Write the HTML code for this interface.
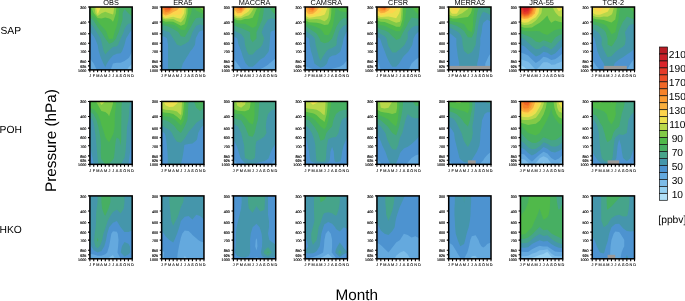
<!DOCTYPE html>
<html><head><meta charset="utf-8"><title>Ozone seasonal cycle</title>
<style>html,body{margin:0;padding:0;background:#fff;overflow:hidden}svg{display:block;will-change:transform;text-rendering:geometricPrecision}</style></head>
<body>
<svg width="685" height="301" viewBox="0 0 685 301" font-family="Liberation Sans, sans-serif">
<rect width="685" height="301" fill="#fff"/>
<g>
<rect x="89.9" y="7" width="42.3" height="62.9" fill="#7cbce8"/>
<path fill="#64a9de" d="M93.75,7 97.59,7 101.44,7 105.28,7 109.13,7 112.97,7 116.82,7 120.66,7 124.51,7 128.35,7 132.2,7 132.2,13.29 132.2,19.58 132.2,25.87 132.2,32.16 132.2,38.45 132.2,44.74 132.2,51.03 132.2,57.32 132.2,63.61 132.2,63.61 128.35,67.8 126.82,69.9 124.51,69.9 120.66,69.9 116.82,69.9 112.97,69.9 109.13,69.9 105.28,69.9 101.44,69.9 97.59,69.9 93.75,69.9 89.9,69.9 89.9,63.61 89.9,57.32 89.9,51.03 89.9,44.74 89.9,38.45 89.9,32.16 89.9,25.87 89.9,19.58 89.9,13.29 89.9,7Z"/>
<path fill="#4d93d0" d="M93.75,7 97.59,7 101.44,7 105.28,7 109.13,7 112.97,7 116.82,7 120.66,7 124.51,7 128.35,7 132.2,7 132.2,13.29 132.2,19.58 132.2,25.87 132.2,32.16 132.2,38.45 132.2,44.74 132.2,51.03 132.2,51.03 129.32,57.32 128.35,58.22 124.51,60.91 120.66,62.71 116.82,62.71 112.97,63.61 112.97,63.61 110.67,69.9 109.13,69.9 105.28,69.9 101.44,69.9 97.59,69.9 96.82,69.9 93.75,63.61 93.75,63.61 89.9,58.58 89.9,57.32 89.9,51.03 89.9,44.74 89.9,38.45 89.9,32.16 89.9,25.87 89.9,19.58 89.9,13.29 89.9,7Z"/>
<path fill="#4596ab" d="M93.75,7 97.59,7 101.44,7 105.28,7 109.13,7 112.97,7 116.82,7 120.66,7 124.51,7 128.35,7 132.2,7 132.2,13.29 132.2,19.58 132.2,25.87 132.2,29.46 129.89,32.16 128.35,34.68 126.05,38.45 124.51,44.74 124.51,44.74 122.2,51.03 120.66,53.13 116.82,53.73 112.97,55.38 111.43,57.32 109.13,60.02 106.93,63.61 105.28,67.04 103.36,63.61 101.44,58.89 100.67,57.32 98.69,51.03 97.59,44.74 97.59,44.74 95.03,38.45 93.75,36.35 90.67,32.16 89.9,31.26 89.9,25.87 89.9,19.58 89.9,13.29 89.9,7Z"/>
<path fill="#46a48a" d="M93.75,7 97.59,7 101.44,7 105.28,7 109.13,7 112.97,7 116.82,7 120.66,7 124.51,7 128.35,7 132.2,7 132.2,13.29 132.2,19.58 132.2,23.17 128.35,23.77 126.43,25.87 124.51,29.01 123.55,32.16 120.66,38.45 120.66,38.45 118.1,44.74 116.82,46.14 112.97,46.96 109.13,50.33 108.36,51.03 105.28,54.62 103.57,51.03 102.14,44.74 101.44,41.59 100.47,38.45 97.59,33.73 96.63,32.16 93.75,27.44 92.46,25.87 89.9,23.07 89.9,19.58 89.9,13.29 89.9,7Z"/>
<path fill="#47af62" d="M93.75,7 97.59,7 101.44,7 105.28,7 109.13,7 112.97,7 116.82,7 120.66,7 124.51,7 128.35,7 132.2,7 132.2,13.29 132.2,16.43 128.35,13.29 128.35,13.29 124.51,9.1 122.59,13.29 122.59,19.58 120.66,25.87 120.66,25.87 118.74,32.16 116.82,36.35 116.18,38.45 112.97,42.15 109.13,43.77 105.28,38.45 105.28,38.45 101.44,32.16 101.44,32.16 97.59,27.13 96.82,25.87 93.75,20.84 92.65,19.58 89.9,17.73 89.9,13.29 89.9,7Z"/>
<path fill="#50b94a" d="M93.75,7 97.59,7 101.44,7 105.28,7 109.13,7 112.97,7 116.82,7 119.38,7 118.74,13.29 118.36,19.58 116.82,25.87 116.82,25.87 114.51,32.16 112.97,38.45 112.97,38.45 109.13,38.93 108.78,38.45 106.56,32.16 105.28,30.06 101.44,25.87 101.44,25.87 97.59,21.3 96.54,19.58 93.75,16.78 89.9,14.03 89.9,13.29 89.9,7Z"/>
<path fill="#82ca47" d="M93.75,7 97.59,7 101.44,7 105.28,7 109.13,7 112.97,7 116.39,7 115.86,13.29 113.93,19.58 112.97,21.68 111.05,19.58 109.13,18.53 105.28,17.48 101.44,18.53 97.59,18.06 93.75,13.29 93.75,13.29 91,7Z"/>
<path fill="#b9d84a" d="M97.59,7 101.44,7 105.28,7 109.13,7 112.97,7 114.25,7 113.45,13.29 112.97,14.55 109.13,13.29 109.13,13.29 105.28,11.72 101.44,13.29 101.44,13.29 97.59,15.89 95.49,13.29 94.46,7Z"/>
<path fill="#ebe04e" d="M97.59,7 100.89,7 98.23,13.29 97.59,13.72 97.24,13.29 95.88,7Z"/>
<path fill="#fdd44c" d="M97.59,7 98.14,7 97.59,8.26 97.31,7Z"/>
<path d="M89.9,7h-1.9M89.9,22.03h-1.9M89.9,33.69h-1.9M89.9,43.21h-1.9M89.9,51.27h-1.9M89.9,61.41h-1.9M89.9,65.83h-1.9M89.9,69.9h-1.9M89.9,69.9v2.4M93.75,69.9v2.4M97.59,69.9v2.4M101.44,69.9v2.4M105.28,69.9v2.4M109.13,69.9v2.4M112.97,69.9v2.4M116.82,69.9v2.4M120.66,69.9v2.4M124.51,69.9v2.4M128.35,69.9v2.4M132.2,69.9v2.4" stroke="#000" stroke-width="1.1" fill="none"/>
<rect x="89.9" y="7" width="42.3" height="62.9" fill="none" stroke="#000" stroke-width="1.5"/>
<text x="86.3" y="8.8" font-size="3.7" text-anchor="end" fill="#000" stroke="#000" stroke-width="0.15">300</text>
<text x="86.3" y="23.83" font-size="3.7" text-anchor="end" fill="#000" stroke="#000" stroke-width="0.15">400</text>
<text x="86.3" y="35.49" font-size="3.7" text-anchor="end" fill="#000" stroke="#000" stroke-width="0.15">500</text>
<text x="86.3" y="45.01" font-size="3.7" text-anchor="end" fill="#000" stroke="#000" stroke-width="0.15">600</text>
<text x="86.3" y="53.07" font-size="3.7" text-anchor="end" fill="#000" stroke="#000" stroke-width="0.15">700</text>
<text x="86.3" y="63.21" font-size="3.7" text-anchor="end" fill="#000" stroke="#000" stroke-width="0.15">850</text>
<text x="86.3" y="67.63" font-size="3.7" text-anchor="end" fill="#000" stroke="#000" stroke-width="0.15">925</text>
<text x="86.3" y="71.7" font-size="3.7" text-anchor="end" fill="#000" stroke="#000" stroke-width="0.15">1000</text>
<text x="90.1" y="77.1" font-size="3.8" text-anchor="middle" fill="#000" stroke="#000" stroke-width="0.08">J</text>
<text x="93.95" y="77.1" font-size="3.8" text-anchor="middle" fill="#000" stroke="#000" stroke-width="0.08">F</text>
<text x="97.79" y="77.1" font-size="3.8" text-anchor="middle" fill="#000" stroke="#000" stroke-width="0.08">M</text>
<text x="101.64" y="77.1" font-size="3.8" text-anchor="middle" fill="#000" stroke="#000" stroke-width="0.08">A</text>
<text x="105.48" y="77.1" font-size="3.8" text-anchor="middle" fill="#000" stroke="#000" stroke-width="0.08">M</text>
<text x="109.33" y="77.1" font-size="3.8" text-anchor="middle" fill="#000" stroke="#000" stroke-width="0.08">J</text>
<text x="113.17" y="77.1" font-size="3.8" text-anchor="middle" fill="#000" stroke="#000" stroke-width="0.08">J</text>
<text x="117.02" y="77.1" font-size="3.8" text-anchor="middle" fill="#000" stroke="#000" stroke-width="0.08">A</text>
<text x="120.86" y="77.1" font-size="3.8" text-anchor="middle" fill="#000" stroke="#000" stroke-width="0.08">S</text>
<text x="124.71" y="77.1" font-size="3.8" text-anchor="middle" fill="#000" stroke="#000" stroke-width="0.08">O</text>
<text x="128.55" y="77.1" font-size="3.8" text-anchor="middle" fill="#000" stroke="#000" stroke-width="0.08">N</text>
<text x="132.4" y="77.1" font-size="3.8" text-anchor="middle" fill="#000" stroke="#000" stroke-width="0.08">D</text>
<text x="111.05" y="5.1" font-size="7.35" text-anchor="middle">OBS</text>
</g>
<g>
<rect x="161.66" y="7" width="42.3" height="62.9" fill="#4d93d0"/>
<path fill="#4596ab" d="M165.51,7 169.35,7 173.2,7 177.04,7 180.89,7 184.73,7 188.58,7 192.42,7 196.27,7 200.11,7 203.96,7 203.96,13.29 203.96,19.58 203.96,25.87 203.96,30.36 200.11,30.9 198.83,32.16 196.27,37.19 195.72,38.45 194.99,44.74 192.42,48.93 190.5,51.03 188.58,54.17 186.66,57.32 184.73,60.47 182.81,63.61 180.89,69.9 180.89,69.9 177.04,69.9 173.2,69.9 169.35,69.9 168.07,69.9 168.07,63.61 168.07,57.32 168.07,51.03 168.07,44.74 167.04,38.45 165.51,37.19 161.66,35.65 161.66,32.16 161.66,25.87 161.66,19.58 161.66,13.29 161.66,7Z"/>
<path fill="#46a48a" d="M165.51,7 169.35,7 173.2,7 177.04,7 180.89,7 184.73,7 188.58,7 192.42,7 196.27,7 200.11,7 203.96,7 203.96,13.29 203.96,19.58 203.96,25.87 200.11,24.3 196.27,25.87 196.27,25.87 192.42,32.16 192.42,32.16 190.23,38.45 188.58,41.59 184.73,44.04 182.81,44.74 180.89,46 177.04,44.74 177.04,44.74 173.2,38.45 173.2,38.45 169.35,32.16 169.35,32.16 165.51,31.11 161.66,29.3 161.66,25.87 161.66,19.58 161.66,13.29 161.66,7Z"/>
<path fill="#47af62" d="M165.51,7 169.35,7 173.2,7 177.04,7 180.89,7 184.73,7 188.58,7 192.42,7 196.27,7 200.11,7 203.96,7 203.96,13.29 203.96,18.68 200.11,17.48 196.27,18.01 194.99,19.58 192.42,23.77 191.46,25.87 188.58,30.59 187.62,32.16 184.73,36.88 180.89,36.35 178.32,32.16 177.04,31.26 173.2,29.01 169.35,26.92 165.51,25.87 165.51,25.87 161.66,24.9 161.66,19.58 161.66,13.29 161.66,7Z"/>
<path fill="#50b94a" d="M165.51,7 169.35,7 173.2,7 177.04,7 180.89,7 184.73,7 188.58,7 192.42,7 191.14,13.29 188.58,19.58 188.58,19.58 187.3,25.87 184.73,30.06 180.89,29.8 177.04,26.77 175.76,25.87 173.2,24.73 169.35,23.93 165.51,23.77 161.66,22.48 161.66,19.58 161.66,13.29 161.66,7ZM196.27,7 200.11,7 203.96,7 203.96,13.29 203.96,14.19 202.04,13.29 200.11,12.39 196.27,10.49 192.42,7Z"/>
<path fill="#82ca47" d="M165.51,7 169.35,7 173.2,7 177.04,7 180.89,7 184.73,7 187.81,7 187.62,13.29 186.17,19.58 184.73,24.3 180.89,25.87 177.04,23.68 173.2,21.87 169.35,21.52 165.51,21.68 161.66,20.06 161.66,19.58 161.66,13.29 161.66,7ZM200.11,7 203.96,7 203.96,11.1 200.11,7.9 199.02,7Z"/>
<path fill="#b9d84a" d="M165.51,7 169.35,7 173.2,7 177.04,7 180.89,7 184.73,7 186.27,7 186.01,13.29 184.73,17.48 183.45,19.58 180.89,22.38 177.04,20.95 174.3,19.58 173.2,19.11 169.35,19.24 165.51,19.58 161.66,18.26 161.66,13.29 161.66,7ZM203.96,7 203.96,8.37 202.48,7Z"/>
<path fill="#ebe04e" d="M165.51,7 169.35,7 173.2,7 177.04,7 180.89,7 184.73,7 184.18,13.29 180.89,18.68 177.04,18.01 173.2,16.78 169.35,17.54 165.51,18.18 161.66,16.6 161.66,13.29 161.66,7Z"/>
<path fill="#fdd44c" d="M165.51,7 169.35,7 173.2,7 177.04,7 180.89,7 182.6,7 181.44,13.29 180.89,14.19 177.04,14.86 173.2,14.45 169.35,15.84 165.51,16.78 161.66,14.95 161.66,13.29 161.66,7Z"/>
<path fill="#f8ae3e" d="M165.51,7 169.35,7 173.2,7 177.04,7 179.79,7 177.04,10.14 173.2,12.03 171.27,13.29 169.35,14.14 165.51,15.39 161.66,13.29 161.66,13.29 161.66,7Z"/>
<path fill="#fa9b32" d="M165.51,7 169.35,7 173.2,7 175.76,7 173.2,9.52 169.35,12.66 167.43,13.29 165.51,13.99 164.22,13.29 161.66,10.14 161.66,7Z"/>
<path fill="#f68229" d="M165.51,7 169.35,7 173.2,7 169.35,11.4 165.51,12.24 161.66,7Z"/>
<path fill="#f16726" d="M165.51,7 169.35,7 172.1,7 169.35,10.14 165.51,10.14 163.2,7Z"/>
<path fill="#ec4d27" d="M165.51,7 169.35,7 171,7 169.35,8.89 165.51,8.05 164.74,7Z"/>
<path fill="#e43a28" d="M169.35,7 169.9,7 169.35,7.63 167.43,7Z"/>
<path d="M161.66,7h-1.9M161.66,22.03h-1.9M161.66,33.69h-1.9M161.66,43.21h-1.9M161.66,51.27h-1.9M161.66,61.41h-1.9M161.66,65.83h-1.9M161.66,69.9h-1.9M161.66,69.9v2.4M165.51,69.9v2.4M169.35,69.9v2.4M173.2,69.9v2.4M177.04,69.9v2.4M180.89,69.9v2.4M184.73,69.9v2.4M188.58,69.9v2.4M192.42,69.9v2.4M196.27,69.9v2.4M200.11,69.9v2.4M203.96,69.9v2.4" stroke="#000" stroke-width="1.1" fill="none"/>
<rect x="161.66" y="7" width="42.3" height="62.9" fill="none" stroke="#000" stroke-width="1.5"/>
<text x="158.06" y="8.8" font-size="3.7" text-anchor="end" fill="#000" stroke="#000" stroke-width="0.15">300</text>
<text x="158.06" y="23.83" font-size="3.7" text-anchor="end" fill="#000" stroke="#000" stroke-width="0.15">400</text>
<text x="158.06" y="35.49" font-size="3.7" text-anchor="end" fill="#000" stroke="#000" stroke-width="0.15">500</text>
<text x="158.06" y="45.01" font-size="3.7" text-anchor="end" fill="#000" stroke="#000" stroke-width="0.15">600</text>
<text x="158.06" y="53.07" font-size="3.7" text-anchor="end" fill="#000" stroke="#000" stroke-width="0.15">700</text>
<text x="158.06" y="63.21" font-size="3.7" text-anchor="end" fill="#000" stroke="#000" stroke-width="0.15">850</text>
<text x="158.06" y="67.63" font-size="3.7" text-anchor="end" fill="#000" stroke="#000" stroke-width="0.15">925</text>
<text x="158.06" y="71.7" font-size="3.7" text-anchor="end" fill="#000" stroke="#000" stroke-width="0.15">1000</text>
<text x="161.86" y="77.1" font-size="3.8" text-anchor="middle" fill="#000" stroke="#000" stroke-width="0.08">J</text>
<text x="165.71" y="77.1" font-size="3.8" text-anchor="middle" fill="#000" stroke="#000" stroke-width="0.08">F</text>
<text x="169.55" y="77.1" font-size="3.8" text-anchor="middle" fill="#000" stroke="#000" stroke-width="0.08">M</text>
<text x="173.4" y="77.1" font-size="3.8" text-anchor="middle" fill="#000" stroke="#000" stroke-width="0.08">A</text>
<text x="177.24" y="77.1" font-size="3.8" text-anchor="middle" fill="#000" stroke="#000" stroke-width="0.08">M</text>
<text x="181.09" y="77.1" font-size="3.8" text-anchor="middle" fill="#000" stroke="#000" stroke-width="0.08">J</text>
<text x="184.93" y="77.1" font-size="3.8" text-anchor="middle" fill="#000" stroke="#000" stroke-width="0.08">J</text>
<text x="188.78" y="77.1" font-size="3.8" text-anchor="middle" fill="#000" stroke="#000" stroke-width="0.08">A</text>
<text x="192.62" y="77.1" font-size="3.8" text-anchor="middle" fill="#000" stroke="#000" stroke-width="0.08">S</text>
<text x="196.47" y="77.1" font-size="3.8" text-anchor="middle" fill="#000" stroke="#000" stroke-width="0.08">O</text>
<text x="200.31" y="77.1" font-size="3.8" text-anchor="middle" fill="#000" stroke="#000" stroke-width="0.08">N</text>
<text x="204.16" y="77.1" font-size="3.8" text-anchor="middle" fill="#000" stroke="#000" stroke-width="0.08">D</text>
<text x="182.81" y="5.1" font-size="7.35" text-anchor="middle">ERA5</text>
</g>
<g>
<rect x="233.42" y="7" width="42.3" height="62.9" fill="#64a9de"/>
<path fill="#4d93d0" d="M237.27,7 241.11,7 244.96,7 248.8,7 252.65,7 256.49,7 260.34,7 264.18,7 268.03,7 271.87,7 275.72,7 275.72,13.29 275.72,19.58 275.72,25.87 275.72,32.16 275.72,38.45 275.72,44.74 275.72,51.03 275.72,57.32 275.72,58.37 271.87,61.51 269.31,63.61 268.03,64.87 264.18,67.2 260.34,69 259.06,69.9 256.49,69.9 252.65,69.9 248.8,69.9 244.96,69.9 242.39,69.9 241.11,68.85 237.27,63.61 237.27,63.61 233.42,58.37 233.42,57.32 233.42,51.03 233.42,44.74 233.42,38.45 233.42,32.16 233.42,25.87 233.42,19.58 233.42,13.29 233.42,7Z"/>
<path fill="#4596ab" d="M237.27,7 241.11,7 244.96,7 248.8,7 252.65,7 256.49,7 260.34,7 264.18,7 268.03,7 271.87,7 275.72,7 275.72,13.29 275.72,19.58 275.72,25.87 275.72,30.06 271.87,30.9 270.59,32.16 269.95,38.45 269.57,44.74 268.8,51.03 268.03,52.6 264.18,57.32 264.18,57.32 260.34,59.42 256.49,63.61 256.49,63.61 252.65,66.75 248.8,66.75 245.73,63.61 244.96,62.04 243.03,57.32 241.11,51.03 241.11,51.03 238.55,44.74 237.27,38.45 237.27,38.45 233.42,35.93 233.42,32.16 233.42,25.87 233.42,19.58 233.42,13.29 233.42,7Z"/>
<path fill="#46a48a" d="M237.27,7 241.11,7 244.96,7 248.8,7 252.65,7 256.49,7 260.34,7 264.18,7 268.03,7 271.87,7 275.72,7 275.72,13.29 275.72,19.58 271.87,18.32 268.03,19.58 268.03,19.58 264.18,25.87 264.18,25.87 261.62,32.16 264.18,38.45 262.26,44.74 260.34,47.44 256.49,50.13 255.72,51.03 252.65,54.62 248.8,54.8 246.88,51.03 244.96,44.74 244.96,44.74 244.32,38.45 241.11,33.96 237.27,32.16 237.27,32.16 233.42,30.06 233.42,25.87 233.42,19.58 233.42,13.29 233.42,7Z"/>
<path fill="#47af62" d="M237.27,7 241.11,7 244.96,7 248.8,7 252.65,7 256.49,7 260.34,7 264.18,7 263.41,13.29 262.26,19.58 260.34,23.77 259.7,25.87 256.49,32.16 256.49,32.16 256.49,38.45 252.65,42.22 250.34,38.45 250.08,32.16 248.8,31.59 244.96,29.64 241.11,27.97 237.27,26.92 235.34,25.87 233.42,25.17 233.42,19.58 233.42,13.29 233.42,7ZM271.87,7 275.72,7 275.72,13.29 275.72,14.34 273.8,13.29 271.87,11.19 269.31,7Z"/>
<path fill="#50b94a" d="M237.27,7 241.11,7 244.96,7 248.8,7 252.65,7 256.49,7 260.34,7 260.98,7 260.34,10.14 259.38,13.29 258.03,19.58 256.49,25.87 256.49,25.87 252.65,27.97 248.8,25.87 248.8,25.87 244.96,23.77 241.11,23.77 237.27,23.35 233.42,21.68 233.42,19.58 233.42,13.29 233.42,7ZM275.72,7 275.72,8.26 274.76,7Z"/>
<path fill="#82ca47" d="M237.27,7 241.11,7 244.96,7 248.8,7 252.65,7 256.49,7 257.26,7 256.49,9.1 254.78,13.29 252.65,17.78 248.8,18.84 244.96,19.06 243.03,19.58 241.11,20.28 237.27,20.21 235.98,19.58 233.42,18.79 233.42,13.29 233.42,7Z"/>
<path fill="#b9d84a" d="M237.27,7 241.11,7 244.96,7 248.8,7 252.65,7 254.13,7 252.65,10.14 250.72,13.29 248.8,15.14 244.96,16.43 241.11,18.18 237.27,18.26 233.42,16.83 233.42,13.29 233.42,7Z"/>
<path fill="#ebe04e" d="M237.27,7 241.11,7 244.96,7 248.8,7 251.37,7 248.8,11.19 246.06,13.29 244.96,13.81 241.11,16.43 237.27,16.6 233.42,14.86 233.42,13.29 233.42,7Z"/>
<path fill="#fdd44c" d="M237.27,7 241.11,7 244.96,7 248.8,7 244.96,11.35 243.03,13.29 241.11,14.69 237.27,14.95 234.06,13.29 233.42,12.5 233.42,7Z"/>
<path fill="#f8ae3e" d="M237.27,7 241.11,7 244.96,7 246.67,7 244.96,8.94 241.11,13.03 237.27,13.29 233.42,8.57 233.42,7Z"/>
<path fill="#fa9b32" d="M237.27,7 241.11,7 244.75,7 241.11,11.72 237.27,10.87 234.47,7Z"/>
<path fill="#f68229" d="M237.27,7 241.11,7 243.74,7 241.11,10.41 237.27,8.45 236.22,7Z"/>
<path fill="#f16726" d="M241.11,7 242.73,7 241.11,9.1 238.03,7Z"/>
<path fill="#ec4d27" d="M241.11,7 241.72,7 241.11,7.79 239.96,7Z"/>
<path d="M233.42,7h-1.9M233.42,22.03h-1.9M233.42,33.69h-1.9M233.42,43.21h-1.9M233.42,51.27h-1.9M233.42,61.41h-1.9M233.42,65.83h-1.9M233.42,69.9h-1.9M233.42,69.9v2.4M237.27,69.9v2.4M241.11,69.9v2.4M244.96,69.9v2.4M248.8,69.9v2.4M252.65,69.9v2.4M256.49,69.9v2.4M260.34,69.9v2.4M264.18,69.9v2.4M268.03,69.9v2.4M271.87,69.9v2.4M275.72,69.9v2.4" stroke="#000" stroke-width="1.1" fill="none"/>
<rect x="233.42" y="7" width="42.3" height="62.9" fill="none" stroke="#000" stroke-width="1.5"/>
<text x="229.82" y="8.8" font-size="3.7" text-anchor="end" fill="#000" stroke="#000" stroke-width="0.15">300</text>
<text x="229.82" y="23.83" font-size="3.7" text-anchor="end" fill="#000" stroke="#000" stroke-width="0.15">400</text>
<text x="229.82" y="35.49" font-size="3.7" text-anchor="end" fill="#000" stroke="#000" stroke-width="0.15">500</text>
<text x="229.82" y="45.01" font-size="3.7" text-anchor="end" fill="#000" stroke="#000" stroke-width="0.15">600</text>
<text x="229.82" y="53.07" font-size="3.7" text-anchor="end" fill="#000" stroke="#000" stroke-width="0.15">700</text>
<text x="229.82" y="63.21" font-size="3.7" text-anchor="end" fill="#000" stroke="#000" stroke-width="0.15">850</text>
<text x="229.82" y="67.63" font-size="3.7" text-anchor="end" fill="#000" stroke="#000" stroke-width="0.15">925</text>
<text x="229.82" y="71.7" font-size="3.7" text-anchor="end" fill="#000" stroke="#000" stroke-width="0.15">1000</text>
<text x="233.62" y="77.1" font-size="3.8" text-anchor="middle" fill="#000" stroke="#000" stroke-width="0.08">J</text>
<text x="237.47" y="77.1" font-size="3.8" text-anchor="middle" fill="#000" stroke="#000" stroke-width="0.08">F</text>
<text x="241.31" y="77.1" font-size="3.8" text-anchor="middle" fill="#000" stroke="#000" stroke-width="0.08">M</text>
<text x="245.16" y="77.1" font-size="3.8" text-anchor="middle" fill="#000" stroke="#000" stroke-width="0.08">A</text>
<text x="249" y="77.1" font-size="3.8" text-anchor="middle" fill="#000" stroke="#000" stroke-width="0.08">M</text>
<text x="252.85" y="77.1" font-size="3.8" text-anchor="middle" fill="#000" stroke="#000" stroke-width="0.08">J</text>
<text x="256.69" y="77.1" font-size="3.8" text-anchor="middle" fill="#000" stroke="#000" stroke-width="0.08">J</text>
<text x="260.54" y="77.1" font-size="3.8" text-anchor="middle" fill="#000" stroke="#000" stroke-width="0.08">A</text>
<text x="264.38" y="77.1" font-size="3.8" text-anchor="middle" fill="#000" stroke="#000" stroke-width="0.08">S</text>
<text x="268.23" y="77.1" font-size="3.8" text-anchor="middle" fill="#000" stroke="#000" stroke-width="0.08">O</text>
<text x="272.07" y="77.1" font-size="3.8" text-anchor="middle" fill="#000" stroke="#000" stroke-width="0.08">N</text>
<text x="275.92" y="77.1" font-size="3.8" text-anchor="middle" fill="#000" stroke="#000" stroke-width="0.08">D</text>
<text x="254.57" y="5.1" font-size="7.35" text-anchor="middle">MACCRA</text>
</g>
<g>
<rect x="305.18" y="7" width="42.3" height="62.9" fill="#64a9de"/>
<path fill="#4d93d0" d="M309.03,7 312.87,7 316.72,7 320.56,7 324.41,7 328.25,7 332.1,7 335.94,7 339.79,7 343.63,7 347.48,7 347.48,13.29 347.48,19.58 347.48,25.87 347.48,32.16 347.48,38.45 347.48,44.74 347.48,51.03 347.48,57.32 347.48,59.42 344.4,63.61 343.63,64.51 339.79,66.75 335.94,67.8 332.1,68.85 328.25,69.9 328.25,69.9 324.41,69.9 320.56,69.9 316.72,69.9 314.15,69.9 312.87,69.2 309.03,67.8 305.18,66.13 305.18,63.61 305.18,57.32 305.18,51.03 305.18,44.74 305.18,38.45 305.18,32.16 305.18,25.87 305.18,19.58 305.18,13.29 305.18,7Z"/>
<path fill="#4596ab" d="M309.03,7 312.87,7 316.72,7 320.56,7 324.41,7 328.25,7 332.1,7 335.94,7 339.79,7 343.63,7 347.48,7 347.48,13.29 347.48,19.58 347.48,25.87 347.48,30.9 346.2,32.16 343.63,38.45 343.63,38.45 342.35,44.74 340.56,51.03 339.79,52.29 335.94,54.96 332.1,55.75 329.53,57.32 328.25,59.42 326.97,63.61 324.41,66.13 320.56,67.8 316.72,65.33 314.41,63.61 312.87,57.32 312.87,57.32 310.95,51.03 309.67,44.74 309.03,38.45 309.03,38.45 305.18,36.35 305.18,32.16 305.18,25.87 305.18,19.58 305.18,13.29 305.18,7Z"/>
<path fill="#46a48a" d="M309.03,7 312.87,7 316.72,7 320.56,7 324.41,7 328.25,7 332.1,7 335.94,7 339.79,7 343.63,7 347.48,7 347.48,13.29 347.48,19.58 347.48,24.61 343.63,25.87 343.63,25.87 339.79,30.06 338.83,32.16 337.04,38.45 336.49,44.74 335.94,45.79 332.1,47.88 328.25,49.46 326.71,51.03 324.41,54.17 322.48,57.32 320.56,61.09 318.91,57.32 317.27,51.03 316.72,48.93 315.62,44.74 314.79,38.45 312.87,36.35 309.03,33.21 307.74,32.16 305.18,30.36 305.18,25.87 305.18,19.58 305.18,13.29 305.18,7Z"/>
<path fill="#47af62" d="M309.03,7 312.87,7 316.72,7 320.56,7 324.41,7 328.25,7 332.1,7 335.94,7 339.79,7 343.63,7 347.48,7 347.48,13.29 347.48,18.32 343.63,18.32 341.71,19.58 339.79,21.15 336.91,25.87 335.94,27.97 334.41,32.16 332.1,38.45 332.1,38.45 328.25,42.22 324.41,43.34 320.56,41.59 319.6,38.45 316.72,33.73 314.79,32.16 312.87,31.11 309.03,28.57 305.18,25.87 305.18,25.87 305.18,19.58 305.18,13.29 305.18,7Z"/>
<path fill="#50b94a" d="M309.03,7 312.87,7 316.72,7 320.56,7 324.41,7 328.25,7 332.1,7 335.94,7 334.98,13.29 334.02,19.58 332.87,25.87 332.1,27.97 330.18,32.16 328.25,35.3 324.41,34.68 323.13,32.16 320.56,29.01 316.72,27.13 312.87,25.87 312.87,25.87 309.03,24.82 305.18,23.01 305.18,19.58 305.18,13.29 305.18,7ZM339.79,7 343.63,7 347.48,7 347.48,12.24 343.63,11.72 339.79,11.19 335.94,7Z"/>
<path fill="#82ca47" d="M309.03,7 312.87,7 316.72,7 320.56,7 324.41,7 328.25,7 331.4,7 331.24,13.29 330.45,19.58 328.25,24.61 324.41,25.08 320.56,23.51 316.72,22.72 312.87,22.38 309.03,22.2 305.18,20.15 305.18,19.58 305.18,13.29 305.18,7Z"/>
<path fill="#b9d84a" d="M309.03,7 312.87,7 316.72,7 320.56,7 324.41,7 328.25,7 329.65,7 329.11,13.29 328.25,17.48 326.97,19.58 324.41,21.15 320.56,19.58 320.56,19.58 316.72,19.06 312.87,19.21 309.03,19.58 305.18,17.9 305.18,13.29 305.18,7Z"/>
<path fill="#ebe04e" d="M309.03,7 312.87,7 316.72,7 320.56,7 324.41,7 327.61,7 325.37,13.29 324.41,14.86 320.56,16.09 316.72,16.43 312.87,17.36 309.03,17.78 305.18,15.81 305.18,13.29 305.18,7Z"/>
<path fill="#fdd44c" d="M309.03,7 312.87,7 316.72,7 320.56,7 324.41,7 320.56,11.49 318.64,13.29 316.72,13.81 312.87,15.51 309.03,15.99 305.18,13.71 305.18,13.29 305.18,7Z"/>
<path fill="#f8ae3e" d="M309.03,7 312.87,7 316.72,7 319.43,7 316.72,10.77 313.64,13.29 312.87,13.66 309.03,14.19 307.55,13.29 305.18,9.7 305.18,7Z"/>
<path fill="#fa9b32" d="M309.03,7 312.87,7 316.72,7 317.17,7 316.72,7.63 312.87,12.17 309.03,11.92 305.88,7Z"/>
<path fill="#f68229" d="M309.03,7 312.87,7 315.84,7 312.87,10.77 309.03,9.19 307.63,7Z"/>
<path fill="#f16726" d="M312.87,7 314.74,7 312.87,9.38 309.43,7Z"/>
<path fill="#ec4d27" d="M312.87,7 313.64,7 312.87,7.98 311.45,7Z"/>
<path d="M305.18,7h-1.9M305.18,22.03h-1.9M305.18,33.69h-1.9M305.18,43.21h-1.9M305.18,51.27h-1.9M305.18,61.41h-1.9M305.18,65.83h-1.9M305.18,69.9h-1.9M305.18,69.9v2.4M309.03,69.9v2.4M312.87,69.9v2.4M316.72,69.9v2.4M320.56,69.9v2.4M324.41,69.9v2.4M328.25,69.9v2.4M332.1,69.9v2.4M335.94,69.9v2.4M339.79,69.9v2.4M343.63,69.9v2.4M347.48,69.9v2.4" stroke="#000" stroke-width="1.1" fill="none"/>
<rect x="305.18" y="7" width="42.3" height="62.9" fill="none" stroke="#000" stroke-width="1.5"/>
<text x="301.58" y="8.8" font-size="3.7" text-anchor="end" fill="#000" stroke="#000" stroke-width="0.15">300</text>
<text x="301.58" y="23.83" font-size="3.7" text-anchor="end" fill="#000" stroke="#000" stroke-width="0.15">400</text>
<text x="301.58" y="35.49" font-size="3.7" text-anchor="end" fill="#000" stroke="#000" stroke-width="0.15">500</text>
<text x="301.58" y="45.01" font-size="3.7" text-anchor="end" fill="#000" stroke="#000" stroke-width="0.15">600</text>
<text x="301.58" y="53.07" font-size="3.7" text-anchor="end" fill="#000" stroke="#000" stroke-width="0.15">700</text>
<text x="301.58" y="63.21" font-size="3.7" text-anchor="end" fill="#000" stroke="#000" stroke-width="0.15">850</text>
<text x="301.58" y="67.63" font-size="3.7" text-anchor="end" fill="#000" stroke="#000" stroke-width="0.15">925</text>
<text x="301.58" y="71.7" font-size="3.7" text-anchor="end" fill="#000" stroke="#000" stroke-width="0.15">1000</text>
<text x="305.38" y="77.1" font-size="3.8" text-anchor="middle" fill="#000" stroke="#000" stroke-width="0.08">J</text>
<text x="309.23" y="77.1" font-size="3.8" text-anchor="middle" fill="#000" stroke="#000" stroke-width="0.08">F</text>
<text x="313.07" y="77.1" font-size="3.8" text-anchor="middle" fill="#000" stroke="#000" stroke-width="0.08">M</text>
<text x="316.92" y="77.1" font-size="3.8" text-anchor="middle" fill="#000" stroke="#000" stroke-width="0.08">A</text>
<text x="320.76" y="77.1" font-size="3.8" text-anchor="middle" fill="#000" stroke="#000" stroke-width="0.08">M</text>
<text x="324.61" y="77.1" font-size="3.8" text-anchor="middle" fill="#000" stroke="#000" stroke-width="0.08">J</text>
<text x="328.45" y="77.1" font-size="3.8" text-anchor="middle" fill="#000" stroke="#000" stroke-width="0.08">J</text>
<text x="332.3" y="77.1" font-size="3.8" text-anchor="middle" fill="#000" stroke="#000" stroke-width="0.08">A</text>
<text x="336.14" y="77.1" font-size="3.8" text-anchor="middle" fill="#000" stroke="#000" stroke-width="0.08">S</text>
<text x="339.99" y="77.1" font-size="3.8" text-anchor="middle" fill="#000" stroke="#000" stroke-width="0.08">O</text>
<text x="343.83" y="77.1" font-size="3.8" text-anchor="middle" fill="#000" stroke="#000" stroke-width="0.08">N</text>
<text x="347.68" y="77.1" font-size="3.8" text-anchor="middle" fill="#000" stroke="#000" stroke-width="0.08">D</text>
<text x="326.33" y="5.1" font-size="7.35" text-anchor="middle">CAMSRA</text>
</g>
<g>
<rect x="376.94" y="7" width="42.3" height="62.9" fill="#64a9de"/>
<path fill="#4d93d0" d="M380.79,7 384.63,7 388.48,7 392.32,7 396.17,7 400.01,7 403.86,7 407.7,7 411.55,7 415.39,7 419.24,7 419.24,13.29 419.24,19.58 419.24,25.87 419.24,32.16 419.24,38.45 419.24,44.74 419.24,51.03 419.24,57.32 419.24,57.32 415.39,59.84 411.55,63.61 411.55,63.61 408.67,69.9 407.7,69.9 403.86,69.9 400.01,69.9 396.17,69.9 392.32,69.9 388.48,69.9 384.63,69.9 380.79,69.9 380.79,69.9 378.86,63.61 376.94,60.47 376.94,57.32 376.94,51.03 376.94,44.74 376.94,38.45 376.94,32.16 376.94,25.87 376.94,19.58 376.94,13.29 376.94,7Z"/>
<path fill="#4596ab" d="M380.79,7 384.63,7 388.48,7 392.32,7 396.17,7 400.01,7 403.86,7 407.7,7 411.55,7 415.39,7 419.24,7 419.24,13.29 419.24,19.58 419.24,25.87 419.24,31.59 417.96,32.16 415.39,34.68 413.47,38.45 412.32,44.74 411.55,46.31 408.67,51.03 407.7,52.29 403.86,56.06 402.9,57.32 400.01,62.04 399.05,63.61 396.17,66.75 392.32,66.75 390.01,63.61 388.48,60.47 386.94,57.32 384.63,51.03 384.63,51.03 382.07,44.74 380.79,40.55 379.82,38.45 376.94,36.73 376.94,32.16 376.94,25.87 376.94,19.58 376.94,13.29 376.94,7Z"/>
<path fill="#46a48a" d="M380.79,7 384.63,7 388.48,7 392.32,7 396.17,7 400.01,7 403.86,7 407.7,7 411.55,7 415.39,7 419.24,7 419.24,13.29 419.24,19.58 419.24,25.87 415.39,25.87 415.39,25.87 411.55,27.67 407.7,32.16 407.7,32.16 407.7,38.45 404.63,44.74 403.86,45.64 400.01,49.23 397.45,51.03 396.17,52.6 392.32,52.6 391.36,51.03 388.48,46.31 387.93,44.74 386.55,38.45 384.63,36.35 380.79,34.1 378.22,32.16 376.94,31.26 376.94,25.87 376.94,19.58 376.94,13.29 376.94,7Z"/>
<path fill="#47af62" d="M380.79,7 384.63,7 388.48,7 392.32,7 396.17,7 400.01,7 403.86,7 407.7,7 411.55,7 415.39,7 419.24,7 419.24,13.29 419.24,18.68 415.39,18.32 411.55,17.48 410.27,19.58 407.7,23.77 406.93,25.87 403.86,30.9 403.09,32.16 400.01,38.45 400.01,38.45 396.17,40.02 394.89,38.45 392.32,36.35 388.48,32.16 388.48,32.16 384.63,30.36 380.79,29.46 376.94,26.77 376.94,25.87 376.94,19.58 376.94,13.29 376.94,7Z"/>
<path fill="#50b94a" d="M380.79,7 384.63,7 388.48,7 392.32,7 396.17,7 400.01,7 403.86,7 406.42,7 405.78,13.29 404.82,19.58 403.86,22.72 403.31,25.87 400.01,31.26 396.17,31.26 392.32,29.46 388.48,27.67 384.63,25.87 384.63,25.87 380.79,25.17 376.94,23.35 376.94,19.58 376.94,13.29 376.94,7ZM415.39,7 419.24,7 419.24,13.29 419.24,14.19 417.32,13.29 415.39,11.72 411.55,7Z"/>
<path fill="#82ca47" d="M380.79,7 384.63,7 388.48,7 392.32,7 396.17,7 400.01,7 403.03,7 402.9,13.29 402.46,19.58 400.56,25.87 400.01,26.77 396.17,26.77 394.24,25.87 392.32,25.08 388.48,23.51 384.63,21.94 380.79,21.68 376.94,20.21 376.94,19.58 376.94,13.29 376.94,7ZM419.24,7 419.24,10.49 416.49,7Z"/>
<path fill="#b9d84a" d="M380.79,7 384.63,7 388.48,7 392.32,7 396.17,7 400.01,7 401.66,7 401.29,13.29 400.71,19.58 400.01,21.68 396.17,22.72 392.32,21.15 388.48,19.58 388.48,19.58 384.63,18.74 380.79,18.84 376.94,17.78 376.94,13.29 376.94,7Z"/>
<path fill="#ebe04e" d="M380.79,7 384.63,7 388.48,7 392.32,7 396.17,7 400.01,7 400.29,7 400.01,10.14 399.24,13.29 396.17,18.32 392.32,17.22 388.48,16.43 384.63,16.64 380.79,16.99 376.94,15.54 376.94,13.29 376.94,7Z"/>
<path fill="#fdd44c" d="M380.79,7 384.63,7 388.48,7 392.32,7 396.17,7 396.94,7 396.17,10.14 392.32,13.29 388.48,13.29 388.48,13.29 384.63,14.55 380.79,15.14 376.94,13.29 376.94,13.29 376.94,7Z"/>
<path fill="#f8ae3e" d="M380.79,7 384.63,7 388.48,7 391.19,7 388.48,10.43 384.63,12.78 380.79,13.29 376.94,9.8 376.94,7Z"/>
<path fill="#fa9b32" d="M380.79,7 384.63,7 388.48,7 388.93,7 388.48,7.57 384.63,11.49 380.79,11.19 377.29,7Z"/>
<path fill="#f68229" d="M380.79,7 384.63,7 387.54,7 384.63,10.21 380.79,9.1 379.04,7Z"/>
<path fill="#f16726" d="M384.63,7 386.38,7 384.63,8.93 380.79,7Z"/>
<path fill="#ec4d27" d="M384.63,7 385.21,7 384.63,7.64 383.35,7Z"/>
<path d="M376.94,7h-1.9M376.94,22.03h-1.9M376.94,33.69h-1.9M376.94,43.21h-1.9M376.94,51.27h-1.9M376.94,61.41h-1.9M376.94,65.83h-1.9M376.94,69.9h-1.9M376.94,69.9v2.4M380.79,69.9v2.4M384.63,69.9v2.4M388.48,69.9v2.4M392.32,69.9v2.4M396.17,69.9v2.4M400.01,69.9v2.4M403.86,69.9v2.4M407.7,69.9v2.4M411.55,69.9v2.4M415.39,69.9v2.4M419.24,69.9v2.4" stroke="#000" stroke-width="1.1" fill="none"/>
<rect x="376.94" y="7" width="42.3" height="62.9" fill="none" stroke="#000" stroke-width="1.5"/>
<text x="373.34" y="8.8" font-size="3.7" text-anchor="end" fill="#000" stroke="#000" stroke-width="0.15">300</text>
<text x="373.34" y="23.83" font-size="3.7" text-anchor="end" fill="#000" stroke="#000" stroke-width="0.15">400</text>
<text x="373.34" y="35.49" font-size="3.7" text-anchor="end" fill="#000" stroke="#000" stroke-width="0.15">500</text>
<text x="373.34" y="45.01" font-size="3.7" text-anchor="end" fill="#000" stroke="#000" stroke-width="0.15">600</text>
<text x="373.34" y="53.07" font-size="3.7" text-anchor="end" fill="#000" stroke="#000" stroke-width="0.15">700</text>
<text x="373.34" y="63.21" font-size="3.7" text-anchor="end" fill="#000" stroke="#000" stroke-width="0.15">850</text>
<text x="373.34" y="67.63" font-size="3.7" text-anchor="end" fill="#000" stroke="#000" stroke-width="0.15">925</text>
<text x="373.34" y="71.7" font-size="3.7" text-anchor="end" fill="#000" stroke="#000" stroke-width="0.15">1000</text>
<text x="377.14" y="77.1" font-size="3.8" text-anchor="middle" fill="#000" stroke="#000" stroke-width="0.08">J</text>
<text x="380.99" y="77.1" font-size="3.8" text-anchor="middle" fill="#000" stroke="#000" stroke-width="0.08">F</text>
<text x="384.83" y="77.1" font-size="3.8" text-anchor="middle" fill="#000" stroke="#000" stroke-width="0.08">M</text>
<text x="388.68" y="77.1" font-size="3.8" text-anchor="middle" fill="#000" stroke="#000" stroke-width="0.08">A</text>
<text x="392.52" y="77.1" font-size="3.8" text-anchor="middle" fill="#000" stroke="#000" stroke-width="0.08">M</text>
<text x="396.37" y="77.1" font-size="3.8" text-anchor="middle" fill="#000" stroke="#000" stroke-width="0.08">J</text>
<text x="400.21" y="77.1" font-size="3.8" text-anchor="middle" fill="#000" stroke="#000" stroke-width="0.08">J</text>
<text x="404.06" y="77.1" font-size="3.8" text-anchor="middle" fill="#000" stroke="#000" stroke-width="0.08">A</text>
<text x="407.9" y="77.1" font-size="3.8" text-anchor="middle" fill="#000" stroke="#000" stroke-width="0.08">S</text>
<text x="411.75" y="77.1" font-size="3.8" text-anchor="middle" fill="#000" stroke="#000" stroke-width="0.08">O</text>
<text x="415.59" y="77.1" font-size="3.8" text-anchor="middle" fill="#000" stroke="#000" stroke-width="0.08">N</text>
<text x="419.44" y="77.1" font-size="3.8" text-anchor="middle" fill="#000" stroke="#000" stroke-width="0.08">D</text>
<text x="398.09" y="5.1" font-size="7.35" text-anchor="middle">CFSR</text>
</g>
<g>
<rect x="448.7" y="7" width="42.3" height="62.9" fill="#64a9de"/>
<path fill="#4d93d0" d="M452.55,7 456.39,7 460.24,7 464.08,7 467.93,7 471.77,7 475.62,7 479.46,7 483.31,7 487.15,7 491,7 491,13.29 491,19.58 491,25.87 491,32.16 491,38.45 491,44.74 491,51.03 491,52.6 488.12,57.32 487.15,59.42 485.23,63.61 485.23,69.9 483.31,69.9 479.46,69.9 475.62,69.9 471.77,69.9 467.93,69.9 464.08,69.9 460.24,69.9 456.39,69.9 452.55,69.9 448.7,69.9 448.7,63.61 448.7,57.32 448.7,51.03 448.7,44.74 448.7,38.45 448.7,32.16 448.7,25.87 448.7,19.58 448.7,13.29 448.7,7Z"/>
<path fill="#4596ab" d="M452.55,7 456.39,7 460.24,7 464.08,7 467.93,7 471.77,7 475.62,7 479.46,7 483.31,7 487.15,7 491,7 491,13.29 491,19.58 491,21.68 487.15,19.58 487.15,19.58 487.15,19.58 483.31,22.72 482.35,25.87 481.66,32.16 480.23,38.45 480.23,44.74 479.46,51.03 479.46,51.03 478.69,57.32 477.16,63.61 477.16,69.9 475.62,69.9 471.77,69.9 467.93,69.9 464.08,69.9 460.24,69.9 459.28,69.9 459.28,63.61 457.93,57.32 457.16,51.03 456.39,44.74 456.39,38.45 456.39,38.45 452.55,35.3 448.7,32.16 448.7,32.16 448.7,25.87 448.7,19.58 448.7,13.29 448.7,7Z"/>
<path fill="#46a48a" d="M452.55,7 456.39,7 460.24,7 464.08,7 467.93,7 471.77,7 475.62,7 479.46,7 483.31,7 487.15,7 491,7 491,13.29 491,15.39 487.15,13.29 487.15,13.29 483.31,11.72 482.03,13.29 479.46,19.58 479.46,19.58 478.18,25.87 477.16,32.16 476.32,38.45 475.62,44.74 475.62,44.74 472.54,51.03 471.77,52.29 467.93,54.17 464.08,51.03 464.08,51.03 462.64,44.74 462.16,38.45 460.24,34.26 458.31,32.16 456.39,31.11 452.55,29.01 448.7,26.92 448.7,25.87 448.7,19.58 448.7,13.29 448.7,7Z"/>
<path fill="#47af62" d="M452.55,7 456.39,7 460.24,7 464.08,7 467.93,7 471.77,7 475.62,7 478.69,7 477.16,13.29 476.26,19.58 475.62,22.72 475.19,25.87 474.18,32.16 471.77,37.4 467.93,37.19 464.85,32.16 464.08,30.9 460.24,27.97 456.39,25.87 456.39,25.87 452.55,24.61 448.7,23.35 448.7,19.58 448.7,13.29 448.7,7ZM491,7 491,10.14 487.15,7Z"/>
<path fill="#50b94a" d="M452.55,7 456.39,7 460.24,7 464.08,7 467.93,7 471.77,7 475.07,7 473.97,13.29 473.05,19.58 473.05,25.87 471.77,32.16 467.93,30.36 465.18,25.87 464.08,24.3 460.24,22.72 456.39,21.94 452.55,21.47 448.7,20.21 448.7,19.58 448.7,13.29 448.7,7Z"/>
<path fill="#82ca47" d="M452.55,7 456.39,7 460.24,7 464.08,7 467.93,7 471.77,7 472.32,7 471.77,10.14 470.81,13.29 467.93,17.06 464.08,17.48 460.24,18.01 456.39,18.61 452.55,18.61 448.7,17.29 448.7,13.29 448.7,7Z"/>
<path fill="#b9d84a" d="M452.55,7 456.39,7 460.24,7 464.08,7 467.93,7 468.7,7 467.93,9.1 464.08,11.72 462.16,13.29 460.24,14.08 456.39,16.19 452.55,16.19 448.7,14.43 448.7,13.29 448.7,7Z"/>
<path fill="#ebe04e" d="M452.55,7 456.39,7 460.24,7 461.52,7 460.24,8.26 457.16,13.29 456.39,13.77 452.55,13.77 451.58,13.29 448.7,8.57 448.7,7Z"/>
<path fill="#fdd44c" d="M452.55,7 456.39,7 458.7,7 456.39,10.77 452.55,9.42 451.07,7Z"/>
<path fill="#f8ae3e" d="M456.39,7 456.78,7 456.39,7.63 455.29,7Z"/>
<rect x="448.7" y="65.9" width="42.3" height="4" fill="#999"/>
<path d="M448.7,7h-1.9M448.7,22.03h-1.9M448.7,33.69h-1.9M448.7,43.21h-1.9M448.7,51.27h-1.9M448.7,61.41h-1.9M448.7,65.83h-1.9M448.7,69.9h-1.9M448.7,69.9v2.4M452.55,69.9v2.4M456.39,69.9v2.4M460.24,69.9v2.4M464.08,69.9v2.4M467.93,69.9v2.4M471.77,69.9v2.4M475.62,69.9v2.4M479.46,69.9v2.4M483.31,69.9v2.4M487.15,69.9v2.4M491,69.9v2.4" stroke="#000" stroke-width="1.1" fill="none"/>
<rect x="448.7" y="7" width="42.3" height="62.9" fill="none" stroke="#000" stroke-width="1.5"/>
<text x="445.1" y="8.8" font-size="3.7" text-anchor="end" fill="#000" stroke="#000" stroke-width="0.15">300</text>
<text x="445.1" y="23.83" font-size="3.7" text-anchor="end" fill="#000" stroke="#000" stroke-width="0.15">400</text>
<text x="445.1" y="35.49" font-size="3.7" text-anchor="end" fill="#000" stroke="#000" stroke-width="0.15">500</text>
<text x="445.1" y="45.01" font-size="3.7" text-anchor="end" fill="#000" stroke="#000" stroke-width="0.15">600</text>
<text x="445.1" y="53.07" font-size="3.7" text-anchor="end" fill="#000" stroke="#000" stroke-width="0.15">700</text>
<text x="445.1" y="63.21" font-size="3.7" text-anchor="end" fill="#000" stroke="#000" stroke-width="0.15">850</text>
<text x="445.1" y="67.63" font-size="3.7" text-anchor="end" fill="#000" stroke="#000" stroke-width="0.15">925</text>
<text x="445.1" y="71.7" font-size="3.7" text-anchor="end" fill="#000" stroke="#000" stroke-width="0.15">1000</text>
<text x="448.9" y="77.1" font-size="3.8" text-anchor="middle" fill="#000" stroke="#000" stroke-width="0.08">J</text>
<text x="452.75" y="77.1" font-size="3.8" text-anchor="middle" fill="#000" stroke="#000" stroke-width="0.08">F</text>
<text x="456.59" y="77.1" font-size="3.8" text-anchor="middle" fill="#000" stroke="#000" stroke-width="0.08">M</text>
<text x="460.44" y="77.1" font-size="3.8" text-anchor="middle" fill="#000" stroke="#000" stroke-width="0.08">A</text>
<text x="464.28" y="77.1" font-size="3.8" text-anchor="middle" fill="#000" stroke="#000" stroke-width="0.08">M</text>
<text x="468.13" y="77.1" font-size="3.8" text-anchor="middle" fill="#000" stroke="#000" stroke-width="0.08">J</text>
<text x="471.97" y="77.1" font-size="3.8" text-anchor="middle" fill="#000" stroke="#000" stroke-width="0.08">J</text>
<text x="475.82" y="77.1" font-size="3.8" text-anchor="middle" fill="#000" stroke="#000" stroke-width="0.08">A</text>
<text x="479.66" y="77.1" font-size="3.8" text-anchor="middle" fill="#000" stroke="#000" stroke-width="0.08">S</text>
<text x="483.51" y="77.1" font-size="3.8" text-anchor="middle" fill="#000" stroke="#000" stroke-width="0.08">O</text>
<text x="487.35" y="77.1" font-size="3.8" text-anchor="middle" fill="#000" stroke="#000" stroke-width="0.08">N</text>
<text x="491.2" y="77.1" font-size="3.8" text-anchor="middle" fill="#000" stroke="#000" stroke-width="0.08">D</text>
<text x="469.85" y="5.1" font-size="7.35" text-anchor="middle">MERRA2</text>
</g>
<g>
<rect x="520.46" y="7" width="42.3" height="62.9" fill="#96d1f2"/>
<path fill="#7cbce8" d="M524.31,7 528.15,7 532,7 535.84,7 539.69,7 543.53,7 547.38,7 551.22,7 555.07,7 558.91,7 562.76,7 562.76,13.29 562.76,19.58 562.76,25.87 562.76,32.16 562.76,38.45 562.76,44.74 562.76,51.03 562.76,57.32 562.76,63.61 562.76,69.9 558.91,69.9 555.07,69.9 551.22,69.9 547.38,69.9 543.53,69.9 539.69,69.9 535.84,69.9 532,69.9 528.15,69.9 527.38,69.9 524.31,67.1 520.46,65.01 520.46,63.61 520.46,57.32 520.46,51.03 520.46,44.74 520.46,38.45 520.46,32.16 520.46,25.87 520.46,19.58 520.46,13.29 520.46,7Z"/>
<path fill="#64a9de" d="M524.31,7 528.15,7 532,7 535.84,7 539.69,7 543.53,7 547.38,7 551.22,7 555.07,7 558.91,7 562.76,7 562.76,13.29 562.76,19.58 562.76,25.87 562.76,32.16 562.76,38.45 562.76,44.74 562.76,51.03 562.76,57.32 562.76,61.09 558.91,62.69 556.78,63.61 555.07,64.53 551.22,64.66 550,63.61 547.38,62.26 543.53,62.21 542.05,63.61 539.69,66.41 535.84,69.9 532,65.71 530.07,63.61 528.15,61.72 524.31,60.47 520.46,59.04 520.46,57.32 520.46,51.03 520.46,44.74 520.46,38.45 520.46,32.16 520.46,25.87 520.46,19.58 520.46,13.29 520.46,7Z"/>
<path fill="#4d93d0" d="M524.31,7 528.15,7 532,7 535.84,7 539.69,7 543.53,7 547.38,7 551.22,7 555.07,7 558.91,7 562.76,7 562.76,13.29 562.76,19.58 562.76,25.87 562.76,32.16 562.76,38.45 562.76,44.74 562.76,51.03 562.76,53.15 558.91,56.5 558.06,57.32 555.07,59.35 551.22,59.9 547.38,57.77 545.71,57.32 543.53,56.68 542.85,57.32 539.69,60.47 535.84,62.98 532,59.61 529.8,57.32 528.15,55.6 524.31,53.83 520.46,52.43 520.46,51.03 520.46,44.74 520.46,38.45 520.46,32.16 520.46,25.87 520.46,19.58 520.46,13.29 520.46,7Z"/>
<path fill="#4596ab" d="M524.31,7 528.15,7 532,7 535.84,7 539.69,7 543.53,7 547.38,7 551.22,7 555.07,7 558.91,7 562.76,7 562.76,13.29 562.76,19.58 562.76,25.87 562.76,32.16 562.76,38.45 562.76,44.74 562.76,45.51 558.91,49.46 557.63,51.03 555.07,53.6 551.22,55.15 547.38,52.83 543.53,51.77 539.69,54.88 535.84,56.57 532,53.35 529.55,51.03 528.15,49.63 524.31,46.31 520.46,44.74 520.46,44.74 520.46,38.45 520.46,32.16 520.46,25.87 520.46,19.58 520.46,13.29 520.46,7Z"/>
<path fill="#46a48a" d="M524.31,7 528.15,7 532,7 535.84,7 539.69,7 543.53,7 547.38,7 551.22,7 555.07,7 558.91,7 562.76,7 562.76,13.29 562.76,19.58 562.76,25.87 562.76,32.16 562.76,38.45 562.76,38.45 558.91,41.47 556.17,44.74 555.07,46.06 551.22,49.52 547.38,47.3 543.53,45.68 539.69,48.73 535.84,49.13 532,46.22 530.46,44.74 528.15,42.64 524.31,39.15 523.02,38.45 520.46,37.55 520.46,32.16 520.46,25.87 520.46,19.58 520.46,13.29 520.46,7Z"/>
<path fill="#47af62" d="M524.31,7 528.15,7 532,7 535.84,7 539.69,7 543.53,7 547.38,7 551.22,7 555.07,7 558.91,7 562.76,7 562.76,13.29 562.76,19.58 562.76,25.87 562.76,32.16 562.76,33.96 558.91,35.23 555.07,37.75 554.59,38.45 551.22,43.13 547.38,41.42 543.53,40.28 539.69,42.6 535.84,41.59 532.42,38.45 532,38.08 528.15,36.16 524.31,34.68 520.46,33.06 520.46,32.16 520.46,25.87 520.46,19.58 520.46,13.29 520.46,7Z"/>
<path fill="#50b94a" d="M524.31,7 528.15,7 532,7 535.84,7 539.69,7 543.53,7 547.38,7 551.22,7 555.07,7 558.91,7 562.76,7 562.76,13.29 562.76,19.58 562.76,25.87 562.76,28.39 558.91,29.01 555.07,30.06 551.22,32.16 551.22,32.16 547.38,34.96 543.53,33.64 540.97,32.16 539.69,31.26 535.84,30.9 532,31.37 528.15,31.17 524.31,30.9 520.46,29.64 520.46,25.87 520.46,19.58 520.46,13.29 520.46,7Z"/>
<path fill="#82ca47" d="M524.31,7 528.15,7 532,7 535.84,7 539.69,7 543.53,7 547.38,7 551.22,7 555.07,7 558.91,7 562.76,7 562.76,13.29 562.76,19.58 562.76,22.44 558.91,21.68 555.07,20.48 551.22,22.72 548.92,19.58 547.38,15.39 543.53,19.58 543.53,19.58 539.69,22.72 535.84,24.97 534.56,25.87 532,27.44 528.15,27.86 524.31,27.76 520.46,26.5 520.46,25.87 520.46,19.58 520.46,13.29 520.46,7Z"/>
<path fill="#b9d84a" d="M524.31,7 528.15,7 532,7 535.84,7 539.69,7 542.43,7 541.4,13.29 539.69,15.81 536.8,19.58 535.84,20.48 532,23.51 528.15,24.82 524.31,25 520.46,24.07 520.46,19.58 520.46,13.29 520.46,7ZM555.07,7 558.91,7 562.76,7 562.76,13.29 562.76,16.72 558.91,16.19 556.03,13.29 555.07,12.03 552.51,7Z"/>
<path fill="#ebe04e" d="M524.31,7 528.15,7 532,7 535.84,7 539.69,7 538.53,13.29 535.84,17.29 532,19.58 532,19.58 528.15,22.2 524.31,22.83 520.46,21.83 520.46,19.58 520.46,13.29 520.46,7ZM558.91,7 562.76,7 562.76,9.1 558.91,11.19 555.84,7Z"/>
<path fill="#fdd44c" d="M524.31,7 528.15,7 532,7 535.84,7 538.15,7 536.61,13.29 535.84,14.43 532,17.92 528.15,19.58 528.15,19.58 524.31,20.66 520.46,19.58 520.46,19.58 520.46,13.29 520.46,7Z"/>
<path fill="#f8ae3e" d="M524.31,7 528.15,7 532,7 535.84,7 536.61,7 535.84,9.86 534.88,13.29 532,16.27 528.15,18.5 524.31,19.06 520.46,18.01 520.46,13.29 520.46,7Z"/>
<path fill="#fa9b32" d="M524.31,7 528.15,7 532,7 535.36,7 533.28,13.29 532,14.61 528.15,17.41 524.31,18.01 520.46,16.43 520.46,13.29 520.46,7Z"/>
<path fill="#f68229" d="M524.31,7 528.15,7 532,7 534.4,7 532,12.82 531.74,13.29 528.15,16.33 524.31,16.96 520.46,14.86 520.46,13.29 520.46,7Z"/>
<path fill="#f16726" d="M524.31,7 528.15,7 532,7 533.44,7 532,10.49 530.46,13.29 528.15,15.24 524.31,15.91 520.46,13.29 520.46,13.29 520.46,7Z"/>
<path fill="#ec4d27" d="M524.31,7 528.15,7 532,7 532.48,7 532,8.16 529.18,13.29 528.15,14.16 524.31,14.86 522,13.29 520.46,10.14 520.46,7Z"/>
<path fill="#e43a28" d="M524.31,7 528.15,7 531.45,7 528.15,12.9 527.05,13.29 524.31,13.81 523.54,13.29 520.46,7Z"/>
<path fill="#da242b" d="M524.31,7 528.15,7 530.35,7 528.15,10.93 524.31,12.03 521.74,7Z"/>
<path fill="#ca2028" d="M524.31,7 528.15,7 529.25,7 528.15,8.97 524.31,9.52 523.02,7Z"/>
<path d="M520.46,7h-1.9M520.46,22.03h-1.9M520.46,33.69h-1.9M520.46,43.21h-1.9M520.46,51.27h-1.9M520.46,61.41h-1.9M520.46,65.83h-1.9M520.46,69.9h-1.9M520.46,69.9v2.4M524.31,69.9v2.4M528.15,69.9v2.4M532,69.9v2.4M535.84,69.9v2.4M539.69,69.9v2.4M543.53,69.9v2.4M547.38,69.9v2.4M551.22,69.9v2.4M555.07,69.9v2.4M558.91,69.9v2.4M562.76,69.9v2.4" stroke="#000" stroke-width="1.1" fill="none"/>
<rect x="520.46" y="7" width="42.3" height="62.9" fill="none" stroke="#000" stroke-width="1.5"/>
<text x="516.86" y="8.8" font-size="3.7" text-anchor="end" fill="#000" stroke="#000" stroke-width="0.15">300</text>
<text x="516.86" y="23.83" font-size="3.7" text-anchor="end" fill="#000" stroke="#000" stroke-width="0.15">400</text>
<text x="516.86" y="35.49" font-size="3.7" text-anchor="end" fill="#000" stroke="#000" stroke-width="0.15">500</text>
<text x="516.86" y="45.01" font-size="3.7" text-anchor="end" fill="#000" stroke="#000" stroke-width="0.15">600</text>
<text x="516.86" y="53.07" font-size="3.7" text-anchor="end" fill="#000" stroke="#000" stroke-width="0.15">700</text>
<text x="516.86" y="63.21" font-size="3.7" text-anchor="end" fill="#000" stroke="#000" stroke-width="0.15">850</text>
<text x="516.86" y="67.63" font-size="3.7" text-anchor="end" fill="#000" stroke="#000" stroke-width="0.15">925</text>
<text x="516.86" y="71.7" font-size="3.7" text-anchor="end" fill="#000" stroke="#000" stroke-width="0.15">1000</text>
<text x="520.66" y="77.1" font-size="3.8" text-anchor="middle" fill="#000" stroke="#000" stroke-width="0.08">J</text>
<text x="524.51" y="77.1" font-size="3.8" text-anchor="middle" fill="#000" stroke="#000" stroke-width="0.08">F</text>
<text x="528.35" y="77.1" font-size="3.8" text-anchor="middle" fill="#000" stroke="#000" stroke-width="0.08">M</text>
<text x="532.2" y="77.1" font-size="3.8" text-anchor="middle" fill="#000" stroke="#000" stroke-width="0.08">A</text>
<text x="536.04" y="77.1" font-size="3.8" text-anchor="middle" fill="#000" stroke="#000" stroke-width="0.08">M</text>
<text x="539.89" y="77.1" font-size="3.8" text-anchor="middle" fill="#000" stroke="#000" stroke-width="0.08">J</text>
<text x="543.73" y="77.1" font-size="3.8" text-anchor="middle" fill="#000" stroke="#000" stroke-width="0.08">J</text>
<text x="547.58" y="77.1" font-size="3.8" text-anchor="middle" fill="#000" stroke="#000" stroke-width="0.08">A</text>
<text x="551.42" y="77.1" font-size="3.8" text-anchor="middle" fill="#000" stroke="#000" stroke-width="0.08">S</text>
<text x="555.27" y="77.1" font-size="3.8" text-anchor="middle" fill="#000" stroke="#000" stroke-width="0.08">O</text>
<text x="559.11" y="77.1" font-size="3.8" text-anchor="middle" fill="#000" stroke="#000" stroke-width="0.08">N</text>
<text x="562.96" y="77.1" font-size="3.8" text-anchor="middle" fill="#000" stroke="#000" stroke-width="0.08">D</text>
<text x="541.61" y="5.1" font-size="7.35" text-anchor="middle">JRA-55</text>
</g>
<g>
<rect x="592.22" y="7" width="42.3" height="62.9" fill="#64a9de"/>
<path fill="#4d93d0" d="M596.07,7 599.91,7 603.76,7 607.6,7 611.45,7 615.29,7 619.14,7 622.98,7 626.83,7 630.67,7 634.52,7 634.52,13.29 634.52,19.58 634.52,25.87 634.52,32.16 634.52,38.45 634.52,44.74 634.52,51.03 634.52,57.32 634.52,58.37 630.67,63.61 630.67,63.61 626.83,69.9 626.83,69.9 622.98,69.9 619.14,69.9 615.29,69.9 611.45,69.9 607.6,69.9 603.76,69.9 599.91,69.9 599.91,69.9 596.07,65.71 594.78,63.61 592.22,59.42 592.22,57.32 592.22,51.03 592.22,44.74 592.22,38.45 592.22,32.16 592.22,25.87 592.22,19.58 592.22,13.29 592.22,7Z"/>
<path fill="#4596ab" d="M596.07,7 599.91,7 603.76,7 607.6,7 611.45,7 615.29,7 619.14,7 622.98,7 626.83,7 630.67,7 634.52,7 634.52,13.29 634.52,19.58 634.52,25.87 634.52,32.16 634.52,32.16 634.52,32.16 634.52,38.45 634.52,44.74 634.52,48.51 631.96,51.03 630.67,51.93 626.83,54.62 622.98,57.32 622.98,57.32 619.14,59.42 615.29,62.56 614.52,63.61 612.41,69.9 611.45,69.9 607.6,69.9 606.06,69.9 603.76,63.61 603.76,63.61 599.91,57.32 599.91,57.32 597.35,51.03 596.07,44.74 596.07,44.74 594.53,38.45 592.22,34.68 592.22,32.16 592.22,25.87 592.22,19.58 592.22,13.29 592.22,7Z"/>
<path fill="#46a48a" d="M596.07,7 599.91,7 603.76,7 607.6,7 611.45,7 615.29,7 619.14,7 622.98,7 626.83,7 630.67,7 634.52,7 634.52,13.29 634.52,19.58 634.52,24.07 630.67,24.61 628.75,25.87 626.83,29.01 624.91,32.16 625.87,38.45 624.91,44.74 622.98,46.84 619.14,48.93 616.57,51.03 615.29,52.08 611.45,56.27 607.6,57.32 604.4,51.03 603.76,49.77 601.56,44.74 601.83,38.45 599.91,34.68 597.99,32.16 596.07,30.9 592.22,27.97 592.22,25.87 592.22,19.58 592.22,13.29 592.22,7Z"/>
<path fill="#47af62" d="M596.07,7 599.91,7 603.76,7 607.6,7 611.45,7 615.29,7 619.14,7 622.98,7 626.83,7 630.67,7 634.52,7 634.52,13.29 634.52,19.58 630.67,18.01 626.83,16.43 624.91,19.58 622.98,21.68 621.06,25.87 619.14,30.06 618.5,32.16 616.83,38.45 615.29,40.97 612.99,44.74 611.45,46.54 607.6,44.74 607.6,38.45 607.6,38.45 605.68,32.16 603.76,29.64 599.91,27.13 597.99,25.87 596.07,25.24 592.22,23.98 592.22,19.58 592.22,13.29 592.22,7Z"/>
<path fill="#50b94a" d="M596.07,7 599.91,7 603.76,7 607.6,7 611.45,7 615.29,7 619.14,7 620.42,7 619.14,13.29 619.14,13.29 618.5,19.58 616.83,25.87 615.29,32.16 615.29,32.16 611.45,34.26 610.49,32.16 607.6,27.44 606.32,25.87 603.76,24.19 599.91,23.07 596.07,22.1 592.22,20.84 592.22,19.58 592.22,13.29 592.22,7ZM630.67,7 634.52,7 634.52,13.29 630.67,9.1 628.75,7Z"/>
<path fill="#82ca47" d="M596.07,7 599.91,7 603.76,7 607.6,7 611.45,7 615.29,7 616.94,7 616.39,13.29 615.29,19.58 615.29,19.58 611.45,22.38 607.6,21.3 603.76,20 599.91,19.58 599.91,19.58 596.07,19.13 592.22,18.01 592.22,13.29 592.22,7Z"/>
<path fill="#b9d84a" d="M596.07,7 599.91,7 603.76,7 607.6,7 611.45,7 614.01,7 612.41,13.29 611.45,14.86 607.6,16.64 603.76,16.6 599.91,17.16 596.07,16.88 592.22,15.39 592.22,13.29 592.22,7Z"/>
<path fill="#ebe04e" d="M596.07,7 599.91,7 603.76,7 607.6,7 610.49,7 607.6,11.72 603.76,13.29 603.76,13.29 599.91,14.74 596.07,14.64 593.18,13.29 592.22,12.03 592.22,7Z"/>
<path fill="#fdd44c" d="M596.07,7 599.91,7 603.76,7 605.04,7 603.76,8.05 599.91,11.72 596.07,10.77 593.18,7Z"/>
<path fill="#f8ae3e" d="M599.91,7 600.68,7 599.91,7.79 598.63,7Z"/>
<rect x="603.76" y="65.9" width="23.06" height="4" fill="#999"/>
<path d="M592.22,7h-1.9M592.22,22.03h-1.9M592.22,33.69h-1.9M592.22,43.21h-1.9M592.22,51.27h-1.9M592.22,61.41h-1.9M592.22,65.83h-1.9M592.22,69.9h-1.9M592.22,69.9v2.4M596.07,69.9v2.4M599.91,69.9v2.4M603.76,69.9v2.4M607.6,69.9v2.4M611.45,69.9v2.4M615.29,69.9v2.4M619.14,69.9v2.4M622.98,69.9v2.4M626.83,69.9v2.4M630.67,69.9v2.4M634.52,69.9v2.4" stroke="#000" stroke-width="1.1" fill="none"/>
<rect x="592.22" y="7" width="42.3" height="62.9" fill="none" stroke="#000" stroke-width="1.5"/>
<text x="588.62" y="8.8" font-size="3.7" text-anchor="end" fill="#000" stroke="#000" stroke-width="0.15">300</text>
<text x="588.62" y="23.83" font-size="3.7" text-anchor="end" fill="#000" stroke="#000" stroke-width="0.15">400</text>
<text x="588.62" y="35.49" font-size="3.7" text-anchor="end" fill="#000" stroke="#000" stroke-width="0.15">500</text>
<text x="588.62" y="45.01" font-size="3.7" text-anchor="end" fill="#000" stroke="#000" stroke-width="0.15">600</text>
<text x="588.62" y="53.07" font-size="3.7" text-anchor="end" fill="#000" stroke="#000" stroke-width="0.15">700</text>
<text x="588.62" y="63.21" font-size="3.7" text-anchor="end" fill="#000" stroke="#000" stroke-width="0.15">850</text>
<text x="588.62" y="67.63" font-size="3.7" text-anchor="end" fill="#000" stroke="#000" stroke-width="0.15">925</text>
<text x="588.62" y="71.7" font-size="3.7" text-anchor="end" fill="#000" stroke="#000" stroke-width="0.15">1000</text>
<text x="592.42" y="77.1" font-size="3.8" text-anchor="middle" fill="#000" stroke="#000" stroke-width="0.08">J</text>
<text x="596.27" y="77.1" font-size="3.8" text-anchor="middle" fill="#000" stroke="#000" stroke-width="0.08">F</text>
<text x="600.11" y="77.1" font-size="3.8" text-anchor="middle" fill="#000" stroke="#000" stroke-width="0.08">M</text>
<text x="603.96" y="77.1" font-size="3.8" text-anchor="middle" fill="#000" stroke="#000" stroke-width="0.08">A</text>
<text x="607.8" y="77.1" font-size="3.8" text-anchor="middle" fill="#000" stroke="#000" stroke-width="0.08">M</text>
<text x="611.65" y="77.1" font-size="3.8" text-anchor="middle" fill="#000" stroke="#000" stroke-width="0.08">J</text>
<text x="615.49" y="77.1" font-size="3.8" text-anchor="middle" fill="#000" stroke="#000" stroke-width="0.08">J</text>
<text x="619.34" y="77.1" font-size="3.8" text-anchor="middle" fill="#000" stroke="#000" stroke-width="0.08">A</text>
<text x="623.18" y="77.1" font-size="3.8" text-anchor="middle" fill="#000" stroke="#000" stroke-width="0.08">S</text>
<text x="627.03" y="77.1" font-size="3.8" text-anchor="middle" fill="#000" stroke="#000" stroke-width="0.08">O</text>
<text x="630.87" y="77.1" font-size="3.8" text-anchor="middle" fill="#000" stroke="#000" stroke-width="0.08">N</text>
<text x="634.72" y="77.1" font-size="3.8" text-anchor="middle" fill="#000" stroke="#000" stroke-width="0.08">D</text>
<text x="613.37" y="5.1" font-size="7.35" text-anchor="middle">TCR-2</text>
</g>
<g>
<rect x="89.9" y="101.45" width="42.3" height="62.9" fill="#64a9de"/>
<path fill="#4d93d0" d="M93.75,101.45 97.59,101.45 101.44,101.45 105.28,101.45 109.13,101.45 112.97,101.45 116.82,101.45 120.66,101.45 124.51,101.45 128.35,101.45 132.2,101.45 132.2,107.74 132.2,114.03 132.2,120.32 132.2,126.61 132.2,132.9 132.2,139.19 132.2,145.48 132.2,151.77 132.2,158.06 132.2,161.2 131.56,164.35 128.35,164.35 124.51,164.35 120.66,164.35 116.82,164.35 112.97,164.35 109.13,164.35 105.28,164.35 101.44,164.35 97.59,164.35 93.75,164.35 89.9,164.35 89.9,158.06 89.9,151.77 89.9,145.48 89.9,139.19 89.9,132.9 89.9,126.61 89.9,120.32 89.9,114.03 89.9,107.74 89.9,101.45Z"/>
<path fill="#4596ab" d="M93.75,101.45 97.59,101.45 101.44,101.45 105.28,101.45 109.13,101.45 112.97,101.45 116.82,101.45 120.66,101.45 124.51,101.45 128.35,101.45 132.2,101.45 132.2,107.74 132.2,114.03 132.2,120.32 132.2,124.09 131.43,126.61 131.05,132.9 130.66,139.19 130.49,145.48 130.06,151.77 129.4,158.06 128.35,164.35 128.35,164.35 124.51,164.35 120.66,164.35 116.82,164.35 112.97,164.35 109.13,164.35 105.28,164.35 101.44,164.35 97.59,164.35 93.75,164.35 93.75,164.35 92.46,158.06 91.18,151.77 89.9,145.48 89.9,139.19 89.9,139.19 89.9,132.9 89.9,126.61 89.9,120.32 89.9,114.03 89.9,107.74 89.9,101.45Z"/>
<path fill="#46a48a" d="M93.75,101.45 97.59,101.45 101.44,101.45 105.28,101.45 109.13,101.45 112.97,101.45 116.82,101.45 120.66,101.45 124.51,101.45 128.35,101.45 130.28,101.45 129.32,107.74 129.12,114.03 128.35,120.32 128.35,120.32 127.07,126.61 126.71,132.9 126.43,139.19 125.95,145.48 125.47,151.77 124.51,158.06 124.51,158.06 120.66,164.35 116.82,164.35 116.82,164.35 112.97,164.35 109.13,164.35 105.28,164.35 101.44,164.35 98.55,164.35 97.59,158.06 97.59,158.06 97.04,151.77 96.49,145.48 95.94,139.19 95.19,132.9 94.17,126.61 93.75,124.51 92.65,120.32 89.9,116.83 89.9,114.03 89.9,107.74 89.9,101.45Z"/>
<path fill="#47af62" d="M93.75,101.45 97.59,101.45 101.44,101.45 105.28,101.45 109.13,101.45 112.97,101.45 116.82,101.45 120.66,101.45 121.95,101.45 121.43,107.74 121.43,114.03 121.3,120.32 121.21,126.61 121.21,132.9 121.21,139.19 120.66,145.48 119.38,139.19 116.82,137.39 115.96,139.19 115.11,145.48 114.68,151.77 113.93,158.06 112.97,159.86 109.13,163.45 105.28,164.35 101.44,159.32 101.09,158.06 100.74,151.77 101.01,145.48 100.58,139.19 99.51,132.9 98.29,126.61 97.59,124.09 96.54,120.32 93.75,114.73 93.2,114.03 89.9,111.81 89.9,107.74 89.9,101.45Z"/>
<path fill="#50b94a" d="M93.75,101.45 97.59,101.45 101.44,101.45 105.28,101.45 109.13,101.45 112.97,101.45 116.23,101.45 115.77,107.74 114.9,114.03 114.68,120.32 114.62,126.61 113.61,132.9 112.97,134.47 110.67,139.19 109.13,142.34 106.56,139.19 105.28,137.09 104.18,132.9 102.08,126.61 101.44,125.04 100.28,120.32 97.59,114.03 97.59,114.03 93.75,109.31 89.9,108.11 89.9,107.74 89.9,101.45Z"/>
<path fill="#82ca47" d="M97.59,101.45 101.44,101.45 105.28,101.45 109.13,101.45 112.97,101.45 113.27,101.45 112.97,103.55 111.87,107.74 109.77,114.03 109.13,116.13 107.85,114.03 105.28,111.93 101.44,110.89 99.51,107.74 97.59,104.15 95.94,101.45Z"/>
<path fill="#b9d84a" d="M101.44,101.45 105.28,101.45 101.44,105.04 99.39,101.45Z"/>
<path d="M89.9,101.45h-1.9M89.9,116.48h-1.9M89.9,128.14h-1.9M89.9,137.66h-1.9M89.9,145.72h-1.9M89.9,155.86h-1.9M89.9,160.28h-1.9M89.9,164.35h-1.9M89.9,164.35v2.4M93.75,164.35v2.4M97.59,164.35v2.4M101.44,164.35v2.4M105.28,164.35v2.4M109.13,164.35v2.4M112.97,164.35v2.4M116.82,164.35v2.4M120.66,164.35v2.4M124.51,164.35v2.4M128.35,164.35v2.4M132.2,164.35v2.4" stroke="#000" stroke-width="1.1" fill="none"/>
<rect x="89.9" y="101.45" width="42.3" height="62.9" fill="none" stroke="#000" stroke-width="1.5"/>
<text x="86.3" y="103.25" font-size="3.7" text-anchor="end" fill="#000" stroke="#000" stroke-width="0.15">300</text>
<text x="86.3" y="118.28" font-size="3.7" text-anchor="end" fill="#000" stroke="#000" stroke-width="0.15">400</text>
<text x="86.3" y="129.94" font-size="3.7" text-anchor="end" fill="#000" stroke="#000" stroke-width="0.15">500</text>
<text x="86.3" y="139.46" font-size="3.7" text-anchor="end" fill="#000" stroke="#000" stroke-width="0.15">600</text>
<text x="86.3" y="147.52" font-size="3.7" text-anchor="end" fill="#000" stroke="#000" stroke-width="0.15">700</text>
<text x="86.3" y="157.66" font-size="3.7" text-anchor="end" fill="#000" stroke="#000" stroke-width="0.15">850</text>
<text x="86.3" y="162.08" font-size="3.7" text-anchor="end" fill="#000" stroke="#000" stroke-width="0.15">925</text>
<text x="86.3" y="166.15" font-size="3.7" text-anchor="end" fill="#000" stroke="#000" stroke-width="0.15">1000</text>
<text x="90.1" y="171.55" font-size="3.8" text-anchor="middle" fill="#000" stroke="#000" stroke-width="0.08">J</text>
<text x="93.95" y="171.55" font-size="3.8" text-anchor="middle" fill="#000" stroke="#000" stroke-width="0.08">F</text>
<text x="97.79" y="171.55" font-size="3.8" text-anchor="middle" fill="#000" stroke="#000" stroke-width="0.08">M</text>
<text x="101.64" y="171.55" font-size="3.8" text-anchor="middle" fill="#000" stroke="#000" stroke-width="0.08">A</text>
<text x="105.48" y="171.55" font-size="3.8" text-anchor="middle" fill="#000" stroke="#000" stroke-width="0.08">M</text>
<text x="109.33" y="171.55" font-size="3.8" text-anchor="middle" fill="#000" stroke="#000" stroke-width="0.08">J</text>
<text x="113.17" y="171.55" font-size="3.8" text-anchor="middle" fill="#000" stroke="#000" stroke-width="0.08">J</text>
<text x="117.02" y="171.55" font-size="3.8" text-anchor="middle" fill="#000" stroke="#000" stroke-width="0.08">A</text>
<text x="120.86" y="171.55" font-size="3.8" text-anchor="middle" fill="#000" stroke="#000" stroke-width="0.08">S</text>
<text x="124.71" y="171.55" font-size="3.8" text-anchor="middle" fill="#000" stroke="#000" stroke-width="0.08">O</text>
<text x="128.55" y="171.55" font-size="3.8" text-anchor="middle" fill="#000" stroke="#000" stroke-width="0.08">N</text>
<text x="132.4" y="171.55" font-size="3.8" text-anchor="middle" fill="#000" stroke="#000" stroke-width="0.08">D</text>
</g>
<g>
<rect x="161.66" y="101.45" width="42.3" height="62.9" fill="#4d93d0"/>
<path fill="#4596ab" d="M165.51,101.45 169.35,101.45 173.2,101.45 177.04,101.45 180.89,101.45 184.73,101.45 188.58,101.45 192.42,101.45 196.27,101.45 200.11,101.45 203.96,101.45 203.96,107.74 203.96,114.03 203.96,120.32 203.96,125.35 202.04,126.61 200.11,129.13 198.19,132.9 197.04,139.19 196.27,140.45 192.42,143.38 188.58,143.91 184.73,144.85 184.25,145.48 183.45,151.77 182.43,158.06 180.89,164.35 180.89,164.35 177.04,164.35 173.2,164.35 169.35,164.35 167.81,164.35 167.81,158.06 167.43,151.77 166.79,145.48 166.15,139.19 165.51,136.05 164.54,132.9 161.66,131.18 161.66,126.61 161.66,120.32 161.66,114.03 161.66,107.74 161.66,101.45Z"/>
<path fill="#46a48a" d="M165.51,101.45 169.35,101.45 173.2,101.45 177.04,101.45 180.89,101.45 184.73,101.45 188.58,101.45 192.42,101.45 196.27,101.45 200.11,101.45 203.96,101.45 203.96,107.74 203.96,114.03 203.96,118.22 200.11,120.32 200.11,120.32 196.27,122.84 193.38,126.61 192.42,127.87 188.58,131.64 188.03,132.9 184.73,138.29 183.96,139.19 180.89,142.78 177.04,141.71 175.12,139.19 173.2,136.05 171.91,132.9 169.35,129.75 165.51,127.75 163.58,126.61 161.66,125.35 161.66,120.32 161.66,114.03 161.66,107.74 161.66,101.45Z"/>
<path fill="#47af62" d="M165.51,101.45 169.35,101.45 173.2,101.45 177.04,101.45 180.89,101.45 184.73,101.45 188.58,101.45 188.1,107.74 187.94,114.03 187.3,120.32 184.73,126.61 184.73,126.61 180.89,132.9 177.04,129.75 174.73,126.61 173.2,125.04 169.35,121.89 165.51,120.32 165.51,120.32 161.66,119.53 161.66,114.03 161.66,107.74 161.66,101.45ZM196.27,101.45 200.11,101.45 203.96,101.45 203.96,107.74 203.96,107.74 200.11,110.89 196.27,107.74 196.27,107.74 193.96,101.45Z"/>
<path fill="#50b94a" d="M165.51,101.45 169.35,101.45 173.2,101.45 177.04,101.45 180.89,101.45 184.73,101.45 186.17,101.45 185.69,107.74 184.73,114.03 184.73,114.03 184.09,120.32 180.89,125.56 177.04,121.72 175.76,120.32 173.2,118.52 169.35,116.73 165.51,116.39 161.66,115.6 161.66,114.03 161.66,107.74 161.66,101.45ZM200.11,101.45 203.96,101.45 200.11,103.97 198.19,101.45Z"/>
<path fill="#82ca47" d="M165.51,101.45 169.35,101.45 173.2,101.45 177.04,101.45 180.89,101.45 183.96,101.45 183.58,107.74 182.98,114.03 180.89,120.32 177.04,116.73 173.2,114.03 173.2,114.03 169.35,112.89 165.51,112.77 161.66,111.93 161.66,107.74 161.66,101.45Z"/>
<path fill="#b9d84a" d="M165.51,101.45 169.35,101.45 173.2,101.45 177.04,101.45 180.89,101.45 182.04,101.45 181.66,107.74 181.24,114.03 180.89,115.08 179.61,114.03 177.04,111.51 173.2,110.54 169.35,110.03 165.51,109.63 161.66,108.44 161.66,107.74 161.66,101.45Z"/>
<path fill="#ebe04e" d="M165.51,101.45 169.35,101.45 173.2,101.45 177.04,101.45 178.32,101.45 177.04,103.55 173.2,106.84 169.35,106.95 165.51,105.22 163.58,101.45Z"/>
<path fill="#fdd44c" d="M169.35,101.45 173.2,101.45 173.97,101.45 173.2,102.35 169.35,103.02 167.43,101.45Z"/>
<path d="M161.66,101.45h-1.9M161.66,116.48h-1.9M161.66,128.14h-1.9M161.66,137.66h-1.9M161.66,145.72h-1.9M161.66,155.86h-1.9M161.66,160.28h-1.9M161.66,164.35h-1.9M161.66,164.35v2.4M165.51,164.35v2.4M169.35,164.35v2.4M173.2,164.35v2.4M177.04,164.35v2.4M180.89,164.35v2.4M184.73,164.35v2.4M188.58,164.35v2.4M192.42,164.35v2.4M196.27,164.35v2.4M200.11,164.35v2.4M203.96,164.35v2.4" stroke="#000" stroke-width="1.1" fill="none"/>
<rect x="161.66" y="101.45" width="42.3" height="62.9" fill="none" stroke="#000" stroke-width="1.5"/>
<text x="158.06" y="103.25" font-size="3.7" text-anchor="end" fill="#000" stroke="#000" stroke-width="0.15">300</text>
<text x="158.06" y="118.28" font-size="3.7" text-anchor="end" fill="#000" stroke="#000" stroke-width="0.15">400</text>
<text x="158.06" y="129.94" font-size="3.7" text-anchor="end" fill="#000" stroke="#000" stroke-width="0.15">500</text>
<text x="158.06" y="139.46" font-size="3.7" text-anchor="end" fill="#000" stroke="#000" stroke-width="0.15">600</text>
<text x="158.06" y="147.52" font-size="3.7" text-anchor="end" fill="#000" stroke="#000" stroke-width="0.15">700</text>
<text x="158.06" y="157.66" font-size="3.7" text-anchor="end" fill="#000" stroke="#000" stroke-width="0.15">850</text>
<text x="158.06" y="162.08" font-size="3.7" text-anchor="end" fill="#000" stroke="#000" stroke-width="0.15">925</text>
<text x="158.06" y="166.15" font-size="3.7" text-anchor="end" fill="#000" stroke="#000" stroke-width="0.15">1000</text>
<text x="161.86" y="171.55" font-size="3.8" text-anchor="middle" fill="#000" stroke="#000" stroke-width="0.08">J</text>
<text x="165.71" y="171.55" font-size="3.8" text-anchor="middle" fill="#000" stroke="#000" stroke-width="0.08">F</text>
<text x="169.55" y="171.55" font-size="3.8" text-anchor="middle" fill="#000" stroke="#000" stroke-width="0.08">M</text>
<text x="173.4" y="171.55" font-size="3.8" text-anchor="middle" fill="#000" stroke="#000" stroke-width="0.08">A</text>
<text x="177.24" y="171.55" font-size="3.8" text-anchor="middle" fill="#000" stroke="#000" stroke-width="0.08">M</text>
<text x="181.09" y="171.55" font-size="3.8" text-anchor="middle" fill="#000" stroke="#000" stroke-width="0.08">J</text>
<text x="184.93" y="171.55" font-size="3.8" text-anchor="middle" fill="#000" stroke="#000" stroke-width="0.08">J</text>
<text x="188.78" y="171.55" font-size="3.8" text-anchor="middle" fill="#000" stroke="#000" stroke-width="0.08">A</text>
<text x="192.62" y="171.55" font-size="3.8" text-anchor="middle" fill="#000" stroke="#000" stroke-width="0.08">S</text>
<text x="196.47" y="171.55" font-size="3.8" text-anchor="middle" fill="#000" stroke="#000" stroke-width="0.08">O</text>
<text x="200.31" y="171.55" font-size="3.8" text-anchor="middle" fill="#000" stroke="#000" stroke-width="0.08">N</text>
<text x="204.16" y="171.55" font-size="3.8" text-anchor="middle" fill="#000" stroke="#000" stroke-width="0.08">D</text>
</g>
<g>
<rect x="233.42" y="101.45" width="42.3" height="62.9" fill="#64a9de"/>
<path fill="#4d93d0" d="M237.27,101.45 241.11,101.45 244.96,101.45 248.8,101.45 252.65,101.45 256.49,101.45 260.34,101.45 264.18,101.45 268.03,101.45 271.87,101.45 275.72,101.45 275.72,107.74 275.72,114.03 275.72,120.32 275.72,126.61 275.72,132.9 275.72,139.19 275.72,145.48 275.72,151.77 275.72,158.06 275.72,158.06 271.87,163.3 271.11,164.35 268.03,164.35 264.18,164.35 260.34,164.35 256.49,164.35 252.65,164.35 248.8,164.35 244.96,164.35 241.11,164.35 237.27,164.35 237.27,164.35 233.42,158.06 233.42,158.06 233.42,151.77 233.42,145.48 233.42,139.19 233.42,132.9 233.42,126.61 233.42,120.32 233.42,114.03 233.42,107.74 233.42,101.45Z"/>
<path fill="#4596ab" d="M237.27,101.45 241.11,101.45 244.96,101.45 248.8,101.45 252.65,101.45 256.49,101.45 260.34,101.45 264.18,101.45 268.03,101.45 271.87,101.45 275.72,101.45 275.72,107.74 275.72,114.03 275.72,120.32 275.72,126.61 275.72,132.9 275.72,139.19 275.72,142.34 274.44,145.48 271.87,149.67 270.91,151.77 268.67,158.06 268.03,158.96 264.18,161.2 260.34,161.99 256.49,162.95 252.65,164.35 248.8,164.35 244.96,163.3 241.11,159.11 240.47,158.06 238.55,151.77 237.27,147.58 236.5,145.48 233.42,139.19 233.42,139.19 233.42,132.9 233.42,126.61 233.42,120.32 233.42,114.03 233.42,107.74 233.42,101.45Z"/>
<path fill="#46a48a" d="M237.27,101.45 241.11,101.45 244.96,101.45 248.8,101.45 252.65,101.45 256.49,101.45 260.34,101.45 264.18,101.45 268.03,101.45 271.87,101.45 275.72,101.45 275.72,107.74 275.72,109.54 271.87,109.84 268.03,114.03 268.03,114.03 266.49,120.32 265.72,126.61 266.49,132.9 264.18,136.67 260.34,139.19 260.34,139.19 256.49,141.29 255.53,145.48 255.39,151.77 254.84,158.06 252.65,159.86 248.8,159.86 244.96,158.06 244.96,158.06 244.41,151.77 244.19,145.48 242.65,139.19 241.11,132.9 241.11,132.9 238.03,126.61 237.27,125.91 233.42,123.47 233.42,120.32 233.42,114.03 233.42,107.74 233.42,101.45Z"/>
<path fill="#47af62" d="M237.27,101.45 241.11,101.45 244.96,101.45 248.8,101.45 252.65,101.45 256.49,101.45 259.38,101.45 258.9,107.74 258.42,114.03 257.77,120.32 256.49,124.51 256.07,126.61 254.57,132.9 252.65,136.67 248.8,136.05 247.7,132.9 244.96,126.61 244.96,126.61 241.11,120.32 241.11,120.32 237.27,119.27 233.42,117.62 233.42,114.03 233.42,107.74 233.42,101.45Z"/>
<path fill="#50b94a" d="M237.27,101.45 241.11,101.45 244.96,101.45 248.8,101.45 252.65,101.45 254.95,101.45 254.57,107.74 254.57,114.03 253.93,120.32 252.65,124.51 248.8,122.42 247.52,120.32 244.96,117.17 241.11,114.03 241.11,114.03 237.27,114.03 233.42,113.13 233.42,107.74 233.42,101.45Z"/>
<path fill="#82ca47" d="M237.27,101.45 241.11,101.45 244.96,101.45 248.8,101.45 250.72,101.45 249.9,107.74 248.8,109.84 244.96,111.33 241.11,110.89 237.27,110.54 233.42,108.64 233.42,107.74 233.42,101.45Z"/>
<path fill="#b9d84a" d="M237.27,101.45 241.11,101.45 244.96,101.45 245.92,101.45 244.96,104.59 241.11,107.74 237.27,105.64 235.98,101.45Z"/>
<path fill="#ebe04e" d="M241.11,101.45 242.39,101.45 241.11,103.25 239.57,101.45Z"/>
<path d="M233.42,101.45h-1.9M233.42,116.48h-1.9M233.42,128.14h-1.9M233.42,137.66h-1.9M233.42,145.72h-1.9M233.42,155.86h-1.9M233.42,160.28h-1.9M233.42,164.35h-1.9M233.42,164.35v2.4M237.27,164.35v2.4M241.11,164.35v2.4M244.96,164.35v2.4M248.8,164.35v2.4M252.65,164.35v2.4M256.49,164.35v2.4M260.34,164.35v2.4M264.18,164.35v2.4M268.03,164.35v2.4M271.87,164.35v2.4M275.72,164.35v2.4" stroke="#000" stroke-width="1.1" fill="none"/>
<rect x="233.42" y="101.45" width="42.3" height="62.9" fill="none" stroke="#000" stroke-width="1.5"/>
<text x="229.82" y="103.25" font-size="3.7" text-anchor="end" fill="#000" stroke="#000" stroke-width="0.15">300</text>
<text x="229.82" y="118.28" font-size="3.7" text-anchor="end" fill="#000" stroke="#000" stroke-width="0.15">400</text>
<text x="229.82" y="129.94" font-size="3.7" text-anchor="end" fill="#000" stroke="#000" stroke-width="0.15">500</text>
<text x="229.82" y="139.46" font-size="3.7" text-anchor="end" fill="#000" stroke="#000" stroke-width="0.15">600</text>
<text x="229.82" y="147.52" font-size="3.7" text-anchor="end" fill="#000" stroke="#000" stroke-width="0.15">700</text>
<text x="229.82" y="157.66" font-size="3.7" text-anchor="end" fill="#000" stroke="#000" stroke-width="0.15">850</text>
<text x="229.82" y="162.08" font-size="3.7" text-anchor="end" fill="#000" stroke="#000" stroke-width="0.15">925</text>
<text x="229.82" y="166.15" font-size="3.7" text-anchor="end" fill="#000" stroke="#000" stroke-width="0.15">1000</text>
<text x="233.62" y="171.55" font-size="3.8" text-anchor="middle" fill="#000" stroke="#000" stroke-width="0.08">J</text>
<text x="237.47" y="171.55" font-size="3.8" text-anchor="middle" fill="#000" stroke="#000" stroke-width="0.08">F</text>
<text x="241.31" y="171.55" font-size="3.8" text-anchor="middle" fill="#000" stroke="#000" stroke-width="0.08">M</text>
<text x="245.16" y="171.55" font-size="3.8" text-anchor="middle" fill="#000" stroke="#000" stroke-width="0.08">A</text>
<text x="249" y="171.55" font-size="3.8" text-anchor="middle" fill="#000" stroke="#000" stroke-width="0.08">M</text>
<text x="252.85" y="171.55" font-size="3.8" text-anchor="middle" fill="#000" stroke="#000" stroke-width="0.08">J</text>
<text x="256.69" y="171.55" font-size="3.8" text-anchor="middle" fill="#000" stroke="#000" stroke-width="0.08">J</text>
<text x="260.54" y="171.55" font-size="3.8" text-anchor="middle" fill="#000" stroke="#000" stroke-width="0.08">A</text>
<text x="264.38" y="171.55" font-size="3.8" text-anchor="middle" fill="#000" stroke="#000" stroke-width="0.08">S</text>
<text x="268.23" y="171.55" font-size="3.8" text-anchor="middle" fill="#000" stroke="#000" stroke-width="0.08">O</text>
<text x="272.07" y="171.55" font-size="3.8" text-anchor="middle" fill="#000" stroke="#000" stroke-width="0.08">N</text>
<text x="275.92" y="171.55" font-size="3.8" text-anchor="middle" fill="#000" stroke="#000" stroke-width="0.08">D</text>
</g>
<g>
<rect x="305.18" y="101.45" width="42.3" height="62.9" fill="#64a9de"/>
<path fill="#4d93d0" d="M309.03,101.45 312.87,101.45 316.72,101.45 320.56,101.45 324.41,101.45 328.25,101.45 332.1,101.45 335.94,101.45 339.79,101.45 343.63,101.45 347.48,101.45 347.48,107.74 347.48,114.03 347.48,120.32 347.48,126.61 347.48,132.9 347.48,139.19 347.48,145.48 347.48,151.77 347.48,158.06 347.48,161.05 347.48,161.88 344.6,164.35 343.63,164.35 339.79,164.35 335.94,164.35 332.1,164.35 328.25,164.35 324.41,164.35 320.56,164.35 316.72,164.35 312.87,164.35 309.03,164.35 305.18,164.35 305.18,161.05 305.18,158.06 305.18,151.77 305.18,145.48 305.18,139.19 305.18,132.9 305.18,126.61 305.18,120.32 305.18,114.03 305.18,107.74 305.18,101.45Z"/>
<path fill="#4596ab" d="M309.03,101.45 312.87,101.45 316.72,101.45 320.56,101.45 324.41,101.45 328.25,101.45 332.1,101.45 335.94,101.45 339.79,101.45 343.63,101.45 347.48,101.45 347.48,107.74 347.48,114.03 347.48,120.32 347.48,126.61 347.48,132.9 347.48,136.05 346.2,139.19 343.63,145.48 343.63,145.48 342.1,151.77 341.33,158.06 340.43,161.05 339.79,161.52 335.94,162.15 334.66,161.05 334.23,158.06 333.81,151.77 332.1,146.74 330.39,151.77 329.96,158.06 329.53,161.05 328.25,162.15 324.41,163.52 320.56,163.57 316.72,163.41 312.87,162.29 310.56,161.05 309.79,158.06 309.03,151.77 309.03,151.77 307.74,145.48 306.46,139.19 305.18,132.9 305.18,132.9 305.18,126.61 305.18,120.32 305.18,114.03 305.18,107.74 305.18,101.45Z"/>
<path fill="#46a48a" d="M309.03,101.45 312.87,101.45 316.72,101.45 320.56,101.45 324.41,101.45 328.25,101.45 332.1,101.45 335.94,101.45 339.79,101.45 343.63,101.45 347.48,101.45 347.48,107.74 347.48,114.03 347.48,116.73 343.63,118.52 341.71,120.32 339.79,126.61 339.79,126.61 338.51,132.9 335.94,137.09 332.1,137.39 328.25,139.19 328.25,139.19 326.97,145.48 326.33,151.77 325.95,158.06 325.26,161.05 324.41,161.46 320.56,161.63 316.72,161.05 316.72,161.05 316.17,158.06 315.62,151.77 315.43,145.48 314.15,139.19 312.87,136.05 311.77,132.9 309.03,128.41 307.1,126.61 305.18,125.21 305.18,120.32 305.18,114.03 305.18,107.74 305.18,101.45Z"/>
<path fill="#47af62" d="M309.03,101.45 312.87,101.45 316.72,101.45 320.56,101.45 324.41,101.45 328.25,101.45 332.1,101.45 335.94,101.45 339.79,101.45 343.63,101.45 347.48,101.45 347.48,107.74 347.48,109.14 343.63,110.1 339.79,110.89 335.94,114.03 335.94,114.03 333.38,120.32 332.1,126.61 332.1,126.61 328.25,130.38 326.33,132.9 324.41,139.19 324.41,139.19 320.56,140.76 320.01,139.19 318,132.9 316.72,130.8 314.15,126.61 312.87,125.04 309.03,120.32 309.03,120.32 305.18,119.14 305.18,114.03 305.18,107.74 305.18,101.45Z"/>
<path fill="#50b94a" d="M309.03,101.45 312.87,101.45 316.72,101.45 320.56,101.45 324.41,101.45 328.25,101.45 331.33,101.45 330.56,107.74 329.21,114.03 328.25,120.32 328.25,120.32 326.33,126.61 324.41,129.13 320.56,126.61 320.56,126.61 316.72,121.89 315.43,120.32 312.87,118.22 309.03,116.39 305.18,115.21 305.18,114.03 305.18,107.74 305.18,101.45Z"/>
<path fill="#82ca47" d="M309.03,101.45 312.87,101.45 316.72,101.45 320.56,101.45 324.41,101.45 327.8,101.45 327.4,107.74 326.71,114.03 325.05,120.32 324.41,121.89 322.48,120.32 320.56,119.06 316.72,115.29 314.79,114.03 312.87,113.19 309.03,112.55 305.18,111.44 305.18,107.74 305.18,101.45Z"/>
<path fill="#b9d84a" d="M309.03,101.45 312.87,101.45 316.72,101.45 320.56,101.45 324.41,101.45 325.54,101.45 325.26,107.74 324.79,114.03 324.41,115.29 322.48,114.03 320.56,111.93 316.72,109.84 312.87,109 309.03,108.85 305.18,107.74 305.18,107.74 305.18,101.45Z"/>
<path fill="#ebe04e" d="M312.87,101.45 316.72,101.45 318.64,101.45 316.72,103.02 312.87,104.8 309.03,101.45Z"/>
<path d="M305.18,101.45h-1.9M305.18,116.48h-1.9M305.18,128.14h-1.9M305.18,137.66h-1.9M305.18,145.72h-1.9M305.18,155.86h-1.9M305.18,160.28h-1.9M305.18,164.35h-1.9M305.18,164.35v2.4M309.03,164.35v2.4M312.87,164.35v2.4M316.72,164.35v2.4M320.56,164.35v2.4M324.41,164.35v2.4M328.25,164.35v2.4M332.1,164.35v2.4M335.94,164.35v2.4M339.79,164.35v2.4M343.63,164.35v2.4M347.48,164.35v2.4" stroke="#000" stroke-width="1.1" fill="none"/>
<rect x="305.18" y="101.45" width="42.3" height="62.9" fill="none" stroke="#000" stroke-width="1.5"/>
<text x="301.58" y="103.25" font-size="3.7" text-anchor="end" fill="#000" stroke="#000" stroke-width="0.15">300</text>
<text x="301.58" y="118.28" font-size="3.7" text-anchor="end" fill="#000" stroke="#000" stroke-width="0.15">400</text>
<text x="301.58" y="129.94" font-size="3.7" text-anchor="end" fill="#000" stroke="#000" stroke-width="0.15">500</text>
<text x="301.58" y="139.46" font-size="3.7" text-anchor="end" fill="#000" stroke="#000" stroke-width="0.15">600</text>
<text x="301.58" y="147.52" font-size="3.7" text-anchor="end" fill="#000" stroke="#000" stroke-width="0.15">700</text>
<text x="301.58" y="157.66" font-size="3.7" text-anchor="end" fill="#000" stroke="#000" stroke-width="0.15">850</text>
<text x="301.58" y="162.08" font-size="3.7" text-anchor="end" fill="#000" stroke="#000" stroke-width="0.15">925</text>
<text x="301.58" y="166.15" font-size="3.7" text-anchor="end" fill="#000" stroke="#000" stroke-width="0.15">1000</text>
<text x="305.38" y="171.55" font-size="3.8" text-anchor="middle" fill="#000" stroke="#000" stroke-width="0.08">J</text>
<text x="309.23" y="171.55" font-size="3.8" text-anchor="middle" fill="#000" stroke="#000" stroke-width="0.08">F</text>
<text x="313.07" y="171.55" font-size="3.8" text-anchor="middle" fill="#000" stroke="#000" stroke-width="0.08">M</text>
<text x="316.92" y="171.55" font-size="3.8" text-anchor="middle" fill="#000" stroke="#000" stroke-width="0.08">A</text>
<text x="320.76" y="171.55" font-size="3.8" text-anchor="middle" fill="#000" stroke="#000" stroke-width="0.08">M</text>
<text x="324.61" y="171.55" font-size="3.8" text-anchor="middle" fill="#000" stroke="#000" stroke-width="0.08">J</text>
<text x="328.45" y="171.55" font-size="3.8" text-anchor="middle" fill="#000" stroke="#000" stroke-width="0.08">J</text>
<text x="332.3" y="171.55" font-size="3.8" text-anchor="middle" fill="#000" stroke="#000" stroke-width="0.08">A</text>
<text x="336.14" y="171.55" font-size="3.8" text-anchor="middle" fill="#000" stroke="#000" stroke-width="0.08">S</text>
<text x="339.99" y="171.55" font-size="3.8" text-anchor="middle" fill="#000" stroke="#000" stroke-width="0.08">O</text>
<text x="343.83" y="171.55" font-size="3.8" text-anchor="middle" fill="#000" stroke="#000" stroke-width="0.08">N</text>
<text x="347.68" y="171.55" font-size="3.8" text-anchor="middle" fill="#000" stroke="#000" stroke-width="0.08">D</text>
</g>
<g>
<rect x="376.94" y="101.45" width="42.3" height="62.9" fill="#64a9de"/>
<path fill="#4d93d0" d="M380.79,101.45 384.63,101.45 388.48,101.45 392.32,101.45 396.17,101.45 400.01,101.45 403.86,101.45 407.7,101.45 411.55,101.45 415.39,101.45 419.24,101.45 419.24,107.74 419.24,114.03 419.24,120.32 419.24,126.61 419.24,132.9 419.24,139.19 419.24,145.48 419.24,151.77 419.24,154.29 415.39,155.54 411.55,158.06 411.55,158.06 407.7,162.78 406.42,164.35 403.86,164.35 400.01,164.35 396.17,164.35 392.32,164.35 388.48,164.35 384.63,164.35 381.55,164.35 380.79,163.09 376.94,158.06 376.94,158.06 376.94,151.77 376.94,145.48 376.94,139.19 376.94,132.9 376.94,126.61 376.94,120.32 376.94,114.03 376.94,107.74 376.94,101.45Z"/>
<path fill="#4596ab" d="M380.79,101.45 384.63,101.45 388.48,101.45 392.32,101.45 396.17,101.45 400.01,101.45 403.86,101.45 407.7,101.45 411.55,101.45 415.39,101.45 419.24,101.45 419.24,107.74 419.24,114.03 419.24,120.32 419.24,126.61 419.24,132.9 419.24,136.05 416.68,139.19 415.39,140.45 411.55,143.91 409.63,145.48 407.7,146.74 403.86,148.62 400.97,151.77 400.01,153.34 398.36,158.06 396.17,163.09 394.89,164.35 392.32,164.35 390.4,164.35 388.48,160.16 387.52,158.06 385.4,151.77 384.63,150.2 382.32,145.48 380.79,141.29 379.82,139.19 376.94,132.9 376.94,132.9 376.94,126.61 376.94,120.32 376.94,114.03 376.94,107.74 376.94,101.45Z"/>
<path fill="#46a48a" d="M380.79,101.45 384.63,101.45 388.48,101.45 392.32,101.45 396.17,101.45 400.01,101.45 403.86,101.45 407.7,101.45 411.55,101.45 415.39,101.45 419.24,101.45 419.24,107.74 419.24,114.03 419.24,118.22 415.39,118.22 411.55,117.17 407.7,114.03 407.7,114.03 407.7,114.03 405.4,120.32 403.86,126.61 403.86,126.61 402.32,132.9 400.01,137.62 399.53,139.19 398.09,145.48 396.17,149.67 392.32,149.25 390.01,145.48 388.48,142.34 387.19,139.19 385.4,132.9 384.63,132 380.79,126.61 380.79,126.61 376.94,124.09 376.94,120.32 376.94,114.03 376.94,107.74 376.94,101.45Z"/>
<path fill="#47af62" d="M380.79,101.45 384.63,101.45 388.48,101.45 392.32,101.45 396.17,101.45 400.01,101.45 403.09,101.45 402.7,107.74 401.72,114.03 400.44,120.32 400.01,121.89 399.13,126.61 397.02,132.9 396.17,135.42 392.32,132.9 392.32,132.9 388.48,127.51 387.71,126.61 384.63,123.81 380.79,120.32 380.79,120.32 376.94,118.38 376.94,114.03 376.94,107.74 376.94,101.45ZM415.39,101.45 419.24,101.45 419.24,106.17 415.39,105.64 412.83,101.45Z"/>
<path fill="#50b94a" d="M380.79,101.45 384.63,101.45 388.48,101.45 392.32,101.45 396.17,101.45 399.53,101.45 399.33,107.74 398.47,114.03 397.71,120.32 396.17,126.61 392.32,123.47 389.25,120.32 388.48,119.62 384.63,117.46 380.79,115.83 377.71,114.03 376.94,113.61 376.94,107.74 376.94,101.45Z"/>
<path fill="#82ca47" d="M380.79,101.45 384.63,101.45 388.48,101.45 392.32,101.45 396.17,101.45 397.13,101.45 397.07,107.74 396.17,112.77 392.32,114.03 388.48,112.98 384.63,112.46 380.79,111.67 376.94,109.42 376.94,107.74 376.94,101.45Z"/>
<path fill="#b9d84a" d="M380.79,101.45 384.63,101.45 388.48,101.45 392.32,101.45 388.48,107.74 388.48,107.74 384.63,108.53 380.79,107.74 380.79,107.74 379.82,101.45Z"/>
<path d="M376.94,101.45h-1.9M376.94,116.48h-1.9M376.94,128.14h-1.9M376.94,137.66h-1.9M376.94,145.72h-1.9M376.94,155.86h-1.9M376.94,160.28h-1.9M376.94,164.35h-1.9M376.94,164.35v2.4M380.79,164.35v2.4M384.63,164.35v2.4M388.48,164.35v2.4M392.32,164.35v2.4M396.17,164.35v2.4M400.01,164.35v2.4M403.86,164.35v2.4M407.7,164.35v2.4M411.55,164.35v2.4M415.39,164.35v2.4M419.24,164.35v2.4" stroke="#000" stroke-width="1.1" fill="none"/>
<rect x="376.94" y="101.45" width="42.3" height="62.9" fill="none" stroke="#000" stroke-width="1.5"/>
<text x="373.34" y="103.25" font-size="3.7" text-anchor="end" fill="#000" stroke="#000" stroke-width="0.15">300</text>
<text x="373.34" y="118.28" font-size="3.7" text-anchor="end" fill="#000" stroke="#000" stroke-width="0.15">400</text>
<text x="373.34" y="129.94" font-size="3.7" text-anchor="end" fill="#000" stroke="#000" stroke-width="0.15">500</text>
<text x="373.34" y="139.46" font-size="3.7" text-anchor="end" fill="#000" stroke="#000" stroke-width="0.15">600</text>
<text x="373.34" y="147.52" font-size="3.7" text-anchor="end" fill="#000" stroke="#000" stroke-width="0.15">700</text>
<text x="373.34" y="157.66" font-size="3.7" text-anchor="end" fill="#000" stroke="#000" stroke-width="0.15">850</text>
<text x="373.34" y="162.08" font-size="3.7" text-anchor="end" fill="#000" stroke="#000" stroke-width="0.15">925</text>
<text x="373.34" y="166.15" font-size="3.7" text-anchor="end" fill="#000" stroke="#000" stroke-width="0.15">1000</text>
<text x="377.14" y="171.55" font-size="3.8" text-anchor="middle" fill="#000" stroke="#000" stroke-width="0.08">J</text>
<text x="380.99" y="171.55" font-size="3.8" text-anchor="middle" fill="#000" stroke="#000" stroke-width="0.08">F</text>
<text x="384.83" y="171.55" font-size="3.8" text-anchor="middle" fill="#000" stroke="#000" stroke-width="0.08">M</text>
<text x="388.68" y="171.55" font-size="3.8" text-anchor="middle" fill="#000" stroke="#000" stroke-width="0.08">A</text>
<text x="392.52" y="171.55" font-size="3.8" text-anchor="middle" fill="#000" stroke="#000" stroke-width="0.08">M</text>
<text x="396.37" y="171.55" font-size="3.8" text-anchor="middle" fill="#000" stroke="#000" stroke-width="0.08">J</text>
<text x="400.21" y="171.55" font-size="3.8" text-anchor="middle" fill="#000" stroke="#000" stroke-width="0.08">J</text>
<text x="404.06" y="171.55" font-size="3.8" text-anchor="middle" fill="#000" stroke="#000" stroke-width="0.08">A</text>
<text x="407.9" y="171.55" font-size="3.8" text-anchor="middle" fill="#000" stroke="#000" stroke-width="0.08">S</text>
<text x="411.75" y="171.55" font-size="3.8" text-anchor="middle" fill="#000" stroke="#000" stroke-width="0.08">O</text>
<text x="415.59" y="171.55" font-size="3.8" text-anchor="middle" fill="#000" stroke="#000" stroke-width="0.08">N</text>
<text x="419.44" y="171.55" font-size="3.8" text-anchor="middle" fill="#000" stroke="#000" stroke-width="0.08">D</text>
</g>
<g>
<rect x="448.7" y="101.45" width="42.3" height="62.9" fill="#64a9de"/>
<path fill="#4d93d0" d="M452.55,101.45 456.39,101.45 460.24,101.45 464.08,101.45 467.93,101.45 471.77,101.45 475.62,101.45 479.46,101.45 483.31,101.45 487.15,101.45 491,101.45 491,107.74 491,114.03 491,120.32 491,126.61 491,132.9 491,139.19 491,145.48 491,151.77 491,151.77 487.15,154.92 484.59,158.06 483.31,160.16 479.46,164.35 479.46,164.35 475.62,164.35 471.77,164.35 467.93,164.35 464.08,164.35 460.24,164.35 456.39,164.35 452.55,164.35 452.55,164.35 448.7,159.32 448.7,158.06 448.7,151.77 448.7,145.48 448.7,139.19 448.7,132.9 448.7,126.61 448.7,120.32 448.7,114.03 448.7,107.74 448.7,101.45Z"/>
<path fill="#4596ab" d="M452.55,101.45 456.39,101.45 460.24,101.45 464.08,101.45 467.93,101.45 471.77,101.45 475.62,101.45 479.46,101.45 483.31,101.45 487.15,101.45 491,101.45 491,107.74 491,112.23 487.15,112.23 484.59,114.03 483.31,117.17 482.03,120.32 481.39,126.61 480.43,132.9 480.23,139.19 479.46,145.48 479.46,145.48 476.9,151.77 475.62,153.87 473.05,158.06 471.77,160.16 467.93,162.55 464.08,162.25 460.24,159.32 459.47,158.06 457.93,151.77 456.39,145.48 456.39,145.48 454.85,139.19 454.08,132.9 452.55,130.38 449.66,126.61 448.7,125.71 448.7,120.32 448.7,114.03 448.7,107.74 448.7,101.45Z"/>
<path fill="#46a48a" d="M452.55,101.45 456.39,101.45 460.24,101.45 464.08,101.45 467.93,101.45 471.77,101.45 475.07,101.45 474.85,107.74 474.22,114.03 473.48,120.32 472.32,126.61 472.87,132.9 471.77,139.19 471.77,139.19 468.89,145.48 467.93,147.05 466.65,145.48 464.08,141.29 463.31,139.19 461.52,132.9 460.24,130.38 458.31,126.61 456.39,122.84 454.85,120.32 452.55,118.22 448.7,116.73 448.7,114.03 448.7,107.74 448.7,101.45ZM487.15,101.45 491,101.45 491,103.25 487.15,103.25 485.87,101.45Z"/>
<path fill="#47af62" d="M452.55,101.45 456.39,101.45 460.24,101.45 464.08,101.45 467.93,101.45 471.77,101.45 472.32,101.45 472.29,107.74 471.77,110.26 470.81,114.03 469.85,120.32 467.93,126.61 464.08,122.84 462.54,120.32 460.24,117.62 456.39,114.03 456.39,114.03 452.55,112.23 448.7,111.09 448.7,107.74 448.7,101.45Z"/>
<path fill="#50b94a" d="M452.55,101.45 456.39,101.45 460.24,101.45 464.08,101.45 467.93,101.45 469.21,101.45 469.58,107.74 467.93,113.13 464.08,111.23 460.24,110.26 456.39,108.79 452.55,107.74 452.55,107.74 448.7,105.64 448.7,101.45Z"/>
<path fill="#82ca47" d="M456.39,101.45 460.24,101.45 461.77,101.45 460.24,103.02 456.39,102.71 454.47,101.45Z"/>
<rect x="467.9" y="160.35" width="7.75" height="4" fill="#999"/>
<path d="M448.7,101.45h-1.9M448.7,116.48h-1.9M448.7,128.14h-1.9M448.7,137.66h-1.9M448.7,145.72h-1.9M448.7,155.86h-1.9M448.7,160.28h-1.9M448.7,164.35h-1.9M448.7,164.35v2.4M452.55,164.35v2.4M456.39,164.35v2.4M460.24,164.35v2.4M464.08,164.35v2.4M467.93,164.35v2.4M471.77,164.35v2.4M475.62,164.35v2.4M479.46,164.35v2.4M483.31,164.35v2.4M487.15,164.35v2.4M491,164.35v2.4" stroke="#000" stroke-width="1.1" fill="none"/>
<rect x="448.7" y="101.45" width="42.3" height="62.9" fill="none" stroke="#000" stroke-width="1.5"/>
<text x="445.1" y="103.25" font-size="3.7" text-anchor="end" fill="#000" stroke="#000" stroke-width="0.15">300</text>
<text x="445.1" y="118.28" font-size="3.7" text-anchor="end" fill="#000" stroke="#000" stroke-width="0.15">400</text>
<text x="445.1" y="129.94" font-size="3.7" text-anchor="end" fill="#000" stroke="#000" stroke-width="0.15">500</text>
<text x="445.1" y="139.46" font-size="3.7" text-anchor="end" fill="#000" stroke="#000" stroke-width="0.15">600</text>
<text x="445.1" y="147.52" font-size="3.7" text-anchor="end" fill="#000" stroke="#000" stroke-width="0.15">700</text>
<text x="445.1" y="157.66" font-size="3.7" text-anchor="end" fill="#000" stroke="#000" stroke-width="0.15">850</text>
<text x="445.1" y="162.08" font-size="3.7" text-anchor="end" fill="#000" stroke="#000" stroke-width="0.15">925</text>
<text x="445.1" y="166.15" font-size="3.7" text-anchor="end" fill="#000" stroke="#000" stroke-width="0.15">1000</text>
<text x="448.9" y="171.55" font-size="3.8" text-anchor="middle" fill="#000" stroke="#000" stroke-width="0.08">J</text>
<text x="452.75" y="171.55" font-size="3.8" text-anchor="middle" fill="#000" stroke="#000" stroke-width="0.08">F</text>
<text x="456.59" y="171.55" font-size="3.8" text-anchor="middle" fill="#000" stroke="#000" stroke-width="0.08">M</text>
<text x="460.44" y="171.55" font-size="3.8" text-anchor="middle" fill="#000" stroke="#000" stroke-width="0.08">A</text>
<text x="464.28" y="171.55" font-size="3.8" text-anchor="middle" fill="#000" stroke="#000" stroke-width="0.08">M</text>
<text x="468.13" y="171.55" font-size="3.8" text-anchor="middle" fill="#000" stroke="#000" stroke-width="0.08">J</text>
<text x="471.97" y="171.55" font-size="3.8" text-anchor="middle" fill="#000" stroke="#000" stroke-width="0.08">J</text>
<text x="475.82" y="171.55" font-size="3.8" text-anchor="middle" fill="#000" stroke="#000" stroke-width="0.08">A</text>
<text x="479.66" y="171.55" font-size="3.8" text-anchor="middle" fill="#000" stroke="#000" stroke-width="0.08">S</text>
<text x="483.51" y="171.55" font-size="3.8" text-anchor="middle" fill="#000" stroke="#000" stroke-width="0.08">O</text>
<text x="487.35" y="171.55" font-size="3.8" text-anchor="middle" fill="#000" stroke="#000" stroke-width="0.08">N</text>
<text x="491.2" y="171.55" font-size="3.8" text-anchor="middle" fill="#000" stroke="#000" stroke-width="0.08">D</text>
</g>
<g>
<rect x="520.46" y="101.45" width="42.3" height="62.9" fill="#96d1f2"/>
<path fill="#7cbce8" d="M524.31,101.45 528.15,101.45 532,101.45 535.84,101.45 539.69,101.45 543.53,101.45 547.38,101.45 551.22,101.45 555.07,101.45 558.91,101.45 562.76,101.45 562.76,107.74 562.76,114.03 562.76,120.32 562.76,126.61 562.76,132.9 562.76,139.19 562.76,145.48 562.76,151.77 562.76,158.06 562.76,164.35 558.91,164.35 555.07,164.35 551.22,164.35 547.38,164.35 545.84,164.35 543.53,162.25 541.23,164.35 539.69,164.35 535.84,164.35 532,164.35 528.15,164.35 524.95,164.35 524.31,163.9 520.46,162.44 520.46,158.06 520.46,151.77 520.46,145.48 520.46,139.19 520.46,132.9 520.46,126.61 520.46,120.32 520.46,114.03 520.46,107.74 520.46,101.45Z"/>
<path fill="#64a9de" d="M524.31,101.45 528.15,101.45 532,101.45 535.84,101.45 539.69,101.45 543.53,101.45 547.38,101.45 551.22,101.45 555.07,101.45 558.91,101.45 562.76,101.45 562.76,107.74 562.76,114.03 562.76,120.32 562.76,126.61 562.76,132.9 562.76,139.19 562.76,145.48 562.76,151.77 562.76,158.06 562.76,160.16 558.91,163.38 557.38,164.35 555.07,164.35 552.76,164.35 551.22,163.3 547.38,158.06 547.38,158.06 543.53,156.26 539.96,158.06 539.69,158.29 535.84,163.3 534.88,164.35 532,164.35 529.9,164.35 528.15,162.38 524.31,159.41 520.46,158.63 520.46,158.06 520.46,151.77 520.46,145.48 520.46,139.19 520.46,132.9 520.46,126.61 520.46,120.32 520.46,114.03 520.46,107.74 520.46,101.45Z"/>
<path fill="#4d93d0" d="M524.31,101.45 528.15,101.45 532,101.45 535.84,101.45 539.69,101.45 543.53,101.45 547.38,101.45 551.22,101.45 555.07,101.45 558.91,101.45 562.76,101.45 562.76,107.74 562.76,114.03 562.76,120.32 562.76,126.61 562.76,132.9 562.76,139.19 562.76,145.48 562.76,151.77 562.76,154.63 559.46,158.06 558.91,158.54 555.07,160.16 551.22,158.06 551.22,158.06 547.38,153.47 543.53,151.77 543.53,151.77 543.53,151.77 539.69,154.41 535.84,158.06 535.84,158.06 532,161.83 528.15,158.45 527.67,158.06 524.31,154.54 520.46,153.41 520.46,151.77 520.46,145.48 520.46,139.19 520.46,132.9 520.46,126.61 520.46,120.32 520.46,114.03 520.46,107.74 520.46,101.45Z"/>
<path fill="#4596ab" d="M524.31,101.45 528.15,101.45 532,101.45 535.84,101.45 539.69,101.45 543.53,101.45 547.38,101.45 551.22,101.45 555.07,101.45 558.91,101.45 562.76,101.45 562.76,107.74 562.76,114.03 562.76,120.32 562.76,126.61 562.76,132.9 562.76,139.19 562.76,145.48 562.76,148.56 558.91,150.98 556.67,151.77 555.07,152.61 551.22,151.77 551.22,151.77 547.38,148.65 543.53,146.93 539.69,150.51 537.97,151.77 535.84,153.47 532,155.54 528.15,152.91 526.97,151.77 524.31,149.2 520.46,147.37 520.46,145.48 520.46,139.19 520.46,132.9 520.46,126.61 520.46,120.32 520.46,114.03 520.46,107.74 520.46,101.45Z"/>
<path fill="#46a48a" d="M524.31,101.45 528.15,101.45 532,101.45 535.84,101.45 539.69,101.45 543.53,101.45 547.38,101.45 551.22,101.45 555.07,101.45 558.91,101.45 562.76,101.45 562.76,107.74 562.76,114.03 562.76,120.32 562.76,126.61 562.76,132.9 562.76,139.19 562.76,141.92 558.91,145.33 558.61,145.48 555.07,146.76 551.22,146.35 550.04,145.48 547.38,143.75 543.53,142.22 540.54,145.48 539.69,146.32 535.84,148.65 532,149.37 528.15,147.2 526.38,145.48 524.31,143.16 520.46,140.59 520.46,139.19 520.46,132.9 520.46,126.61 520.46,120.32 520.46,114.03 520.46,107.74 520.46,101.45Z"/>
<path fill="#47af62" d="M524.31,101.45 528.15,101.45 532,101.45 535.84,101.45 539.69,101.45 543.53,101.45 547.38,101.45 551.22,101.45 555.07,101.45 558.91,101.45 562.76,101.45 562.76,107.74 562.76,114.03 562.76,120.32 562.76,126.61 562.76,132.9 562.76,134.47 558.91,137.71 556.58,139.19 555.07,140.1 551.22,140.14 548.34,139.19 547.38,138.82 543.53,137.28 541.46,139.19 539.69,140.91 535.84,142.96 532,142.69 528.15,140.59 526.87,139.19 524.31,136.39 521.1,132.9 520.46,132.2 520.46,126.61 520.46,120.32 520.46,114.03 520.46,107.74 520.46,101.45Z"/>
<path fill="#50b94a" d="M524.31,101.45 528.15,101.45 532,101.45 535.84,101.45 539.69,101.45 543.53,101.45 547.38,101.45 551.22,101.45 555.07,101.45 558.91,101.45 562.76,101.45 562.76,107.74 562.76,114.03 562.76,120.32 562.76,124.51 558.91,123.47 556.35,120.32 555.07,118.75 552.51,114.03 551.22,107.74 551.22,107.74 551.22,107.74 549.58,114.03 547.38,119.06 546.83,120.32 543.53,126.61 543.53,126.61 539.69,132.9 539.69,132.9 535.84,135.38 532,134.23 528.15,132.9 528.15,132.9 524.31,128.97 522,126.61 520.46,125.95 520.46,120.32 520.46,114.03 520.46,107.74 520.46,101.45Z"/>
<path fill="#82ca47" d="M524.31,101.45 528.15,101.45 532,101.45 535.84,101.45 539.69,101.45 543.53,101.45 546.87,101.45 545.91,107.74 543.72,114.03 543.53,114.47 540.11,120.32 539.69,120.8 535.84,123.65 532,124.32 528.15,125.04 524.31,123.77 520.46,122.64 520.46,120.32 520.46,114.03 520.46,107.74 520.46,101.45ZM555.07,101.45 558.91,101.45 562.76,101.45 562.76,107.74 562.76,114.03 562.76,119.06 558.91,117.17 556.61,114.03 555.07,109.84 554.43,107.74 553.53,101.45Z"/>
<path fill="#b9d84a" d="M524.31,101.45 528.15,101.45 532,101.45 535.84,101.45 539.69,101.45 543.53,101.45 544.3,101.45 543.53,104.35 542.36,107.74 539.69,112.53 538.77,114.03 535.84,117.76 532,119.33 528.15,120.05 524.31,119.9 520.46,119.42 520.46,114.03 520.46,107.74 520.46,101.45ZM558.91,101.45 562.76,101.45 562.76,107.74 562.76,113.13 558.91,111.51 557.27,107.74 556.35,101.45Z"/>
<path fill="#ebe04e" d="M524.31,101.45 528.15,101.45 532,101.45 535.84,101.45 539.69,101.45 541.95,101.45 539.69,106.69 539.14,107.74 535.84,113.13 534.88,114.03 532,116.02 528.15,117.31 524.31,117.11 520.46,116.43 520.46,114.03 520.46,107.74 520.46,101.45ZM558.91,101.45 562.76,101.45 562.76,107.74 562.76,108.64 561.48,107.74 558.91,103.55 558.49,101.45Z"/>
<path fill="#fdd44c" d="M524.31,101.45 528.15,101.45 532,101.45 535.84,101.45 539.69,101.45 536.39,107.74 535.84,108.64 532,112.63 529.43,114.03 528.15,114.58 524.31,114.31 523.02,114.03 520.46,113.4 520.46,107.74 520.46,101.45Z"/>
<path fill="#f8ae3e" d="M524.31,101.45 528.15,101.45 532,101.45 535.41,101.45 533.28,107.74 532,109.14 528.15,112.41 524.31,112.31 520.46,110.26 520.46,107.74 520.46,101.45Z"/>
<path fill="#fa9b32" d="M524.31,101.45 528.15,101.45 532,101.45 533.28,101.45 532,104.59 530.78,107.74 528.15,110.38 524.31,110.41 520.94,107.74 520.46,106.17 520.46,101.45Z"/>
<path fill="#f68229" d="M524.31,101.45 528.15,101.45 531.45,101.45 528.76,107.74 528.15,108.35 524.31,108.5 523.34,107.74 521.23,101.45Z"/>
<path fill="#f16726" d="M524.31,101.45 528.15,101.45 530.07,101.45 528.15,105.64 524.31,104.59 523.15,101.45Z"/>
<path fill="#ec4d27" d="M528.15,101.45 528.7,101.45 528.15,102.65 526.23,101.45Z"/>
<path d="M520.46,101.45h-1.9M520.46,116.48h-1.9M520.46,128.14h-1.9M520.46,137.66h-1.9M520.46,145.72h-1.9M520.46,155.86h-1.9M520.46,160.28h-1.9M520.46,164.35h-1.9M520.46,164.35v2.4M524.31,164.35v2.4M528.15,164.35v2.4M532,164.35v2.4M535.84,164.35v2.4M539.69,164.35v2.4M543.53,164.35v2.4M547.38,164.35v2.4M551.22,164.35v2.4M555.07,164.35v2.4M558.91,164.35v2.4M562.76,164.35v2.4" stroke="#000" stroke-width="1.1" fill="none"/>
<rect x="520.46" y="101.45" width="42.3" height="62.9" fill="none" stroke="#000" stroke-width="1.5"/>
<text x="516.86" y="103.25" font-size="3.7" text-anchor="end" fill="#000" stroke="#000" stroke-width="0.15">300</text>
<text x="516.86" y="118.28" font-size="3.7" text-anchor="end" fill="#000" stroke="#000" stroke-width="0.15">400</text>
<text x="516.86" y="129.94" font-size="3.7" text-anchor="end" fill="#000" stroke="#000" stroke-width="0.15">500</text>
<text x="516.86" y="139.46" font-size="3.7" text-anchor="end" fill="#000" stroke="#000" stroke-width="0.15">600</text>
<text x="516.86" y="147.52" font-size="3.7" text-anchor="end" fill="#000" stroke="#000" stroke-width="0.15">700</text>
<text x="516.86" y="157.66" font-size="3.7" text-anchor="end" fill="#000" stroke="#000" stroke-width="0.15">850</text>
<text x="516.86" y="162.08" font-size="3.7" text-anchor="end" fill="#000" stroke="#000" stroke-width="0.15">925</text>
<text x="516.86" y="166.15" font-size="3.7" text-anchor="end" fill="#000" stroke="#000" stroke-width="0.15">1000</text>
<text x="520.66" y="171.55" font-size="3.8" text-anchor="middle" fill="#000" stroke="#000" stroke-width="0.08">J</text>
<text x="524.51" y="171.55" font-size="3.8" text-anchor="middle" fill="#000" stroke="#000" stroke-width="0.08">F</text>
<text x="528.35" y="171.55" font-size="3.8" text-anchor="middle" fill="#000" stroke="#000" stroke-width="0.08">M</text>
<text x="532.2" y="171.55" font-size="3.8" text-anchor="middle" fill="#000" stroke="#000" stroke-width="0.08">A</text>
<text x="536.04" y="171.55" font-size="3.8" text-anchor="middle" fill="#000" stroke="#000" stroke-width="0.08">M</text>
<text x="539.89" y="171.55" font-size="3.8" text-anchor="middle" fill="#000" stroke="#000" stroke-width="0.08">J</text>
<text x="543.73" y="171.55" font-size="3.8" text-anchor="middle" fill="#000" stroke="#000" stroke-width="0.08">J</text>
<text x="547.58" y="171.55" font-size="3.8" text-anchor="middle" fill="#000" stroke="#000" stroke-width="0.08">A</text>
<text x="551.42" y="171.55" font-size="3.8" text-anchor="middle" fill="#000" stroke="#000" stroke-width="0.08">S</text>
<text x="555.27" y="171.55" font-size="3.8" text-anchor="middle" fill="#000" stroke="#000" stroke-width="0.08">O</text>
<text x="559.11" y="171.55" font-size="3.8" text-anchor="middle" fill="#000" stroke="#000" stroke-width="0.08">N</text>
<text x="562.96" y="171.55" font-size="3.8" text-anchor="middle" fill="#000" stroke="#000" stroke-width="0.08">D</text>
</g>
<g>
<rect x="592.22" y="101.45" width="42.3" height="62.9" fill="#64a9de"/>
<path fill="#4d93d0" d="M596.07,101.45 599.91,101.45 603.76,101.45 607.6,101.45 611.45,101.45 615.29,101.45 619.14,101.45 622.98,101.45 626.83,101.45 630.67,101.45 634.52,101.45 634.52,107.74 634.52,114.03 634.52,120.32 634.52,126.61 634.52,132.9 634.52,139.19 634.52,145.48 634.52,151.77 634.52,158.06 634.52,159.68 633.56,161.3 631.32,164.35 630.67,164.35 626.83,164.35 622.98,164.35 619.14,164.35 615.29,164.35 611.45,164.35 607.6,164.35 603.76,164.35 599.91,164.35 596.07,164.35 594.78,164.35 592.22,161.91 592.22,161.3 592.22,158.06 592.22,151.77 592.22,145.48 592.22,139.19 592.22,132.9 592.22,126.61 592.22,120.32 592.22,114.03 592.22,107.74 592.22,101.45Z"/>
<path fill="#4596ab" d="M596.07,101.45 599.91,101.45 603.76,101.45 607.6,101.45 611.45,101.45 615.29,101.45 619.14,101.45 622.98,101.45 626.83,101.45 630.67,101.45 634.52,101.45 634.52,107.74 634.52,114.03 634.52,120.32 634.52,126.61 634.52,132.9 634.52,139.19 634.52,145.48 634.52,147.58 632.6,151.77 630.67,158.06 630.67,158.06 626.83,161.3 622.98,158.06 622.98,158.06 621.88,151.77 621.06,145.48 619.14,139.19 619.14,139.19 619.14,139.19 617.6,145.48 617,151.77 616.39,158.06 615.29,160.22 614.87,161.3 611.45,163.52 607.6,163.91 603.76,163.59 599.91,162.17 598.63,161.3 596.07,158.06 596.07,158.06 592.22,151.77 592.22,151.77 592.22,145.48 592.22,139.19 592.22,132.9 592.22,126.61 592.22,120.32 592.22,114.03 592.22,107.74 592.22,101.45Z"/>
<path fill="#46a48a" d="M596.07,101.45 599.91,101.45 603.76,101.45 607.6,101.45 611.45,101.45 615.29,101.45 619.14,101.45 622.98,101.45 626.83,101.45 630.67,101.45 634.52,101.45 634.52,107.74 634.52,111.51 631.96,114.03 630.67,115.6 628.37,120.32 627.6,126.61 626.83,132.9 626.83,132.9 622.98,135 619.14,134.35 615.29,137.62 614.65,139.19 613.75,145.48 613.2,151.77 612.5,158.06 611.45,160 609.52,161.3 607.6,161.74 605.04,161.3 603.76,160.49 601.83,158.06 600.68,151.77 599.91,145.48 599.91,145.48 599.27,139.19 598.81,132.9 597.35,126.61 596.07,123.47 594.14,120.32 592.22,118.87 592.22,114.03 592.22,107.74 592.22,101.45Z"/>
<path fill="#47af62" d="M596.07,101.45 599.91,101.45 603.76,101.45 607.6,101.45 611.45,101.45 615.29,101.45 619.14,101.45 622.98,101.45 624.91,101.45 623.75,107.74 622.98,109.84 621.7,114.03 620.42,120.32 619.14,126.61 619.14,126.61 615.29,129.75 613.37,132.9 611.45,139.19 611.45,139.19 607.6,142.34 606.06,139.19 604.53,132.9 603.76,130.8 602.47,126.61 599.91,122.42 599.06,120.32 596.07,115.43 592.22,114.03 592.22,114.03 592.22,107.74 592.22,101.45Z"/>
<path fill="#50b94a" d="M596.07,101.45 599.91,101.45 603.76,101.45 607.6,101.45 611.45,101.45 615.29,101.45 616.57,101.45 615.29,107.74 615.29,107.74 615.29,107.74 615.84,114.03 615.29,116.13 614.01,120.32 611.45,124.51 608.37,120.32 607.6,117.17 606.64,114.03 603.76,111.33 599.91,109.84 596.07,108.44 594.14,107.74 592.22,106.48 592.22,101.45Z"/>
<path fill="#82ca47" d="M599.91,101.45 603.76,101.45 599.91,102.85 597.99,101.45ZM611.45,101.45 611.87,101.45 611.45,103.02 610.68,101.45Z"/>
<rect x="607.6" y="160.35" width="11.57" height="4" fill="#999"/>
<path d="M592.22,101.45h-1.9M592.22,116.48h-1.9M592.22,128.14h-1.9M592.22,137.66h-1.9M592.22,145.72h-1.9M592.22,155.86h-1.9M592.22,160.28h-1.9M592.22,164.35h-1.9M592.22,164.35v2.4M596.07,164.35v2.4M599.91,164.35v2.4M603.76,164.35v2.4M607.6,164.35v2.4M611.45,164.35v2.4M615.29,164.35v2.4M619.14,164.35v2.4M622.98,164.35v2.4M626.83,164.35v2.4M630.67,164.35v2.4M634.52,164.35v2.4" stroke="#000" stroke-width="1.1" fill="none"/>
<rect x="592.22" y="101.45" width="42.3" height="62.9" fill="none" stroke="#000" stroke-width="1.5"/>
<text x="588.62" y="103.25" font-size="3.7" text-anchor="end" fill="#000" stroke="#000" stroke-width="0.15">300</text>
<text x="588.62" y="118.28" font-size="3.7" text-anchor="end" fill="#000" stroke="#000" stroke-width="0.15">400</text>
<text x="588.62" y="129.94" font-size="3.7" text-anchor="end" fill="#000" stroke="#000" stroke-width="0.15">500</text>
<text x="588.62" y="139.46" font-size="3.7" text-anchor="end" fill="#000" stroke="#000" stroke-width="0.15">600</text>
<text x="588.62" y="147.52" font-size="3.7" text-anchor="end" fill="#000" stroke="#000" stroke-width="0.15">700</text>
<text x="588.62" y="157.66" font-size="3.7" text-anchor="end" fill="#000" stroke="#000" stroke-width="0.15">850</text>
<text x="588.62" y="162.08" font-size="3.7" text-anchor="end" fill="#000" stroke="#000" stroke-width="0.15">925</text>
<text x="588.62" y="166.15" font-size="3.7" text-anchor="end" fill="#000" stroke="#000" stroke-width="0.15">1000</text>
<text x="592.42" y="171.55" font-size="3.8" text-anchor="middle" fill="#000" stroke="#000" stroke-width="0.08">J</text>
<text x="596.27" y="171.55" font-size="3.8" text-anchor="middle" fill="#000" stroke="#000" stroke-width="0.08">F</text>
<text x="600.11" y="171.55" font-size="3.8" text-anchor="middle" fill="#000" stroke="#000" stroke-width="0.08">M</text>
<text x="603.96" y="171.55" font-size="3.8" text-anchor="middle" fill="#000" stroke="#000" stroke-width="0.08">A</text>
<text x="607.8" y="171.55" font-size="3.8" text-anchor="middle" fill="#000" stroke="#000" stroke-width="0.08">M</text>
<text x="611.65" y="171.55" font-size="3.8" text-anchor="middle" fill="#000" stroke="#000" stroke-width="0.08">J</text>
<text x="615.49" y="171.55" font-size="3.8" text-anchor="middle" fill="#000" stroke="#000" stroke-width="0.08">J</text>
<text x="619.34" y="171.55" font-size="3.8" text-anchor="middle" fill="#000" stroke="#000" stroke-width="0.08">A</text>
<text x="623.18" y="171.55" font-size="3.8" text-anchor="middle" fill="#000" stroke="#000" stroke-width="0.08">S</text>
<text x="627.03" y="171.55" font-size="3.8" text-anchor="middle" fill="#000" stroke="#000" stroke-width="0.08">O</text>
<text x="630.87" y="171.55" font-size="3.8" text-anchor="middle" fill="#000" stroke="#000" stroke-width="0.08">N</text>
<text x="634.72" y="171.55" font-size="3.8" text-anchor="middle" fill="#000" stroke="#000" stroke-width="0.08">D</text>
</g>
<g>
<rect x="89.9" y="195.9" width="42.3" height="62.9" fill="#7cbce8"/>
<path fill="#64a9de" d="M93.75,195.9 97.59,195.9 101.44,195.9 105.28,195.9 109.13,195.9 112.97,195.9 116.82,195.9 120.66,195.9 124.51,195.9 128.35,195.9 132.2,195.9 132.2,202.19 132.2,208.48 132.2,214.77 132.2,221.06 132.2,227.35 132.2,233.64 132.2,239.93 132.2,246.22 132.2,252.51 132.2,258.8 128.35,258.8 124.51,258.8 120.66,258.8 116.82,258.8 114.9,258.8 112.97,255.03 109.13,257.4 107.2,258.8 105.28,258.8 101.44,258.8 97.59,258.8 97.59,258.8 93.75,258.1 91.82,258.8 89.9,258.8 89.9,252.51 89.9,246.22 89.9,239.93 89.9,233.64 89.9,227.35 89.9,221.06 89.9,214.77 89.9,208.48 89.9,202.19 89.9,195.9Z"/>
<path fill="#4d93d0" d="M93.75,195.9 97.59,195.9 101.44,195.9 105.28,195.9 109.13,195.9 112.97,195.9 116.82,195.9 120.66,195.9 124.51,195.9 128.35,195.9 132.2,195.9 132.2,202.19 132.2,208.48 132.2,214.77 132.2,221.06 132.2,227.35 132.2,233.64 132.2,239.93 132.2,246.22 132.2,252.51 132.2,258.8 132.2,258.8 128.35,258.8 124.51,258.8 120.66,258.8 120.66,258.8 117.46,252.51 118.1,246.22 118.53,239.93 117.78,233.64 116.82,231.84 112.97,231.28 111.32,233.64 110.23,239.93 109.13,246.22 109.13,246.22 107.2,252.51 105.28,254.23 101.44,255.86 97.59,255.66 93.75,254.61 89.9,253.77 89.9,252.51 89.9,246.22 89.9,239.93 89.9,233.64 89.9,227.35 89.9,221.06 89.9,214.77 89.9,208.48 89.9,202.19 89.9,195.9Z"/>
<path fill="#4596ab" d="M93.75,195.9 97.59,195.9 101.44,195.9 105.28,195.9 109.13,195.9 112.97,195.9 116.82,195.9 120.66,195.9 124.51,195.9 128.35,195.9 132.2,195.9 132.2,202.19 132.2,208.48 132.2,214.77 132.2,221.06 132.2,227.35 132.2,230.5 128.35,232.07 124.51,232.07 120.66,227.35 120.66,227.35 116.82,221.06 116.82,221.06 116.82,221.06 112.97,222.86 109.13,227.35 109.13,227.35 107.2,233.64 106.05,239.93 105.28,243.07 104.32,246.22 101.44,250.94 97.59,252.51 93.75,250.22 91.3,246.22 90.28,239.93 89.9,238.36 89.9,233.64 89.9,227.35 89.9,221.06 89.9,214.77 89.9,208.48 89.9,202.19 89.9,195.9ZM124.51,242.03 128.35,243.7 129.89,246.22 130.28,252.51 128.35,254.61 124.51,256.44 120.66,252.51 121.95,246.22Z"/>
<path fill="#46a48a" d="M101.44,195.9 105.28,195.9 109.13,195.9 112.97,195.9 116.82,195.9 120.66,195.9 124.51,195.9 124.51,202.19 123.74,208.48 120.66,213.51 116.82,209.53 112.97,212.07 111.05,214.77 109.13,217.92 107.69,221.06 105.63,227.35 105.28,228.61 103.36,233.64 102.21,239.93 101.44,242.03 99.73,246.22 97.59,248.32 95.19,246.22 94.04,239.93 94.71,233.64 95.67,227.35 96.05,221.06 96.05,214.77 96.63,208.48 97.59,202.19 97.59,202.19 97.59,195.9Z"/>
<path fill="#47af62" d="M105.28,195.9 109.13,195.9 110.41,195.9 110.41,202.19 109.13,206.38 108.49,208.48 105.76,214.77 105.28,215.82 104.32,214.77 102.08,208.48 101.44,202.19 101.44,195.9ZM97.59,237.83 98.36,239.93 97.59,241.73 97,239.93Z"/>
<path d="M89.9,195.9h-1.9M89.9,210.93h-1.9M89.9,222.59h-1.9M89.9,232.11h-1.9M89.9,240.17h-1.9M89.9,250.31h-1.9M89.9,254.73h-1.9M89.9,258.8h-1.9M89.9,258.8v2.4M93.75,258.8v2.4M97.59,258.8v2.4M101.44,258.8v2.4M105.28,258.8v2.4M109.13,258.8v2.4M112.97,258.8v2.4M116.82,258.8v2.4M120.66,258.8v2.4M124.51,258.8v2.4M128.35,258.8v2.4M132.2,258.8v2.4" stroke="#000" stroke-width="1.1" fill="none"/>
<rect x="89.9" y="195.9" width="42.3" height="62.9" fill="none" stroke="#000" stroke-width="1.5"/>
<text x="86.3" y="197.7" font-size="3.7" text-anchor="end" fill="#000" stroke="#000" stroke-width="0.15">300</text>
<text x="86.3" y="212.73" font-size="3.7" text-anchor="end" fill="#000" stroke="#000" stroke-width="0.15">400</text>
<text x="86.3" y="224.39" font-size="3.7" text-anchor="end" fill="#000" stroke="#000" stroke-width="0.15">500</text>
<text x="86.3" y="233.91" font-size="3.7" text-anchor="end" fill="#000" stroke="#000" stroke-width="0.15">600</text>
<text x="86.3" y="241.97" font-size="3.7" text-anchor="end" fill="#000" stroke="#000" stroke-width="0.15">700</text>
<text x="86.3" y="252.11" font-size="3.7" text-anchor="end" fill="#000" stroke="#000" stroke-width="0.15">850</text>
<text x="86.3" y="256.53" font-size="3.7" text-anchor="end" fill="#000" stroke="#000" stroke-width="0.15">925</text>
<text x="86.3" y="260.6" font-size="3.7" text-anchor="end" fill="#000" stroke="#000" stroke-width="0.15">1000</text>
<text x="90.1" y="266" font-size="3.8" text-anchor="middle" fill="#000" stroke="#000" stroke-width="0.08">J</text>
<text x="93.95" y="266" font-size="3.8" text-anchor="middle" fill="#000" stroke="#000" stroke-width="0.08">F</text>
<text x="97.79" y="266" font-size="3.8" text-anchor="middle" fill="#000" stroke="#000" stroke-width="0.08">M</text>
<text x="101.64" y="266" font-size="3.8" text-anchor="middle" fill="#000" stroke="#000" stroke-width="0.08">A</text>
<text x="105.48" y="266" font-size="3.8" text-anchor="middle" fill="#000" stroke="#000" stroke-width="0.08">M</text>
<text x="109.33" y="266" font-size="3.8" text-anchor="middle" fill="#000" stroke="#000" stroke-width="0.08">J</text>
<text x="113.17" y="266" font-size="3.8" text-anchor="middle" fill="#000" stroke="#000" stroke-width="0.08">J</text>
<text x="117.02" y="266" font-size="3.8" text-anchor="middle" fill="#000" stroke="#000" stroke-width="0.08">A</text>
<text x="120.86" y="266" font-size="3.8" text-anchor="middle" fill="#000" stroke="#000" stroke-width="0.08">S</text>
<text x="124.71" y="266" font-size="3.8" text-anchor="middle" fill="#000" stroke="#000" stroke-width="0.08">O</text>
<text x="128.55" y="266" font-size="3.8" text-anchor="middle" fill="#000" stroke="#000" stroke-width="0.08">N</text>
<text x="132.4" y="266" font-size="3.8" text-anchor="middle" fill="#000" stroke="#000" stroke-width="0.08">D</text>
</g>
<g>
<rect x="161.66" y="195.9" width="42.3" height="62.9" fill="#7cbce8"/>
<path fill="#64a9de" d="M165.51,195.9 169.35,195.9 173.2,195.9 177.04,195.9 180.89,195.9 184.73,195.9 188.58,195.9 192.42,195.9 196.27,195.9 200.11,195.9 203.96,195.9 203.96,202.19 203.96,208.48 203.96,214.77 203.96,221.06 203.96,227.35 203.96,233.64 203.96,239.93 203.96,246.22 203.96,252.51 203.96,258.8 200.11,258.8 196.27,258.8 192.42,258.8 188.58,258.8 187.3,258.8 184.73,255.66 183.45,258.8 180.89,258.8 177.04,258.8 173.2,258.8 169.35,258.8 165.51,258.8 161.66,258.8 161.66,252.51 161.66,246.22 161.66,239.93 161.66,233.64 161.66,227.35 161.66,221.06 161.66,214.77 161.66,208.48 161.66,202.19 161.66,195.9Z"/>
<path fill="#4d93d0" d="M165.51,195.9 169.35,195.9 173.2,195.9 177.04,195.9 180.89,195.9 184.73,195.9 188.58,195.9 192.42,195.9 196.27,195.9 200.11,195.9 203.96,195.9 203.96,202.19 203.96,208.48 203.96,214.77 203.96,221.06 203.96,227.35 203.96,233.64 203.96,239.93 203.96,242.45 200.11,241.19 198.19,239.93 196.27,238.36 192.42,234.9 191.46,233.64 188.58,230.94 184.73,230.5 182.17,233.64 180.89,237.83 180.34,239.93 178.96,246.22 177.81,252.51 177.04,258.8 177.04,258.8 173.2,258.8 169.35,258.8 165.51,258.8 163.58,258.8 164.22,252.51 161.66,248.92 161.66,246.22 161.66,239.93 161.66,233.64 161.66,227.35 161.66,221.06 161.66,214.77 161.66,208.48 161.66,202.19 161.66,195.9Z"/>
<path fill="#4596ab" d="M165.51,195.9 169.35,195.9 173.2,195.9 177.04,195.9 180.89,195.9 184.73,195.9 188.58,195.9 192.42,195.9 196.27,195.9 200.11,195.9 203.96,195.9 203.96,202.19 203.96,208.48 203.96,214.77 203.96,219.49 200.11,216.03 196.27,214.77 196.27,214.77 196.27,214.77 192.42,219.49 188.58,216.03 184.73,216.87 180.89,221.06 180.89,221.06 179.24,227.35 177.04,233.64 177.04,233.64 174.48,239.93 173.2,242.45 169.35,239.93 169.35,239.93 165.51,236.16 163.97,233.64 161.66,230.5 161.66,227.35 161.66,221.06 161.66,214.77 161.66,208.48 161.66,202.19 161.66,195.9Z"/>
<path fill="#46a48a" d="M173.2,195.9 177.04,195.9 180.89,195.9 184.09,195.9 183.19,202.19 180.89,206.91 180.34,208.48 178.48,214.77 177.04,218.54 175.5,221.06 173.2,225.78 171.27,221.06 170.63,214.77 169.99,208.48 169.35,202.19 169.35,195.9Z"/>
<path d="M161.66,195.9h-1.9M161.66,210.93h-1.9M161.66,222.59h-1.9M161.66,232.11h-1.9M161.66,240.17h-1.9M161.66,250.31h-1.9M161.66,254.73h-1.9M161.66,258.8h-1.9M161.66,258.8v2.4M165.51,258.8v2.4M169.35,258.8v2.4M173.2,258.8v2.4M177.04,258.8v2.4M180.89,258.8v2.4M184.73,258.8v2.4M188.58,258.8v2.4M192.42,258.8v2.4M196.27,258.8v2.4M200.11,258.8v2.4M203.96,258.8v2.4" stroke="#000" stroke-width="1.1" fill="none"/>
<rect x="161.66" y="195.9" width="42.3" height="62.9" fill="none" stroke="#000" stroke-width="1.5"/>
<text x="158.06" y="197.7" font-size="3.7" text-anchor="end" fill="#000" stroke="#000" stroke-width="0.15">300</text>
<text x="158.06" y="212.73" font-size="3.7" text-anchor="end" fill="#000" stroke="#000" stroke-width="0.15">400</text>
<text x="158.06" y="224.39" font-size="3.7" text-anchor="end" fill="#000" stroke="#000" stroke-width="0.15">500</text>
<text x="158.06" y="233.91" font-size="3.7" text-anchor="end" fill="#000" stroke="#000" stroke-width="0.15">600</text>
<text x="158.06" y="241.97" font-size="3.7" text-anchor="end" fill="#000" stroke="#000" stroke-width="0.15">700</text>
<text x="158.06" y="252.11" font-size="3.7" text-anchor="end" fill="#000" stroke="#000" stroke-width="0.15">850</text>
<text x="158.06" y="256.53" font-size="3.7" text-anchor="end" fill="#000" stroke="#000" stroke-width="0.15">925</text>
<text x="158.06" y="260.6" font-size="3.7" text-anchor="end" fill="#000" stroke="#000" stroke-width="0.15">1000</text>
<text x="161.86" y="266" font-size="3.8" text-anchor="middle" fill="#000" stroke="#000" stroke-width="0.08">J</text>
<text x="165.71" y="266" font-size="3.8" text-anchor="middle" fill="#000" stroke="#000" stroke-width="0.08">F</text>
<text x="169.55" y="266" font-size="3.8" text-anchor="middle" fill="#000" stroke="#000" stroke-width="0.08">M</text>
<text x="173.4" y="266" font-size="3.8" text-anchor="middle" fill="#000" stroke="#000" stroke-width="0.08">A</text>
<text x="177.24" y="266" font-size="3.8" text-anchor="middle" fill="#000" stroke="#000" stroke-width="0.08">M</text>
<text x="181.09" y="266" font-size="3.8" text-anchor="middle" fill="#000" stroke="#000" stroke-width="0.08">J</text>
<text x="184.93" y="266" font-size="3.8" text-anchor="middle" fill="#000" stroke="#000" stroke-width="0.08">J</text>
<text x="188.78" y="266" font-size="3.8" text-anchor="middle" fill="#000" stroke="#000" stroke-width="0.08">A</text>
<text x="192.62" y="266" font-size="3.8" text-anchor="middle" fill="#000" stroke="#000" stroke-width="0.08">S</text>
<text x="196.47" y="266" font-size="3.8" text-anchor="middle" fill="#000" stroke="#000" stroke-width="0.08">O</text>
<text x="200.31" y="266" font-size="3.8" text-anchor="middle" fill="#000" stroke="#000" stroke-width="0.08">N</text>
<text x="204.16" y="266" font-size="3.8" text-anchor="middle" fill="#000" stroke="#000" stroke-width="0.08">D</text>
</g>
<g>
<rect x="233.42" y="195.9" width="42.3" height="62.9" fill="#64a9de"/>
<path fill="#4d93d0" d="M237.27,195.9 241.11,195.9 244.96,195.9 248.8,195.9 252.65,195.9 256.49,195.9 260.34,195.9 264.18,195.9 268.03,195.9 271.87,195.9 275.72,195.9 275.72,202.19 275.72,208.48 275.72,214.77 275.72,221.06 275.72,227.35 275.72,233.64 275.72,239.93 275.72,246.22 275.72,252.51 275.72,256.1 275.72,258.8 271.87,258.8 268.03,258.8 264.18,258.8 260.34,258.8 260.34,258.8 256.49,257.18 252.65,258.26 251.69,258.8 248.8,258.8 244.96,258.8 241.11,258.8 237.27,258.8 233.42,258.8 233.42,256.1 233.42,252.51 233.42,246.22 233.42,239.93 233.42,233.64 233.42,227.35 233.42,221.06 233.42,214.77 233.42,208.48 233.42,202.19 233.42,195.9ZM255.72,239.93 255.21,246.22 256.49,250.41 257.45,246.22 257.04,239.93 256.49,238.36Z"/>
<path fill="#4596ab" d="M244.96,195.9 248.8,195.9 252.65,195.9 256.49,195.9 260.34,195.9 264.18,195.9 268.03,195.9 268.03,202.19 268.03,208.48 268.03,214.77 268.03,214.77 268.99,221.06 268.99,227.35 268.03,233.64 268.03,233.64 268.03,233.64 269.31,239.93 271.87,242.03 275.72,244.65 275.72,246.22 275.72,252.51 275.72,256.1 275.72,256.1 271.87,257.57 268.03,258.03 264.18,257.45 261.88,256.1 260.89,252.51 262.05,246.22 262.26,239.93 261.62,233.64 260.34,229.45 259.57,227.35 256.49,223.76 252.65,227.35 252.65,227.35 250.72,233.64 250.08,239.93 250.08,246.22 250.24,252.51 248.8,256.1 248.8,256.1 244.96,257.45 241.11,257.3 237.27,256.1 237.27,256.1 234.96,252.51 235.73,246.22 235.98,239.93 235.98,233.64 236.5,227.35 237.27,224.2 238.03,221.06 239.57,214.77 241.11,208.48 241.11,208.48 241.66,202.19 241.66,195.9Z"/>
<path fill="#46a48a" d="M248.8,195.9 252.65,195.9 256.49,195.9 260.34,195.9 264.18,195.9 265.07,195.9 264.82,202.19 264.53,208.48 264.18,210.05 260.34,211.62 258.03,208.48 256.49,205.96 255.21,208.48 252.65,212.67 248.8,208.48 248.8,208.48 248.03,202.19 248.03,195.9ZM264.18,250.71 268.03,247.12 271.87,252.51 268.03,256.1 264.18,253.71 263.63,252.51Z"/>
<path fill="#47af62" d="M268.03,251.61 268.67,252.51 268.03,253.11 267.26,252.51Z"/>
<path d="M233.42,195.9h-1.9M233.42,210.93h-1.9M233.42,222.59h-1.9M233.42,232.11h-1.9M233.42,240.17h-1.9M233.42,250.31h-1.9M233.42,254.73h-1.9M233.42,258.8h-1.9M233.42,258.8v2.4M237.27,258.8v2.4M241.11,258.8v2.4M244.96,258.8v2.4M248.8,258.8v2.4M252.65,258.8v2.4M256.49,258.8v2.4M260.34,258.8v2.4M264.18,258.8v2.4M268.03,258.8v2.4M271.87,258.8v2.4M275.72,258.8v2.4" stroke="#000" stroke-width="1.1" fill="none"/>
<rect x="233.42" y="195.9" width="42.3" height="62.9" fill="none" stroke="#000" stroke-width="1.5"/>
<text x="229.82" y="197.7" font-size="3.7" text-anchor="end" fill="#000" stroke="#000" stroke-width="0.15">300</text>
<text x="229.82" y="212.73" font-size="3.7" text-anchor="end" fill="#000" stroke="#000" stroke-width="0.15">400</text>
<text x="229.82" y="224.39" font-size="3.7" text-anchor="end" fill="#000" stroke="#000" stroke-width="0.15">500</text>
<text x="229.82" y="233.91" font-size="3.7" text-anchor="end" fill="#000" stroke="#000" stroke-width="0.15">600</text>
<text x="229.82" y="241.97" font-size="3.7" text-anchor="end" fill="#000" stroke="#000" stroke-width="0.15">700</text>
<text x="229.82" y="252.11" font-size="3.7" text-anchor="end" fill="#000" stroke="#000" stroke-width="0.15">850</text>
<text x="229.82" y="256.53" font-size="3.7" text-anchor="end" fill="#000" stroke="#000" stroke-width="0.15">925</text>
<text x="229.82" y="260.6" font-size="3.7" text-anchor="end" fill="#000" stroke="#000" stroke-width="0.15">1000</text>
<text x="233.62" y="266" font-size="3.8" text-anchor="middle" fill="#000" stroke="#000" stroke-width="0.08">J</text>
<text x="237.47" y="266" font-size="3.8" text-anchor="middle" fill="#000" stroke="#000" stroke-width="0.08">F</text>
<text x="241.31" y="266" font-size="3.8" text-anchor="middle" fill="#000" stroke="#000" stroke-width="0.08">M</text>
<text x="245.16" y="266" font-size="3.8" text-anchor="middle" fill="#000" stroke="#000" stroke-width="0.08">A</text>
<text x="249" y="266" font-size="3.8" text-anchor="middle" fill="#000" stroke="#000" stroke-width="0.08">M</text>
<text x="252.85" y="266" font-size="3.8" text-anchor="middle" fill="#000" stroke="#000" stroke-width="0.08">J</text>
<text x="256.69" y="266" font-size="3.8" text-anchor="middle" fill="#000" stroke="#000" stroke-width="0.08">J</text>
<text x="260.54" y="266" font-size="3.8" text-anchor="middle" fill="#000" stroke="#000" stroke-width="0.08">A</text>
<text x="264.38" y="266" font-size="3.8" text-anchor="middle" fill="#000" stroke="#000" stroke-width="0.08">S</text>
<text x="268.23" y="266" font-size="3.8" text-anchor="middle" fill="#000" stroke="#000" stroke-width="0.08">O</text>
<text x="272.07" y="266" font-size="3.8" text-anchor="middle" fill="#000" stroke="#000" stroke-width="0.08">N</text>
<text x="275.92" y="266" font-size="3.8" text-anchor="middle" fill="#000" stroke="#000" stroke-width="0.08">D</text>
</g>
<g>
<rect x="305.18" y="195.9" width="42.3" height="62.9" fill="#7cbce8"/>
<path fill="#64a9de" d="M309.03,195.9 312.87,195.9 316.72,195.9 320.56,195.9 324.41,195.9 328.25,195.9 332.1,195.9 335.94,195.9 339.79,195.9 343.63,195.9 347.48,195.9 347.48,202.19 347.48,208.48 347.48,214.77 347.48,221.06 347.48,227.35 347.48,233.64 347.48,239.93 347.48,246.22 347.48,252.51 347.48,258.8 343.63,258.8 339.79,258.8 335.94,258.8 333.15,258.8 332.1,257.45 328.25,253.77 324.41,256.1 320.56,258.01 318.64,258.8 316.72,258.8 312.87,258.8 309.03,258.8 305.18,258.8 305.18,252.51 305.18,246.22 305.18,239.93 305.18,233.64 305.18,227.35 305.18,221.06 305.18,214.77 305.18,208.48 305.18,202.19 305.18,195.9Z"/>
<path fill="#4d93d0" d="M309.03,195.9 312.87,195.9 316.72,195.9 320.56,195.9 324.41,195.9 328.25,195.9 332.1,195.9 335.94,195.9 339.79,195.9 343.63,195.9 347.48,195.9 347.48,202.19 347.48,208.48 347.48,214.77 347.48,221.06 347.48,227.35 347.48,233.64 347.48,239.93 347.48,246.22 347.48,252.51 347.48,258.8 347.48,258.8 343.63,258.8 339.79,258.8 337.23,258.8 335.94,257.9 332.1,252.96 331.67,252.51 332.1,246.22 332.1,246.22 332.1,239.93 332.1,239.93 330.82,233.64 328.25,230.5 325.69,233.64 324.41,239.93 324.41,239.93 323.98,246.22 323.13,252.51 320.56,254.08 316.72,255.66 312.87,257.23 309.03,257.9 305.18,258.8 305.18,252.51 305.18,246.22 305.18,239.93 305.18,233.64 305.18,227.35 305.18,221.06 305.18,214.77 305.18,208.48 305.18,202.19 305.18,195.9Z"/>
<path fill="#4596ab" d="M309.03,195.9 312.87,195.9 316.72,195.9 320.56,195.9 324.41,195.9 328.25,195.9 332.1,195.9 335.94,195.9 339.79,195.9 343.63,195.9 347.48,195.9 347.48,202.19 347.48,208.48 347.48,214.77 347.48,221.06 347.48,227.35 347.48,228.92 343.63,227.35 343.63,227.35 343.63,227.35 339.79,231.54 335.94,228.92 335.17,227.35 332.1,223.76 328.25,221.96 324.41,224.2 323.25,227.35 321.33,233.64 320.56,239.93 320.56,239.93 319.6,246.22 316.72,250.94 314.79,252.51 312.87,253.3 309.03,253.41 305.18,253.08 305.18,252.51 305.18,251.25 308.26,246.22 306.72,239.93 305.18,236.78 305.18,233.64 305.18,227.35 305.18,221.06 305.18,214.77 305.18,208.48 305.18,202.19 305.18,195.9ZM339.79,242.45 342.67,246.22 343.63,247.79 347.48,252.51 343.63,254.23 339.79,257.08 335.94,253.41 335.24,252.51 335.94,249.37 337.48,246.22Z"/>
<path fill="#46a48a" d="M316.72,195.9 320.56,195.9 324.41,195.9 328.25,195.9 332.1,195.9 335.94,195.9 339.79,195.9 339.79,202.19 338.83,208.48 336.91,214.77 335.94,215.82 334.02,214.77 332.1,213.2 328.25,212.25 324.41,212.97 323.13,214.77 321.04,221.06 320.56,222.63 318.64,227.35 317.77,233.64 316.72,239.93 316.72,239.93 312.87,244.96 311.47,239.93 311.16,233.64 312.87,227.35 312.87,227.35 314.41,221.06 314.15,214.77 313.97,208.48 313.97,202.19 313.97,195.9ZM339.79,249.61 341.56,252.51 339.79,254.23 338.14,252.51Z"/>
<path fill="#47af62" d="M320.56,195.9 324.41,195.9 326.97,195.9 324.41,200.09 320.56,202.19 319.46,195.9Z"/>
<path d="M305.18,195.9h-1.9M305.18,210.93h-1.9M305.18,222.59h-1.9M305.18,232.11h-1.9M305.18,240.17h-1.9M305.18,250.31h-1.9M305.18,254.73h-1.9M305.18,258.8h-1.9M305.18,258.8v2.4M309.03,258.8v2.4M312.87,258.8v2.4M316.72,258.8v2.4M320.56,258.8v2.4M324.41,258.8v2.4M328.25,258.8v2.4M332.1,258.8v2.4M335.94,258.8v2.4M339.79,258.8v2.4M343.63,258.8v2.4M347.48,258.8v2.4" stroke="#000" stroke-width="1.1" fill="none"/>
<rect x="305.18" y="195.9" width="42.3" height="62.9" fill="none" stroke="#000" stroke-width="1.5"/>
<text x="301.58" y="197.7" font-size="3.7" text-anchor="end" fill="#000" stroke="#000" stroke-width="0.15">300</text>
<text x="301.58" y="212.73" font-size="3.7" text-anchor="end" fill="#000" stroke="#000" stroke-width="0.15">400</text>
<text x="301.58" y="224.39" font-size="3.7" text-anchor="end" fill="#000" stroke="#000" stroke-width="0.15">500</text>
<text x="301.58" y="233.91" font-size="3.7" text-anchor="end" fill="#000" stroke="#000" stroke-width="0.15">600</text>
<text x="301.58" y="241.97" font-size="3.7" text-anchor="end" fill="#000" stroke="#000" stroke-width="0.15">700</text>
<text x="301.58" y="252.11" font-size="3.7" text-anchor="end" fill="#000" stroke="#000" stroke-width="0.15">850</text>
<text x="301.58" y="256.53" font-size="3.7" text-anchor="end" fill="#000" stroke="#000" stroke-width="0.15">925</text>
<text x="301.58" y="260.6" font-size="3.7" text-anchor="end" fill="#000" stroke="#000" stroke-width="0.15">1000</text>
<text x="305.38" y="266" font-size="3.8" text-anchor="middle" fill="#000" stroke="#000" stroke-width="0.08">J</text>
<text x="309.23" y="266" font-size="3.8" text-anchor="middle" fill="#000" stroke="#000" stroke-width="0.08">F</text>
<text x="313.07" y="266" font-size="3.8" text-anchor="middle" fill="#000" stroke="#000" stroke-width="0.08">M</text>
<text x="316.92" y="266" font-size="3.8" text-anchor="middle" fill="#000" stroke="#000" stroke-width="0.08">A</text>
<text x="320.76" y="266" font-size="3.8" text-anchor="middle" fill="#000" stroke="#000" stroke-width="0.08">M</text>
<text x="324.61" y="266" font-size="3.8" text-anchor="middle" fill="#000" stroke="#000" stroke-width="0.08">J</text>
<text x="328.45" y="266" font-size="3.8" text-anchor="middle" fill="#000" stroke="#000" stroke-width="0.08">J</text>
<text x="332.3" y="266" font-size="3.8" text-anchor="middle" fill="#000" stroke="#000" stroke-width="0.08">A</text>
<text x="336.14" y="266" font-size="3.8" text-anchor="middle" fill="#000" stroke="#000" stroke-width="0.08">S</text>
<text x="339.99" y="266" font-size="3.8" text-anchor="middle" fill="#000" stroke="#000" stroke-width="0.08">O</text>
<text x="343.83" y="266" font-size="3.8" text-anchor="middle" fill="#000" stroke="#000" stroke-width="0.08">N</text>
<text x="347.68" y="266" font-size="3.8" text-anchor="middle" fill="#000" stroke="#000" stroke-width="0.08">D</text>
</g>
<g>
<rect x="376.94" y="195.9" width="42.3" height="62.9" fill="#7cbce8"/>
<path fill="#64a9de" d="M380.79,195.9 384.63,195.9 388.48,195.9 392.32,195.9 396.17,195.9 400.01,195.9 403.86,195.9 407.7,195.9 411.55,195.9 415.39,195.9 419.24,195.9 419.24,202.19 419.24,208.48 419.24,214.77 419.24,221.06 419.24,227.35 419.24,233.64 419.24,239.93 419.24,246.22 419.24,252.51 419.24,258.8 415.39,258.8 411.55,258.8 410.27,258.8 407.7,254.61 405.78,252.51 403.86,250.94 400.01,252.51 400.01,252.51 396.17,255.66 394.63,258.8 392.32,258.8 388.48,258.8 384.63,258.8 380.79,258.8 376.94,258.8 376.94,252.51 376.94,246.22 376.94,239.93 376.94,233.64 376.94,227.35 376.94,221.06 376.94,214.77 376.94,208.48 376.94,202.19 376.94,195.9Z"/>
<path fill="#4d93d0" d="M380.79,195.9 384.63,195.9 388.48,195.9 392.32,195.9 396.17,195.9 400.01,195.9 403.86,195.9 407.7,195.9 411.55,195.9 415.39,195.9 419.24,195.9 419.24,202.19 419.24,208.48 419.24,214.77 419.24,221.06 419.24,227.35 419.24,233.64 419.24,238.36 415.39,236.16 411.55,237.41 407.7,234.9 403.86,233.64 403.86,233.64 403.86,233.64 400.01,239.93 400.01,239.93 396.17,242.45 393.28,246.22 392.32,247.48 388.48,252.51 384.63,248.74 382.07,246.22 380.79,244.96 376.94,242.45 376.94,239.93 376.94,233.64 376.94,227.35 376.94,221.06 376.94,214.77 376.94,208.48 376.94,202.19 376.94,195.9Z"/>
<path fill="#4596ab" d="M380.79,195.9 384.63,195.9 388.48,195.9 392.32,195.9 396.17,195.9 400.01,195.9 403.86,195.9 404.82,195.9 403.86,198 401.94,202.19 400.01,206.38 399.24,208.48 397.13,214.77 396.17,217.92 395.53,221.06 394.63,227.35 392.32,231.12 389.76,233.64 388.48,234.9 384.63,233.64 384.63,233.64 380.79,230.5 379.25,227.35 376.94,222.63 376.94,221.06 376.94,214.77 376.94,208.48 376.94,202.19 376.94,195.9Z"/>
<path fill="#46a48a" d="M388.48,195.9 392.32,195.9 394.52,195.9 393.97,202.19 392.87,208.48 392.32,210.58 390.78,214.77 388.48,221.06 386.17,214.77 385.91,208.48 385.27,202.19 385.27,195.9Z"/>
<path d="M376.94,195.9h-1.9M376.94,210.93h-1.9M376.94,222.59h-1.9M376.94,232.11h-1.9M376.94,240.17h-1.9M376.94,250.31h-1.9M376.94,254.73h-1.9M376.94,258.8h-1.9M376.94,258.8v2.4M380.79,258.8v2.4M384.63,258.8v2.4M388.48,258.8v2.4M392.32,258.8v2.4M396.17,258.8v2.4M400.01,258.8v2.4M403.86,258.8v2.4M407.7,258.8v2.4M411.55,258.8v2.4M415.39,258.8v2.4M419.24,258.8v2.4" stroke="#000" stroke-width="1.1" fill="none"/>
<rect x="376.94" y="195.9" width="42.3" height="62.9" fill="none" stroke="#000" stroke-width="1.5"/>
<text x="373.34" y="197.7" font-size="3.7" text-anchor="end" fill="#000" stroke="#000" stroke-width="0.15">300</text>
<text x="373.34" y="212.73" font-size="3.7" text-anchor="end" fill="#000" stroke="#000" stroke-width="0.15">400</text>
<text x="373.34" y="224.39" font-size="3.7" text-anchor="end" fill="#000" stroke="#000" stroke-width="0.15">500</text>
<text x="373.34" y="233.91" font-size="3.7" text-anchor="end" fill="#000" stroke="#000" stroke-width="0.15">600</text>
<text x="373.34" y="241.97" font-size="3.7" text-anchor="end" fill="#000" stroke="#000" stroke-width="0.15">700</text>
<text x="373.34" y="252.11" font-size="3.7" text-anchor="end" fill="#000" stroke="#000" stroke-width="0.15">850</text>
<text x="373.34" y="256.53" font-size="3.7" text-anchor="end" fill="#000" stroke="#000" stroke-width="0.15">925</text>
<text x="373.34" y="260.6" font-size="3.7" text-anchor="end" fill="#000" stroke="#000" stroke-width="0.15">1000</text>
<text x="377.14" y="266" font-size="3.8" text-anchor="middle" fill="#000" stroke="#000" stroke-width="0.08">J</text>
<text x="380.99" y="266" font-size="3.8" text-anchor="middle" fill="#000" stroke="#000" stroke-width="0.08">F</text>
<text x="384.83" y="266" font-size="3.8" text-anchor="middle" fill="#000" stroke="#000" stroke-width="0.08">M</text>
<text x="388.68" y="266" font-size="3.8" text-anchor="middle" fill="#000" stroke="#000" stroke-width="0.08">A</text>
<text x="392.52" y="266" font-size="3.8" text-anchor="middle" fill="#000" stroke="#000" stroke-width="0.08">M</text>
<text x="396.37" y="266" font-size="3.8" text-anchor="middle" fill="#000" stroke="#000" stroke-width="0.08">J</text>
<text x="400.21" y="266" font-size="3.8" text-anchor="middle" fill="#000" stroke="#000" stroke-width="0.08">J</text>
<text x="404.06" y="266" font-size="3.8" text-anchor="middle" fill="#000" stroke="#000" stroke-width="0.08">A</text>
<text x="407.9" y="266" font-size="3.8" text-anchor="middle" fill="#000" stroke="#000" stroke-width="0.08">S</text>
<text x="411.75" y="266" font-size="3.8" text-anchor="middle" fill="#000" stroke="#000" stroke-width="0.08">O</text>
<text x="415.59" y="266" font-size="3.8" text-anchor="middle" fill="#000" stroke="#000" stroke-width="0.08">N</text>
<text x="419.44" y="266" font-size="3.8" text-anchor="middle" fill="#000" stroke="#000" stroke-width="0.08">D</text>
</g>
<g>
<rect x="448.7" y="195.9" width="42.3" height="62.9" fill="#7cbce8"/>
<path fill="#64a9de" d="M452.55,195.9 456.39,195.9 460.24,195.9 464.08,195.9 467.93,195.9 471.77,195.9 475.62,195.9 479.46,195.9 483.31,195.9 487.15,195.9 491,195.9 491,202.19 491,208.48 491,214.77 491,221.06 491,227.35 491,233.64 491,239.93 491,246.22 491,252.51 491,258.8 487.15,258.8 483.31,258.8 479.46,258.8 477.54,258.8 475.62,255.66 471.77,256.28 470.49,258.8 467.93,258.8 464.08,258.8 460.24,258.8 456.39,258.8 452.55,258.8 448.7,258.8 448.7,252.51 448.7,246.22 448.7,239.93 448.7,233.64 448.7,227.35 448.7,221.06 448.7,214.77 448.7,208.48 448.7,202.19 448.7,195.9Z"/>
<path fill="#4d93d0" d="M452.55,195.9 456.39,195.9 460.24,195.9 464.08,195.9 467.93,195.9 471.77,195.9 475.62,195.9 479.46,195.9 483.31,195.9 487.15,195.9 491,195.9 491,202.19 491,208.48 491,214.77 491,221.06 491,227.35 491,233.64 491,239.93 491,242.45 487.15,244.12 485.23,246.22 483.31,247.48 481.39,246.22 479.46,243.07 478.5,239.93 475.62,235.21 471.77,236.16 470.33,239.93 469.03,246.22 467.93,250.41 467.29,252.51 464.08,258.8 460.24,257.75 457.03,252.51 456.39,251.25 453.31,246.22 452.55,244.96 448.7,242.45 448.7,239.93 448.7,233.64 448.7,227.35 448.7,221.06 448.7,214.77 448.7,208.48 448.7,202.19 448.7,195.9Z"/>
<path fill="#4596ab" d="M456.39,195.9 460.24,195.9 464.08,195.9 467.93,195.9 471.13,195.9 471.13,202.19 470.67,208.48 470.49,214.77 469.85,221.06 468.7,227.35 467.93,229.45 466.65,233.64 465.18,239.93 464.08,244.12 460.24,246.22 457.67,239.93 456.39,235.74 455.75,233.64 455.11,227.35 454.85,221.06 454.47,214.77 454.47,208.48 454.85,202.19 454.85,195.9Z"/>
<path fill="#46a48a" d="M464.08,195.9 464.72,195.9 464.08,202.19 463.31,195.9Z"/>
<path d="M448.7,195.9h-1.9M448.7,210.93h-1.9M448.7,222.59h-1.9M448.7,232.11h-1.9M448.7,240.17h-1.9M448.7,250.31h-1.9M448.7,254.73h-1.9M448.7,258.8h-1.9M448.7,258.8v2.4M452.55,258.8v2.4M456.39,258.8v2.4M460.24,258.8v2.4M464.08,258.8v2.4M467.93,258.8v2.4M471.77,258.8v2.4M475.62,258.8v2.4M479.46,258.8v2.4M483.31,258.8v2.4M487.15,258.8v2.4M491,258.8v2.4" stroke="#000" stroke-width="1.1" fill="none"/>
<rect x="448.7" y="195.9" width="42.3" height="62.9" fill="none" stroke="#000" stroke-width="1.5"/>
<text x="445.1" y="197.7" font-size="3.7" text-anchor="end" fill="#000" stroke="#000" stroke-width="0.15">300</text>
<text x="445.1" y="212.73" font-size="3.7" text-anchor="end" fill="#000" stroke="#000" stroke-width="0.15">400</text>
<text x="445.1" y="224.39" font-size="3.7" text-anchor="end" fill="#000" stroke="#000" stroke-width="0.15">500</text>
<text x="445.1" y="233.91" font-size="3.7" text-anchor="end" fill="#000" stroke="#000" stroke-width="0.15">600</text>
<text x="445.1" y="241.97" font-size="3.7" text-anchor="end" fill="#000" stroke="#000" stroke-width="0.15">700</text>
<text x="445.1" y="252.11" font-size="3.7" text-anchor="end" fill="#000" stroke="#000" stroke-width="0.15">850</text>
<text x="445.1" y="256.53" font-size="3.7" text-anchor="end" fill="#000" stroke="#000" stroke-width="0.15">925</text>
<text x="445.1" y="260.6" font-size="3.7" text-anchor="end" fill="#000" stroke="#000" stroke-width="0.15">1000</text>
<text x="448.9" y="266" font-size="3.8" text-anchor="middle" fill="#000" stroke="#000" stroke-width="0.08">J</text>
<text x="452.75" y="266" font-size="3.8" text-anchor="middle" fill="#000" stroke="#000" stroke-width="0.08">F</text>
<text x="456.59" y="266" font-size="3.8" text-anchor="middle" fill="#000" stroke="#000" stroke-width="0.08">M</text>
<text x="460.44" y="266" font-size="3.8" text-anchor="middle" fill="#000" stroke="#000" stroke-width="0.08">A</text>
<text x="464.28" y="266" font-size="3.8" text-anchor="middle" fill="#000" stroke="#000" stroke-width="0.08">M</text>
<text x="468.13" y="266" font-size="3.8" text-anchor="middle" fill="#000" stroke="#000" stroke-width="0.08">J</text>
<text x="471.97" y="266" font-size="3.8" text-anchor="middle" fill="#000" stroke="#000" stroke-width="0.08">J</text>
<text x="475.82" y="266" font-size="3.8" text-anchor="middle" fill="#000" stroke="#000" stroke-width="0.08">A</text>
<text x="479.66" y="266" font-size="3.8" text-anchor="middle" fill="#000" stroke="#000" stroke-width="0.08">S</text>
<text x="483.51" y="266" font-size="3.8" text-anchor="middle" fill="#000" stroke="#000" stroke-width="0.08">O</text>
<text x="487.35" y="266" font-size="3.8" text-anchor="middle" fill="#000" stroke="#000" stroke-width="0.08">N</text>
<text x="491.2" y="266" font-size="3.8" text-anchor="middle" fill="#000" stroke="#000" stroke-width="0.08">D</text>
</g>
<g>
<rect x="520.46" y="195.9" width="42.3" height="62.9" fill="#96d1f2"/>
<path fill="#7cbce8" d="M524.31,195.9 528.15,195.9 532,195.9 535.84,195.9 539.69,195.9 543.53,195.9 547.38,195.9 551.22,195.9 555.07,195.9 558.91,195.9 562.76,195.9 562.76,202.19 562.76,208.48 562.76,214.77 562.76,221.06 562.76,227.35 562.76,233.64 562.76,239.93 562.76,246.22 562.76,252.51 562.76,258.8 558.91,258.8 555.07,258.8 553.53,258.8 551.22,256.81 547.89,252.51 547.38,251.96 545.84,252.51 543.53,254.08 539.69,255.02 535.84,256.47 532,257.66 529.69,258.8 528.15,258.8 524.31,258.8 520.46,258.8 520.46,252.51 520.46,246.22 520.46,239.93 520.46,233.64 520.46,227.35 520.46,221.06 520.46,214.77 520.46,208.48 520.46,202.19 520.46,195.9Z"/>
<path fill="#64a9de" d="M524.31,195.9 528.15,195.9 532,195.9 535.84,195.9 539.69,195.9 543.53,195.9 547.38,195.9 551.22,195.9 555.07,195.9 558.91,195.9 562.76,195.9 562.76,202.19 562.76,208.48 562.76,214.77 562.76,221.06 562.76,227.35 562.76,233.64 562.76,239.93 562.76,246.22 562.76,252.51 562.76,256.03 558.91,256.28 555.07,256.07 551.22,253.5 550.45,252.51 547.38,249.23 543.53,250.06 539.69,250.34 536,252.51 535.84,252.59 532,253.87 528.15,255.84 524.31,256.23 520.46,256 520.46,252.51 520.46,246.22 520.46,239.93 520.46,233.64 520.46,227.35 520.46,221.06 520.46,214.77 520.46,208.48 520.46,202.19 520.46,195.9Z"/>
<path fill="#4d93d0" d="M524.31,195.9 528.15,195.9 532,195.9 535.84,195.9 539.69,195.9 543.53,195.9 547.38,195.9 551.22,195.9 555.07,195.9 558.91,195.9 562.76,195.9 562.76,202.19 562.76,208.48 562.76,214.77 562.76,221.06 562.76,227.35 562.76,233.64 562.76,239.93 562.76,246.22 562.76,252.1 558.91,252.09 555.07,251.38 551.22,249.12 547.38,246.49 543.53,246.57 541.7,246.22 539.69,245.63 538.41,246.22 535.84,247.37 532,249.16 528.15,252.03 524.31,251.98 520.46,251.5 520.46,246.22 520.46,239.93 520.46,233.64 520.46,227.35 520.46,221.06 520.46,214.77 520.46,208.48 520.46,202.19 520.46,195.9Z"/>
<path fill="#4596ab" d="M524.31,195.9 528.15,195.9 532,195.9 535.84,195.9 539.69,195.9 543.53,195.9 547.38,195.9 551.22,195.9 555.07,195.9 558.91,195.9 562.76,195.9 562.76,202.19 562.76,208.48 562.76,214.77 562.76,221.06 562.76,227.35 562.76,233.64 562.76,239.93 562.76,246.22 562.76,248.35 558.91,247.84 555.07,246.22 555.07,246.22 551.22,244.05 547.38,240.98 543.53,241.5 539.69,240.3 535.84,241.99 532,244.07 529.35,246.22 528.15,247.19 524.31,247.86 520.46,247.44 520.46,246.22 520.46,239.93 520.46,233.64 520.46,227.35 520.46,221.06 520.46,214.77 520.46,208.48 520.46,202.19 520.46,195.9Z"/>
<path fill="#46a48a" d="M524.31,195.9 528.15,195.9 532,195.9 535.84,195.9 539.69,195.9 543.53,195.9 547.38,195.9 551.22,195.9 555.07,195.9 558.91,195.9 562.76,195.9 562.76,202.19 562.76,208.48 562.76,214.77 562.76,221.06 562.76,227.35 562.76,233.64 562.76,239.93 562.76,244.3 558.91,243.27 555.07,241.38 552.93,239.93 551.22,238.67 547.38,235.15 543.53,236.07 539.69,233.96 535.84,236.32 532,239.21 531.16,239.93 528.15,242.46 524.31,243.32 520.46,243.07 520.46,239.93 520.46,233.64 520.46,227.35 520.46,221.06 520.46,214.77 520.46,208.48 520.46,202.19 520.46,195.9Z"/>
<path fill="#47af62" d="M524.31,195.9 528.15,195.9 532,195.9 535.84,195.9 539.69,195.9 543.53,195.9 547.38,195.9 551.22,195.9 555.07,195.9 556.35,195.9 556.99,202.19 558.15,208.48 558.91,210.05 560.2,208.48 562.76,202.19 562.76,208.48 562.76,214.77 562.76,221.06 562.76,227.35 562.76,233.64 562.76,239.59 558.91,237.23 555.07,235.53 551.68,233.64 551.22,233.17 547.38,229.56 543.53,230.25 540.05,227.35 539.69,226.45 539.36,227.35 535.84,230.5 532.88,233.64 532,234.41 528.15,237.44 524.31,238.63 520.46,238.67 520.46,233.64 520.46,227.35 520.46,221.06 520.46,214.77 520.46,208.48 520.46,202.19 520.46,195.9Z"/>
<path fill="#50b94a" d="M532,195.9 535.84,195.9 539.69,195.9 543.53,195.9 547.38,195.9 550.12,195.9 550.12,202.19 549.78,208.48 548.66,214.77 547.38,217.29 543.53,219.8 541.61,214.77 539.69,208.48 539.69,208.48 539.69,208.48 537.49,214.77 535.84,218.54 534.56,221.06 532,227.35 532,227.35 528.15,230.94 525.59,233.64 524.31,234.29 520.46,234.48 520.46,233.64 520.46,227.35 520.46,221.06 520.46,216.34 521.42,214.77 524.31,211 525.84,208.48 528.15,202.19 528.15,202.19 529.11,195.9Z"/>
<path d="M520.46,195.9h-1.9M520.46,210.93h-1.9M520.46,222.59h-1.9M520.46,232.11h-1.9M520.46,240.17h-1.9M520.46,250.31h-1.9M520.46,254.73h-1.9M520.46,258.8h-1.9M520.46,258.8v2.4M524.31,258.8v2.4M528.15,258.8v2.4M532,258.8v2.4M535.84,258.8v2.4M539.69,258.8v2.4M543.53,258.8v2.4M547.38,258.8v2.4M551.22,258.8v2.4M555.07,258.8v2.4M558.91,258.8v2.4M562.76,258.8v2.4" stroke="#000" stroke-width="1.1" fill="none"/>
<rect x="520.46" y="195.9" width="42.3" height="62.9" fill="none" stroke="#000" stroke-width="1.5"/>
<text x="516.86" y="197.7" font-size="3.7" text-anchor="end" fill="#000" stroke="#000" stroke-width="0.15">300</text>
<text x="516.86" y="212.73" font-size="3.7" text-anchor="end" fill="#000" stroke="#000" stroke-width="0.15">400</text>
<text x="516.86" y="224.39" font-size="3.7" text-anchor="end" fill="#000" stroke="#000" stroke-width="0.15">500</text>
<text x="516.86" y="233.91" font-size="3.7" text-anchor="end" fill="#000" stroke="#000" stroke-width="0.15">600</text>
<text x="516.86" y="241.97" font-size="3.7" text-anchor="end" fill="#000" stroke="#000" stroke-width="0.15">700</text>
<text x="516.86" y="252.11" font-size="3.7" text-anchor="end" fill="#000" stroke="#000" stroke-width="0.15">850</text>
<text x="516.86" y="256.53" font-size="3.7" text-anchor="end" fill="#000" stroke="#000" stroke-width="0.15">925</text>
<text x="516.86" y="260.6" font-size="3.7" text-anchor="end" fill="#000" stroke="#000" stroke-width="0.15">1000</text>
<text x="520.66" y="266" font-size="3.8" text-anchor="middle" fill="#000" stroke="#000" stroke-width="0.08">J</text>
<text x="524.51" y="266" font-size="3.8" text-anchor="middle" fill="#000" stroke="#000" stroke-width="0.08">F</text>
<text x="528.35" y="266" font-size="3.8" text-anchor="middle" fill="#000" stroke="#000" stroke-width="0.08">M</text>
<text x="532.2" y="266" font-size="3.8" text-anchor="middle" fill="#000" stroke="#000" stroke-width="0.08">A</text>
<text x="536.04" y="266" font-size="3.8" text-anchor="middle" fill="#000" stroke="#000" stroke-width="0.08">M</text>
<text x="539.89" y="266" font-size="3.8" text-anchor="middle" fill="#000" stroke="#000" stroke-width="0.08">J</text>
<text x="543.73" y="266" font-size="3.8" text-anchor="middle" fill="#000" stroke="#000" stroke-width="0.08">J</text>
<text x="547.58" y="266" font-size="3.8" text-anchor="middle" fill="#000" stroke="#000" stroke-width="0.08">A</text>
<text x="551.42" y="266" font-size="3.8" text-anchor="middle" fill="#000" stroke="#000" stroke-width="0.08">S</text>
<text x="555.27" y="266" font-size="3.8" text-anchor="middle" fill="#000" stroke="#000" stroke-width="0.08">O</text>
<text x="559.11" y="266" font-size="3.8" text-anchor="middle" fill="#000" stroke="#000" stroke-width="0.08">N</text>
<text x="562.96" y="266" font-size="3.8" text-anchor="middle" fill="#000" stroke="#000" stroke-width="0.08">D</text>
</g>
<g>
<rect x="592.22" y="195.9" width="42.3" height="62.9" fill="#64a9de"/>
<path fill="#4d93d0" d="M596.07,195.9 599.91,195.9 603.76,195.9 607.6,195.9 611.45,195.9 615.29,195.9 619.14,195.9 622.98,195.9 626.83,195.9 630.67,195.9 634.52,195.9 634.52,202.19 634.52,208.48 634.52,214.77 634.52,221.06 634.52,227.35 634.52,233.64 634.52,239.93 634.52,246.22 634.52,252.51 634.52,258.8 630.67,258.8 626.83,258.8 622.98,258.8 620.42,258.8 621.54,252.51 622.98,248.74 624.27,246.22 624.27,239.93 622.98,237.83 620.42,233.64 619.14,232.07 615.29,231.42 613.64,233.64 611.45,239.93 611.45,239.93 610.59,246.22 610.17,252.51 610.17,258.8 607.6,258.8 603.76,258.8 599.91,258.8 596.07,258.8 592.22,258.8 592.22,252.51 592.22,246.22 592.22,239.93 592.22,233.64 592.22,227.35 592.22,221.06 592.22,214.77 592.22,208.48 592.22,202.19 592.22,195.9Z"/>
<path fill="#4596ab" d="M596.07,195.9 599.91,195.9 603.76,195.9 607.6,195.9 611.45,195.9 615.29,195.9 619.14,195.9 622.98,195.9 626.83,195.9 630.67,195.9 634.52,195.9 634.52,202.19 634.52,208.48 634.52,214.77 634.52,221.06 634.52,227.35 634.52,230.94 630.67,231.54 626.83,230.94 622.98,228.25 622.21,227.35 619.14,223.76 615.29,224.02 611.45,227.35 611.45,227.35 609.14,233.64 607.95,239.93 607.6,241.5 605.95,246.22 604.31,252.51 603.76,253.56 599.91,252.51 599.91,252.51 596.71,246.22 596.07,244.12 594.53,239.93 592.22,236.78 592.22,233.64 592.22,227.35 592.22,221.06 592.22,214.77 592.22,208.48 592.22,202.19 592.22,195.9ZM626.83,255.03 628.48,258.8 626.83,258.8 625.55,258.8Z"/>
<path fill="#46a48a" d="M603.76,195.9 607.6,195.9 611.45,195.9 615.29,195.9 619.14,195.9 622.98,195.9 626.83,195.9 629.39,195.9 629.39,202.19 628.75,208.48 627.6,214.77 626.83,216.34 622.98,216.57 619.14,214.77 619.14,214.77 619.14,214.77 615.29,215.67 611.45,218.36 609.52,221.06 607.6,224.49 603.76,227.35 601.45,221.06 601.19,214.77 601.19,208.48 601.19,202.19 601.19,195.9Z"/>
<path fill="#47af62" d="M607.6,195.9 611.45,195.9 615.29,195.9 619.14,195.9 622.98,195.9 619.14,198 615.29,202.19 615.29,202.19 611.45,206.38 608.88,208.48 607.6,210.05 607.05,208.48 606.64,202.19 606.64,195.9Z"/>
<rect x="607.6" y="254.8" width="7.69" height="4" fill="#999"/>
<path d="M592.22,195.9h-1.9M592.22,210.93h-1.9M592.22,222.59h-1.9M592.22,232.11h-1.9M592.22,240.17h-1.9M592.22,250.31h-1.9M592.22,254.73h-1.9M592.22,258.8h-1.9M592.22,258.8v2.4M596.07,258.8v2.4M599.91,258.8v2.4M603.76,258.8v2.4M607.6,258.8v2.4M611.45,258.8v2.4M615.29,258.8v2.4M619.14,258.8v2.4M622.98,258.8v2.4M626.83,258.8v2.4M630.67,258.8v2.4M634.52,258.8v2.4" stroke="#000" stroke-width="1.1" fill="none"/>
<rect x="592.22" y="195.9" width="42.3" height="62.9" fill="none" stroke="#000" stroke-width="1.5"/>
<text x="588.62" y="197.7" font-size="3.7" text-anchor="end" fill="#000" stroke="#000" stroke-width="0.15">300</text>
<text x="588.62" y="212.73" font-size="3.7" text-anchor="end" fill="#000" stroke="#000" stroke-width="0.15">400</text>
<text x="588.62" y="224.39" font-size="3.7" text-anchor="end" fill="#000" stroke="#000" stroke-width="0.15">500</text>
<text x="588.62" y="233.91" font-size="3.7" text-anchor="end" fill="#000" stroke="#000" stroke-width="0.15">600</text>
<text x="588.62" y="241.97" font-size="3.7" text-anchor="end" fill="#000" stroke="#000" stroke-width="0.15">700</text>
<text x="588.62" y="252.11" font-size="3.7" text-anchor="end" fill="#000" stroke="#000" stroke-width="0.15">850</text>
<text x="588.62" y="256.53" font-size="3.7" text-anchor="end" fill="#000" stroke="#000" stroke-width="0.15">925</text>
<text x="588.62" y="260.6" font-size="3.7" text-anchor="end" fill="#000" stroke="#000" stroke-width="0.15">1000</text>
<text x="592.42" y="266" font-size="3.8" text-anchor="middle" fill="#000" stroke="#000" stroke-width="0.08">J</text>
<text x="596.27" y="266" font-size="3.8" text-anchor="middle" fill="#000" stroke="#000" stroke-width="0.08">F</text>
<text x="600.11" y="266" font-size="3.8" text-anchor="middle" fill="#000" stroke="#000" stroke-width="0.08">M</text>
<text x="603.96" y="266" font-size="3.8" text-anchor="middle" fill="#000" stroke="#000" stroke-width="0.08">A</text>
<text x="607.8" y="266" font-size="3.8" text-anchor="middle" fill="#000" stroke="#000" stroke-width="0.08">M</text>
<text x="611.65" y="266" font-size="3.8" text-anchor="middle" fill="#000" stroke="#000" stroke-width="0.08">J</text>
<text x="615.49" y="266" font-size="3.8" text-anchor="middle" fill="#000" stroke="#000" stroke-width="0.08">J</text>
<text x="619.34" y="266" font-size="3.8" text-anchor="middle" fill="#000" stroke="#000" stroke-width="0.08">A</text>
<text x="623.18" y="266" font-size="3.8" text-anchor="middle" fill="#000" stroke="#000" stroke-width="0.08">S</text>
<text x="627.03" y="266" font-size="3.8" text-anchor="middle" fill="#000" stroke="#000" stroke-width="0.08">O</text>
<text x="630.87" y="266" font-size="3.8" text-anchor="middle" fill="#000" stroke="#000" stroke-width="0.08">N</text>
<text x="634.72" y="266" font-size="3.8" text-anchor="middle" fill="#000" stroke="#000" stroke-width="0.08">D</text>
</g>
<text x="10.7" y="34.0" font-size="10.3" text-anchor="middle">SAP</text>
<text x="10.7" y="133.0" font-size="10.3" text-anchor="middle">POH</text>
<text x="10.7" y="232.6" font-size="10.3" text-anchor="middle">HKO</text>
<text transform="translate(55.5,192) rotate(-90)" font-size="15.3">Pressure (hPa)</text>
<text x="335.6" y="300.4" font-size="15.3">Month</text>
<text x="658.3" y="223.1" font-size="10.3">[ppbv]</text>
<rect x="659.5" y="47" width="8" height="6.97" fill="#b81c24" stroke="#111" stroke-width="0.7"/>
<rect x="659.5" y="53.97" width="8" height="6.97" fill="#ca2028" stroke="#111" stroke-width="0.7"/>
<rect x="659.5" y="60.94" width="8" height="6.97" fill="#da242b" stroke="#111" stroke-width="0.7"/>
<rect x="659.5" y="67.9" width="8" height="6.97" fill="#e43a28" stroke="#111" stroke-width="0.7"/>
<rect x="659.5" y="74.87" width="8" height="6.97" fill="#ec4d27" stroke="#111" stroke-width="0.7"/>
<rect x="659.5" y="81.84" width="8" height="6.97" fill="#f16726" stroke="#111" stroke-width="0.7"/>
<rect x="659.5" y="88.81" width="8" height="6.97" fill="#f68229" stroke="#111" stroke-width="0.7"/>
<rect x="659.5" y="95.78" width="8" height="6.97" fill="#fa9b32" stroke="#111" stroke-width="0.7"/>
<rect x="659.5" y="102.74" width="8" height="6.97" fill="#f8ae3e" stroke="#111" stroke-width="0.7"/>
<rect x="659.5" y="109.71" width="8" height="6.97" fill="#fdd44c" stroke="#111" stroke-width="0.7"/>
<rect x="659.5" y="116.68" width="8" height="6.97" fill="#ebe04e" stroke="#111" stroke-width="0.7"/>
<rect x="659.5" y="123.65" width="8" height="6.97" fill="#b9d84a" stroke="#111" stroke-width="0.7"/>
<rect x="659.5" y="130.62" width="8" height="6.97" fill="#82ca47" stroke="#111" stroke-width="0.7"/>
<rect x="659.5" y="137.58" width="8" height="6.97" fill="#50b94a" stroke="#111" stroke-width="0.7"/>
<rect x="659.5" y="144.55" width="8" height="6.97" fill="#47af62" stroke="#111" stroke-width="0.7"/>
<rect x="659.5" y="151.52" width="8" height="6.97" fill="#46a48a" stroke="#111" stroke-width="0.7"/>
<rect x="659.5" y="158.49" width="8" height="6.97" fill="#4596ab" stroke="#111" stroke-width="0.7"/>
<rect x="659.5" y="165.46" width="8" height="6.97" fill="#4d93d0" stroke="#111" stroke-width="0.7"/>
<rect x="659.5" y="172.42" width="8" height="6.97" fill="#64a9de" stroke="#111" stroke-width="0.7"/>
<rect x="659.5" y="179.39" width="8" height="6.97" fill="#7cbce8" stroke="#111" stroke-width="0.7"/>
<rect x="659.5" y="186.36" width="8" height="6.97" fill="#96d1f2" stroke="#111" stroke-width="0.7"/>
<rect x="659.5" y="193.33" width="8" height="6.97" fill="#b1e0f8" stroke="#111" stroke-width="0.7"/>
<text x="677.3" y="58.17" font-size="10.2" text-anchor="middle">210</text>
<text x="677.3" y="72.1" font-size="10.2" text-anchor="middle">190</text>
<text x="677.3" y="86.04" font-size="10.2" text-anchor="middle">170</text>
<text x="677.3" y="99.98" font-size="10.2" text-anchor="middle">150</text>
<text x="677.3" y="113.91" font-size="10.2" text-anchor="middle">130</text>
<text x="677.3" y="127.85" font-size="10.2" text-anchor="middle">110</text>
<text x="677.3" y="141.78" font-size="10.2" text-anchor="middle">90</text>
<text x="677.3" y="155.72" font-size="10.2" text-anchor="middle">70</text>
<text x="677.3" y="169.66" font-size="10.2" text-anchor="middle">50</text>
<text x="677.3" y="183.59" font-size="10.2" text-anchor="middle">30</text>
<text x="677.3" y="197.53" font-size="10.2" text-anchor="middle">10</text>
</svg>
</body></html>
